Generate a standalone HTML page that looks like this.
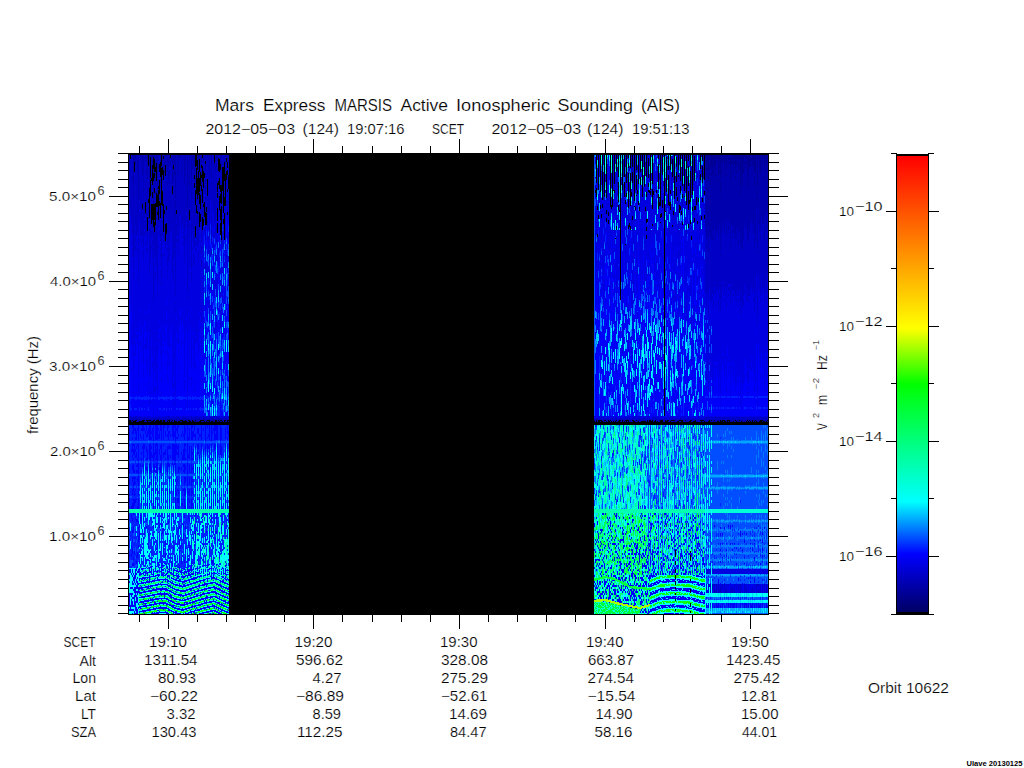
<!DOCTYPE html>
<html><head><meta charset="utf-8"><style>
html,body{margin:0;padding:0;background:#fff;width:1024px;height:768px;overflow:hidden}
svg{display:block}
text{font-family:"Liberation Sans",sans-serif;fill:#000;stroke:#fff;stroke-width:0.18px}
</style></head><body>
<svg width="1024" height="768" viewBox="0 0 1024 768" shape-rendering="crispEdges">
<defs><linearGradient id="cbg" x1="0" y1="0" x2="0" y2="1">
<stop offset="0" stop-color="#ff0000"/>
<stop offset="0.378" stop-color="#ffff00"/>
<stop offset="0.5" stop-color="#00ff00"/>
<stop offset="0.758" stop-color="#00ffff"/>
<stop offset="0.873" stop-color="#0000ff"/>
<stop offset="1" stop-color="#000064"/>
</linearGradient></defs>
<rect width="1024" height="768" fill="#fff"/>
<rect x="129" y="155" width="640" height="459" fill="#000"/><g transform="translate(0.5,155)" fill="none" stroke-width="1"><path stroke="#000096" d="M131 266v1M149 266v1M150 266v1M168 266v1M191 266v1M194 266v1M195 266v1M198 266v1M201 266v1M203 266v1M213 266v1M218 266v1"/><path stroke="#0000ae" d="M129 0v21M129 24v5M129 33v1M131 265v1M132 0v3M132 21v3M132 264v1M132 266v1M133 0v30M133 36v3M133 264v1M134 0v7M134 263v1M134 265v1M135 0v9M136 3v3M136 266v1M137 6v10M137 264v1M137 266v1M138 0v45M138 265v2M139 264v2M140 0v5M140 9v2M140 265v1M141 0v9M141 265v1M142 0v6M142 12v8M143 0v17M143 18v3M143 24v3M143 33v3M143 264v1M144 3v1M144 266v1M145 0v6M145 15v1M145 266v1M146 0v6M146 15v3M146 264v1M146 266v1M147 0v24M147 33v3M148 266v1M149 0v33M149 264v1M150 0v2M150 23v2M150 264v1M151 0v6M151 265v1M152 0v10M152 265v1M153 0v2M153 14v4M153 26v23M154 0v4M154 24v3M154 264v1M154 266v1M155 0v12M155 17v13M155 36v3M155 264v1M156 0v8M156 26v1M156 36v2M157 0v40M157 54v3M157 264v1M158 3v3M158 9v3M158 263v2M159 265v1M160 0v7M161 11v2M161 264v1M162 0v6M162 265v2M163 4v2M163 9v6M164 0v3M164 6v12M165 0v9M165 264v3M166 265v2M167 0v18M167 27v3M167 264v2M168 0v12M168 15v10M168 264v1M169 0v6M169 9v3M169 15v6M169 27v2M169 264v1M170 6v3M170 264v3M171 3v3M171 264v2M172 0v30M172 266v1M173 0v10M173 14v13M173 264v1M173 266v1M174 0v9M174 12v9M175 0v44M175 45v9M175 57v6M175 265v1M176 264v2M177 0v6M177 9v3M177 15v3M177 265v2M178 0v15M178 18v3M178 265v1M179 0v3M179 264v2M180 0v2M180 266v1M181 0v3M181 6v3M181 12v6M181 266v1M182 3v3M182 9v3M183 0v1M183 3v1M183 264v2M184 0v30M184 265v1M185 3v6M185 12v3M185 18v3M185 263v1M186 9v2M186 265v1M187 0v54M187 264v3M188 6v3M188 266v1M189 0v29M189 30v2M190 265v1M191 0v24M191 27v3M191 36v3M191 265v1M192 0v6M192 9v6M193 0v12M193 265v1M194 0v20M194 24v3M194 265v1M195 12v1M195 264v1M196 264v3M197 0v5M197 264v1M197 266v1M198 0v14M198 264v2M199 0v4M199 264v1M200 6v2M201 0v10M201 13v1M201 18v2M201 23v3M201 27v3M201 264v1M202 266v1M203 0v7M203 263v1M204 264v2M205 0v6M205 9v6M205 18v3M205 24v5M205 30v9M205 265v2M206 264v2M207 266v1M208 266v1M209 0v15M209 18v1M209 264v1M210 265v2M211 0v12M211 15v9M211 27v3M211 265v1M212 264v2M213 264v2M214 8v4M214 264v3M215 3v3M215 12v3M215 264v1M216 0v4M216 9v3M217 0v6M217 265v2M219 264v2M220 0v9M220 15v3M220 263v1M220 266v1M221 0v3M221 6v6M221 264v1M221 266v1M223 265v2M224 263v1M225 0v9M225 12v3M225 263v1M225 266v1M226 264v3M227 0v5M228 266v1"/><path stroke="#0000c7" d="M129 21v3M129 29v4M129 34v53M129 90v7M129 108v3M129 261v4M130 4v50M130 57v3M130 261v4M131 0v68M131 75v2M131 262v3M132 3v18M132 24v57M132 84v6M132 93v2M132 96v6M132 263v1M133 30v6M133 39v63M133 105v9M133 117v6M133 261v3M133 265v1M134 17v64M134 84v12M134 99v3M134 105v1M134 262v1M134 264v1M135 9v63M135 75v3M135 81v6M135 90v5M135 96v2M135 261v4M136 0v3M136 6v75M136 87v3M136 261v4M137 0v6M137 16v62M137 93v4M137 262v2M137 265v1M138 45v72M138 120v9M138 262v3M139 0v55M139 57v6M139 262v2M140 5v4M140 11v70M140 84v3M140 262v3M141 9v72M141 84v1M141 87v3M141 263v2M142 6v6M142 20v29M142 54v27M142 84v3M142 96v1M142 262v3M143 17v1M143 21v3M143 27v6M143 36v57M143 96v9M143 263v1M144 0v3M144 4v59M144 66v9M144 78v3M144 262v3M145 6v9M145 16v31M145 58v23M145 87v3M145 262v4M146 6v9M146 18v60M146 93v3M146 262v2M147 24v9M147 36v26M147 76v15M147 93v6M147 262v3M148 11v33M148 48v16M148 66v3M148 75v3M148 262v3M149 63v57M149 263v1M150 41v61M150 105v3M150 126v2M150 262v2M151 6v17M151 26v23M151 69v12M151 90v3M151 263v2M152 30v7M152 43v6M152 65v16M152 84v6M152 93v3M152 99v4M152 262v3M153 72v75M153 156v2M153 263v2M154 17v1M154 23v1M154 27v6M154 38v11M154 65v2M154 77v22M154 108v3M154 263v1M155 30v6M155 39v9M155 70v35M155 117v6M155 262v2M155 265v1M156 27v9M156 52v50M156 105v6M156 262v3M157 52v2M157 60v69M157 138v3M157 262v2M158 0v3M158 6v3M158 12v19M158 34v1M158 65v8M158 90v3M158 262v1M159 0v9M159 17v8M159 39v7M159 51v18M159 75v6M159 262v3M160 22v26M160 63v7M160 72v14M160 93v1M160 99v3M160 263v2M161 50v61M161 114v9M161 126v4M161 263v1M162 6v6M162 20v16M162 51v12M162 66v3M162 72v1M162 75v6M162 262v3M163 0v1M163 6v3M163 25v24M163 78v9M163 99v2M163 262v3M164 3v3M164 18v37M164 59v16M164 78v9M164 99v2M164 263v2M165 9v1M165 21v48M165 86v7M165 262v2M166 0v51M166 55v8M166 261v1M166 263v2M167 18v9M167 30v60M167 93v3M167 102v9M167 114v3M167 120v3M167 261v1M167 263v1M168 12v3M168 25v80M168 261v3M169 6v3M169 12v3M169 21v6M169 29v58M169 93v3M169 99v3M169 105v2M169 261v3M170 3v3M170 9v69M170 263v1M171 0v3M171 6v63M171 72v3M171 262v2M172 30v1M172 39v81M172 262v3M173 27v78M173 114v3M173 120v6M173 262v2M173 265v1M174 9v3M174 21v68M174 90v3M174 96v6M174 108v3M174 263v2M175 44v1M175 54v3M175 63v68M175 132v9M175 147v2M175 153v3M175 262v3M176 0v55M176 59v7M176 69v12M176 84v3M176 261v3M177 6v3M177 12v3M177 18v63M177 84v4M177 90v6M177 99v1M177 262v3M178 15v3M178 21v69M178 96v3M178 262v3M179 3v60M179 66v6M179 263v1M180 2v58M180 63v2M180 66v1M180 262v3M181 3v3M181 9v3M181 18v60M181 262v3M182 0v3M182 6v3M182 12v47M182 60v9M182 263v2M183 1v2M183 4v71M183 78v2M183 81v3M183 87v3M183 261v3M184 30v72M184 105v3M184 126v1M184 129v1M184 262v3M185 0v3M185 9v3M185 15v3M185 21v50M185 72v3M185 81v6M185 102v1M185 262v1M185 264v1M186 0v9M186 11v46M186 60v6M186 69v3M186 81v2M186 262v3M187 54v84M187 141v3M187 156v3M187 263v1M188 0v6M188 9v66M188 78v3M188 262v3M189 29v1M189 32v23M189 65v34M189 102v5M189 108v3M189 117v2M189 263v2M190 0v62M190 63v3M190 69v3M190 262v3M191 24v3M191 30v6M191 39v75M191 117v5M191 123v3M191 261v4M192 6v3M192 15v63M192 93v1M192 263v2M193 12v65M193 78v9M193 90v1M193 99v3M193 105v5M193 262v3M194 27v1M194 33v60M194 102v3M194 108v3M194 262v3M195 13v22M195 50v21M195 82v2M195 87v3M195 93v3M195 262v2M196 11v2M196 39v11M196 58v17M196 78v6M196 87v3M196 261v3M197 15v8M197 44v12M197 59v20M197 81v9M197 261v1M197 263v1M197 265v1M198 14v2M198 40v40M198 81v6M198 96v6M198 105v2M198 262v2M199 17v6M199 37v1M199 49v8M199 72v3M199 262v2M199 265v1M200 0v6M200 8v9M200 31v9M200 54v5M200 67v5M200 263v2M201 14v4M201 26v1M201 36v51M201 90v9M201 105v6M201 114v1M201 262v2M202 3v8M202 27v7M202 48v12M202 75v3M202 262v3M203 7v9M203 33v16M203 52v12M203 261v2M203 264v1M204 0v18M204 23v16M204 42v4M204 263v1M205 15v3M205 21v3M205 29v1M205 39v18M205 70v15M205 90v9M205 111v3M205 117v3M205 262v3M206 0v33M206 42v6M206 262v2M207 0v24M207 41v21M207 63v9M207 263v2M208 0v57M208 263v2M209 15v3M209 19v65M209 96v2M209 99v1M209 261v1M209 263v1M210 0v24M210 27v3M210 33v6M210 42v3M210 262v3M211 12v3M211 24v3M211 30v58M211 96v4M211 108v3M211 262v3M212 0v51M212 262v2M213 0v56M213 261v1M213 263v1M214 12v59M214 78v5M214 261v3M215 0v3M215 6v6M215 15v51M215 72v7M215 263v1M216 4v5M216 12v41M216 54v1M216 70v8M216 84v4M216 261v1M216 263v2M217 6v22M217 37v1M217 43v10M217 262v3M218 0v3M218 16v10M218 36v6M218 263v2M219 0v4M219 17v6M219 36v4M219 262v2M220 18v12M220 37v2M220 48v6M220 65v3M220 264v1M221 3v3M221 12v18M221 49v2M221 85v5M221 261v1M221 263v1M222 0v12M222 39v9M222 52v4M222 263v3M223 0v12M223 263v2M224 0v7M224 26v16M224 261v2M224 264v1M225 9v3M225 15v4M225 51v33M225 90v6M225 261v1M225 264v1M226 0v3M226 7v9M226 25v17M226 45v5M226 262v2M227 5v2M227 13v2M227 20v14M227 37v20M227 60v1M227 63v6M227 81v3M227 262v3M228 0v20M228 34v17M228 262v3"/><path stroke="#0000e0" d="M129 87v3M129 97v11M129 111v87M129 201v6M129 210v6M130 54v3M130 60v81M130 144v6M131 68v7M131 77v80M131 168v9M131 180v9M131 261v1M132 81v3M132 90v3M132 95v1M132 102v90M132 195v6M132 213v3M132 261v2M133 102v3M133 114v3M133 123v70M133 195v21M133 219v3M133 228v3M133 237v2M134 81v3M134 96v3M134 102v3M134 106v83M134 198v3M134 204v3M134 210v3M134 222v3M134 261v1M135 72v3M135 78v3M135 87v3M135 95v1M135 98v76M135 177v6M135 186v15M136 81v6M136 90v83M136 174v3M136 180v3M137 78v15M137 97v80M137 180v9M137 261v1M138 117v3M138 129v96M138 228v12M138 261v1M139 55v2M139 63v90M139 156v12M139 171v3M139 261v1M140 81v3M140 87v84M140 174v8M140 186v6M140 195v3M140 261v1M141 81v3M141 85v2M141 90v76M141 168v12M141 186v6M141 204v3M141 261v2M142 81v3M142 87v9M142 97v74M142 183v3M142 192v3M142 201v2M142 261v1M143 93v3M143 105v105M143 213v9M143 247v2M143 261v2M144 63v3M144 75v3M144 81v75M144 159v6M144 174v3M144 189v3M144 261v1M145 81v6M145 90v78M145 171v3M145 183v3M145 189v6M145 198v2M145 261v1M146 78v15M146 96v81M146 183v12M146 204v6M146 261v1M147 91v2M147 99v96M147 201v18M147 228v3M147 261v1M148 64v2M148 69v6M148 78v71M148 150v3M148 159v9M148 171v2M148 174v3M148 261v1M149 120v102M149 225v3M149 234v6M149 246v3M149 261v2M150 102v3M150 108v18M150 128v94M150 231v3M150 237v2M150 246v3M150 261v1M151 81v9M151 93v90M151 186v1M151 192v3M151 201v1M151 261v2M152 81v3M152 90v3M152 96v3M152 103v98M152 207v6M152 261v1M153 147v9M153 158v83M153 246v6M153 255v8M154 99v9M154 111v76M154 192v6M154 201v11M154 213v3M154 234v3M154 261v2M155 105v12M155 123v96M155 222v3M155 231v7M155 261v1M156 102v3M156 111v93M156 207v6M156 216v9M156 231v3M156 261v1M157 129v9M157 141v99M157 246v3M157 256v6M158 73v17M158 93v81M158 177v3M158 183v3M158 189v6M158 261v1M159 69v6M159 81v84M159 168v6M159 183v6M159 261v1M160 70v2M160 86v7M160 94v5M160 102v68M160 171v3M160 177v15M160 195v6M160 261v2M161 111v3M161 123v3M161 130v86M161 222v6M161 237v3M161 257v1M161 261v2M162 63v3M162 69v3M162 73v2M162 81v90M162 174v3M162 180v3M162 189v1M162 261v1M163 77v1M163 87v12M163 101v79M163 183v3M163 189v3M163 195v3M163 261v1M164 75v3M164 87v12M164 101v79M164 183v3M164 207v3M164 261v2M165 93v78M165 177v9M165 195v3M165 261v1M166 63v5M166 79v65M166 150v6M166 165v3M166 262v1M167 90v3M167 96v6M167 111v3M167 117v3M167 123v69M167 195v6M167 204v12M167 219v6M167 262v1M168 105v87M168 198v8M168 207v3M168 225v3M169 87v6M169 96v3M169 102v3M169 107v70M169 180v12M169 207v3M170 78v81M170 162v12M170 177v3M170 189v3M170 261v2M171 69v3M171 75v96M171 174v3M171 261v1M172 120v114M172 247v2M172 261v1M173 105v9M173 117v3M173 126v84M173 213v9M173 228v6M173 237v3M173 246v3M173 261v1M174 89v1M174 93v3M174 102v6M174 111v75M174 189v1M174 192v12M174 210v3M174 216v1M174 225v6M174 261v2M175 131v1M175 141v6M175 149v4M175 156v85M175 245v1M175 247v5M175 258v1M175 261v1M176 66v3M176 81v3M176 87v75M176 165v12M176 183v3M177 81v3M177 88v2M177 96v3M177 100v80M177 183v6M177 201v6M177 261v1M178 90v6M178 99v90M178 192v7M178 207v9M178 219v3M178 225v3M178 261v1M179 63v3M179 72v84M179 159v12M179 186v2M179 261v2M180 60v3M180 65v1M180 67v79M180 147v6M180 162v3M180 261v1M181 78v93M181 177v3M181 183v9M181 198v3M181 261v1M182 59v1M182 69v85M182 156v10M182 261v2M183 75v3M183 80v1M183 84v3M183 90v81M183 174v3M183 186v3M184 102v3M184 108v18M184 127v2M184 130v88M184 219v3M184 225v9M184 261v1M185 71v1M185 75v6M185 87v15M185 103v83M185 261v1M186 57v3M186 66v3M186 72v9M186 83v79M186 165v9M186 261v1M187 138v3M187 144v12M187 159v82M187 245v8M187 261v2M188 75v3M188 81v76M188 159v9M188 171v6M188 261v1M189 99v3M189 107v1M189 111v6M189 119v85M189 207v2M189 222v3M189 261v2M190 62v1M190 66v3M190 72v81M190 156v4M190 162v9M190 261v1M191 114v3M191 122v1M191 126v87M191 222v3M191 228v3M192 78v15M192 94v83M192 180v3M192 192v3M192 261v2M193 77v1M193 87v3M193 91v8M193 102v3M193 110v63M193 174v3M193 180v14M193 198v1M193 201v3M193 207v3M193 261v1M194 93v9M194 105v3M194 111v87M194 201v15M194 225v3M194 231v6M194 261v1M195 84v3M195 90v3M195 96v84M195 183v6M195 198v3M195 210v3M195 261v1M196 75v3M196 84v3M196 90v99M197 79v2M197 90v96M197 198v3M197 262v1M198 80v1M198 87v9M198 102v3M198 107v76M198 186v12M198 216v1M198 261v1M199 75v81M199 159v6M199 174v2M199 189v3M199 261v1M200 72v90M200 165v3M200 171v3M200 186v2M200 261v2M201 87v3M201 99v6M201 111v3M201 115v86M201 210v6M201 225v3M201 261v1M202 60v2M202 78v90M202 174v1M202 261v1M203 71v88M203 162v5M203 168v6M203 180v3M204 39v3M204 46v1M204 62v4M204 72v6M204 108v6M204 261v2M205 85v2M205 99v12M205 114v3M205 120v36M205 168v36M205 231v3M205 261v1M206 33v9M206 48v4M206 57v1M206 70v1M206 106v11M206 261v1M207 62v1M207 72v16M207 95v6M207 107v18M207 137v5M207 144v6M207 153v12M207 261v2M208 57v14M208 72v3M208 81v18M208 111v6M208 129v6M208 141v3M208 147v6M208 261v2M209 84v1M209 91v5M209 98v1M209 100v27M209 133v6M209 145v18M209 175v5M209 201v6M209 262v1M210 24v3M210 30v3M210 39v3M210 45v14M210 60v6M210 96v6M210 132v5M210 261v1M211 94v2M211 106v2M211 111v25M211 148v6M211 160v18M211 190v2M211 198v3M211 261v1M212 51v21M212 75v6M212 87v6M212 111v6M212 123v6M212 261v1M213 56v50M213 112v9M213 126v6M213 135v3M213 144v3M213 262v1M214 77v1M214 89v6M214 125v18M214 173v6M215 66v6M215 79v7M215 98v12M215 122v12M215 152v12M215 170v4M215 177v3M215 183v3M215 200v1M215 261v2M216 53v1M216 55v15M216 78v6M216 100v6M216 118v24M216 160v17M216 262v1M217 66v2M217 78v14M217 95v12M217 119v24M217 149v6M217 168v3M217 261v1M218 30v6M218 42v39M218 93v15M218 261v2M219 34v2M219 40v1M219 55v30M219 87v3M219 91v6M219 103v2M219 108v3M219 117v3M219 123v3M219 261v1M220 113v6M220 125v6M220 137v6M220 155v18M220 204v3M220 261v2M221 90v16M221 112v6M221 124v18M221 148v12M221 166v13M221 180v3M221 262v1M222 36v3M222 48v4M222 56v14M222 76v18M222 112v6M222 130v2M222 135v3M222 141v6M222 261v2M223 58v6M223 69v23M223 98v16M223 117v3M223 128v1M223 261v2M224 51v7M224 107v6M224 132v3M224 138v6M224 147v2M225 84v1M225 89v1M225 96v17M225 119v6M225 131v12M225 144v3M225 155v18M225 174v9M225 186v3M225 197v12M225 262v1M226 42v3M226 50v15M226 95v18M226 261v1M227 61v2M227 69v12M227 84v1M227 88v6M227 100v18M227 130v6M227 142v6M227 154v11M227 261v1M228 51v12M228 77v6M228 101v6M228 119v12M228 149v1M228 156v3M228 165v2M228 261v1"/><path stroke="#0000f9" d="M129 198v3M129 207v3M129 216v26M129 244v17M129 273v12M129 289v2M129 300v3M129 308v10M129 324v6M129 339v2M129 343v5M129 351v3M129 399v3M129 414v4M129 420v4M129 426v2M129 438v14M129 454v2M130 141v3M130 150v91M130 246v3M130 256v5M130 414v4M130 432v2M130 438v2M130 450v6M131 157v11M131 177v3M131 189v53M131 244v9M131 255v6M131 294v3M131 351v3M131 360v3M131 390v3M131 399v3M131 418v2M131 432v2M131 438v4M131 444v8M131 454v2M132 192v3M132 201v12M132 216v26M132 244v17M132 270v3M132 276v3M132 282v3M132 289v8M132 300v3M132 310v5M132 322v5M132 334v6M132 344v1M132 348v6M132 363v3M132 375v3M132 384v3M132 393v6M132 408v3M132 414v4M132 420v2M132 426v4M132 432v2M132 438v2M132 442v2M132 446v6M132 454v2M132 458v1M133 193v2M133 216v3M133 222v6M133 231v6M133 239v3M133 243v18M133 270v9M133 289v2M133 294v6M133 303v2M133 309v9M133 322v2M133 327v4M133 333v3M133 339v1M133 344v10M133 358v2M133 372v6M133 402v3M133 408v3M133 418v2M133 422v4M133 428v2M133 434v2M133 442v2M133 450v2M133 454v2M134 189v9M134 201v3M134 207v3M134 213v9M134 225v17M134 244v9M134 255v6M134 273v3M134 289v11M134 315v3M134 322v8M134 336v5M134 344v7M134 396v3M134 420v8M134 432v6M134 440v12M134 456v3M135 174v3M135 183v3M135 201v41M135 245v8M135 255v6M135 273v6M135 282v3M135 294v3M135 300v3M135 322v2M135 327v2M135 334v2M135 339v1M135 344v4M135 362v3M135 414v10M135 428v2M135 432v10M135 446v10M135 458v1M136 173v1M136 177v3M136 183v58M136 245v8M136 255v6M136 276v9M136 291v3M136 297v6M136 310v2M136 315v3M136 344v1M136 364v3M136 400v3M136 406v3M136 413v3M136 418v2M136 424v4M136 430v4M136 436v2M136 440v8M136 452v7M137 177v3M137 189v53M137 244v17M137 273v3M137 289v2M137 303v2M137 309v3M137 315v3M137 323v4M137 351v3M137 364v3M137 397v6M137 412v1M137 416v2M137 422v2M137 426v8M137 436v4M137 442v6M137 454v5M138 225v3M138 240v2M138 244v17M138 270v15M138 289v17M138 308v11M138 321v10M138 334v6M138 344v10M138 358v2M138 366v3M138 372v3M138 381v6M138 390v3M138 414v4M138 428v2M138 432v6M138 448v2M138 452v2M139 153v3M139 168v3M139 174v67M139 245v7M139 256v5M139 370v3M139 376v9M139 406v3M139 414v1M139 416v1M139 419v1M139 423v2M139 428v1M139 432v3M139 436v3M139 442v1M139 447v1M139 451v2M139 456v2M140 171v3M140 182v4M140 192v3M140 198v44M140 244v17M140 279v3M140 303v1M140 309v3M140 360v6M140 396v3M140 417v3M140 423v1M140 428v1M140 430v1M140 432v2M140 437v2M140 440v1M140 442v1M140 446v2M140 451v3M140 456v1M141 166v2M141 180v6M141 192v12M141 207v35M141 245v8M141 255v6M141 273v3M141 282v2M141 297v3M141 303v2M141 315v3M141 324v3M141 336v3M141 344v7M141 361v6M141 413v2M141 419v1M141 424v1M141 426v3M141 431v4M141 437v2M141 441v2M141 446v2M141 451v1M141 453v1M141 456v1M142 171v12M142 186v6M142 195v6M142 203v39M142 245v8M142 255v6M142 270v6M142 291v3M142 310v2M142 413v2M142 418v1M142 422v3M142 427v2M142 432v4M142 437v1M142 441v2M142 446v2M142 449v1M142 451v1M142 455v2M143 210v3M143 222v20M143 244v3M143 249v12M143 270v6M143 279v6M143 289v17M143 309v9M143 321v9M143 334v2M143 343v2M143 363v3M143 382v2M143 413v1M143 417v3M143 422v2M143 425v1M143 427v2M143 432v1M143 434v1M143 436v2M143 441v2M143 444v1M143 446v3M143 450v2M143 455v3M144 156v3M144 165v9M144 177v12M144 192v49M144 245v8M144 255v6M144 273v3M144 289v5M144 372v2M144 377v3M144 417v1M144 420v1M144 422v3M144 427v1M144 430v1M144 432v1M144 435v3M144 439v1M144 441v2M144 445v2M144 448v1M144 450v2M144 455v2M144 458v1M145 168v3M145 174v9M145 186v3M145 195v3M145 200v42M145 245v16M145 276v3M145 312v3M145 345v3M145 351v3M145 403v3M145 413v1M145 417v2M145 420v1M145 422v2M145 427v2M145 431v2M145 436v2M145 440v2M145 445v2M145 448v4M145 455v2M146 177v6M146 195v9M146 210v31M146 245v16M146 270v6M146 279v3M146 291v6M146 303v2M146 312v3M146 371v2M146 408v1M146 412v1M146 416v1M146 418v1M146 422v1M146 424v1M146 426v2M146 431v2M146 434v1M146 436v1M146 439v1M146 441v1M146 445v2M146 448v1M146 450v3M146 455v1M147 195v6M147 219v9M147 231v11M147 244v10M147 255v6M147 276v6M147 294v11M147 312v6M147 335v5M147 345v9M147 413v1M147 417v4M147 422v2M147 425v3M147 431v3M147 436v1M147 440v2M147 445v2M147 450v1M147 454v2M148 149v1M148 153v6M148 168v3M148 173v1M148 177v64M148 245v7M148 256v5M148 273v6M148 378v3M148 390v3M148 417v1M148 422v1M148 426v2M148 430v4M148 435v2M148 440v2M148 444v3M148 450v1M148 454v2M149 222v3M149 228v6M149 240v2M149 244v2M149 249v12M149 270v15M149 289v16M149 309v10M149 322v2M149 327v4M149 336v4M149 344v1M149 348v6M149 408v1M149 412v6M149 420v8M149 431v1M149 433v1M149 435v2M149 440v2M149 445v1M149 449v2M149 453v3M150 222v9M150 234v3M150 239v4M150 244v2M150 249v12M150 270v15M150 289v17M150 308v9M150 412v1M150 416v2M150 426v1M150 430v3M150 435v2M150 438v1M150 440v1M150 443v3M150 447v1M150 449v2M150 452v1M150 454v2M151 183v3M151 187v5M151 195v6M151 202v40M151 245v16M151 276v3M151 282v3M151 291v3M151 297v6M151 312v6M151 324v6M151 334v2M151 339v1M151 345v3M151 403v3M151 411v1M151 413v4M151 418v1M151 421v1M151 426v2M151 430v2M151 433v1M151 435v2M151 440v1M151 444v2M151 447v1M151 449v2M151 454v1M151 458v1M152 201v6M152 213v29M152 244v17M152 273v9M152 300v3M152 411v1M152 419v1M152 421v1M152 425v2M152 430v2M152 434v2M152 439v2M152 443v4M152 449v1M152 454v1M152 457v2M153 241v5M153 252v3M153 270v16M153 288v18M153 308v11M153 321v10M153 333v8M153 343v11M153 370v3M153 414v8M153 425v2M153 430v1M153 433v3M153 439v2M153 442v1M153 444v2M153 449v2M153 452v3M153 458v1M154 187v5M154 198v3M154 212v1M154 216v18M154 237v5M154 244v17M154 297v6M154 309v8M154 416v1M154 421v1M154 424v3M154 430v1M154 434v2M154 439v3M154 444v1M154 446v4M154 453v2M154 457v2M155 219v3M155 225v6M155 238v5M155 244v17M155 270v15M155 289v11M155 303v2M155 312v1M155 315v3M155 322v2M155 327v3M155 334v5M155 343v5M155 351v3M155 359v3M155 371v2M155 407v1M155 413v1M155 415v1M155 420v2M155 423v1M155 425v1M155 429v2M155 434v2M155 439v1M155 443v2M155 447v3M155 453v2M155 458v1M156 204v3M156 213v3M156 225v6M156 234v9M156 244v17M156 270v15M156 288v3M156 294v11M156 308v10M156 393v2M156 411v1M156 416v1M156 420v1M156 425v1M156 429v2M156 432v4M156 439v1M156 443v2M156 448v2M156 452v2M156 457v2M157 240v6M157 249v7M157 270v15M157 289v17M157 308v11M157 322v5M157 330v1M157 333v8M157 344v10M157 390v3M157 415v3M157 419v2M157 422v4M157 429v2M157 433v2M157 436v1M157 438v2M157 443v2M157 446v1M157 448v1M157 453v1M157 455v1M157 457v2M158 174v3M158 180v3M158 186v3M158 195v46M158 245v16M158 273v3M158 279v5M158 365v3M158 407v3M158 411v1M158 419v3M158 424v2M158 428v2M158 433v2M158 438v2M158 443v2M158 448v1M158 452v2M158 455v1M158 457v2M159 165v3M159 174v9M159 189v53M159 245v8M159 255v6M159 276v8M159 294v6M159 312v3M159 370v3M159 420v1M159 424v2M159 429v1M159 433v2M159 438v2M159 441v1M159 443v1M159 447v3M159 452v2M159 456v2M160 170v1M160 174v3M160 192v3M160 201v41M160 244v9M160 255v6M160 270v6M160 290v4M160 300v5M160 309v9M160 416v1M160 424v1M160 428v2M160 433v3M160 437v3M160 443v1M160 447v2M160 451v3M160 457v1M161 216v6M161 228v9M161 240v2M161 244v13M161 258v3M161 270v15M161 289v17M161 308v10M161 321v3M161 327v3M161 333v8M161 343v5M161 351v3M161 358v2M161 369v3M161 378v3M161 408v13M161 424v1M161 427v1M161 429v2M161 433v3M161 438v3M161 443v2M161 447v2M161 452v2M161 457v1M162 171v3M162 177v3M162 183v6M162 190v51M162 244v11M162 256v5M162 376v3M162 410v1M162 414v2M162 419v2M162 424v1M162 426v2M162 429v1M162 432v3M162 438v2M162 443v1M162 445v1M162 447v2M162 452v2M162 457v1M163 180v3M163 186v3M163 192v3M163 198v44M163 245v8M163 255v6M163 270v15M163 289v2M163 297v6M163 336v3M163 344v1M163 373v2M163 393v6M163 410v1M163 414v2M163 417v1M163 419v1M163 424v1M163 429v1M163 433v2M163 438v2M163 443v1M163 447v3M163 452v3M163 457v1M164 180v3M164 186v21M164 210v32M164 245v8M164 255v6M164 270v3M164 297v3M164 408v1M164 410v1M164 413v1M164 418v1M164 420v1M164 424v1M164 429v1M164 433v2M164 437v7M164 447v2M164 452v2M164 457v1M165 171v6M165 186v9M165 198v44M165 244v17M165 276v6M165 294v6M165 303v2M165 334v2M165 339v1M165 351v3M165 385v5M165 399v3M165 419v2M165 423v2M165 426v1M165 429v1M165 431v1M165 433v3M165 438v2M165 443v1M165 447v2M165 452v2M165 456v2M166 144v6M166 156v9M166 168v73M166 246v7M166 256v5M166 411v1M166 418v2M166 424v1M166 429v1M166 433v3M166 438v2M166 443v2M166 448v3M166 452v2M166 457v2M167 192v3M167 201v3M167 216v3M167 225v17M167 244v17M167 270v6M167 279v3M167 291v14M167 308v11M167 334v6M167 344v1M167 351v3M167 384v3M167 412v2M167 415v4M167 420v3M167 424v4M167 429v2M167 434v2M167 438v2M167 443v2M167 448v2M167 453v1M167 457v2M168 192v6M168 206v1M168 210v15M168 228v14M168 244v17M168 270v3M168 276v9M168 291v3M168 300v5M168 308v4M168 366v3M168 414v1M168 416v1M168 420v2M168 425v2M168 428v1M168 430v2M168 433v1M168 435v1M168 439v2M168 444v3M168 449v1M168 453v3M168 458v1M169 177v3M169 192v15M169 210v32M169 244v9M169 255v6M169 276v3M169 289v5M169 309v3M169 322v5M169 334v5M169 344v4M169 351v3M169 385v1M169 389v3M169 410v3M169 414v3M169 421v3M169 426v1M169 430v2M169 435v2M169 438v1M169 440v2M169 445v1M169 447v1M169 449v2M169 454v2M170 159v3M170 174v3M170 180v9M170 192v49M170 245v16M170 279v3M170 291v3M170 300v3M170 417v2M170 426v2M170 430v3M170 435v2M170 439v4M170 445v2M170 449v2M170 455v1M171 171v3M171 177v64M171 245v8M171 255v6M171 335v1M171 348v3M171 367v3M171 406v3M171 413v2M171 417v1M171 422v2M171 427v2M171 432v1M171 436v2M171 440v4M171 445v2M171 450v2M171 455v2M172 234v8M172 244v3M172 249v12M172 270v12M172 289v16M172 308v2M172 408v3M172 419v1M172 423v1M172 426v3M172 431v3M172 435v1M172 437v1M172 442v1M172 446v2M172 450v3M172 456v1M173 210v3M173 222v6M173 234v3M173 240v2M173 243v3M173 249v12M173 270v15M173 289v16M173 309v8M173 324v7M173 334v6M173 343v2M173 359v3M173 386v3M173 392v3M173 413v1M173 415v1M173 417v5M173 423v2M173 428v2M173 433v1M173 437v2M173 442v2M173 446v2M173 450v3M173 456v3M174 186v3M174 190v2M174 204v6M174 213v3M174 217v8M174 231v11M174 244v17M174 270v3M174 276v6M174 289v17M174 308v2M174 414v2M174 420v1M174 424v1M174 429v1M174 433v2M174 438v2M174 443v2M174 447v2M174 450v1M174 452v2M174 457v1M175 241v4M175 246v1M175 252v6M175 259v2M175 270v16M175 289v17M175 308v11M175 324v3M175 333v8M175 343v11M175 411v1M175 413v1M175 415v1M175 420v1M175 424v2M175 427v1M175 429v2M175 434v1M175 436v1M175 438v2M175 443v2M175 448v1M175 452v2M175 456v3M176 162v3M176 177v6M176 186v56M176 244v9M176 255v6M176 273v3M176 282v2M176 289v11M176 322v2M176 327v3M176 336v4M176 370v1M176 410v1M176 416v1M176 418v1M176 423v3M176 429v2M176 434v2M176 437v1M176 439v1M176 443v2M176 446v1M176 448v2M176 451v1M176 453v1M176 456v3M177 180v3M177 189v12M177 207v35M177 244v9M177 255v6M177 270v9M177 282v2M177 291v3M177 297v3M177 324v3M177 334v2M177 343v5M177 358v1M177 414v3M177 420v3M177 425v1M177 429v2M177 434v2M177 439v1M177 444v1M177 448v2M177 453v2M177 458v1M178 189v3M178 199v8M178 216v3M178 222v3M178 228v13M178 244v17M178 270v3M178 279v3M178 289v14M178 312v6M178 335v4M178 343v5M178 351v3M178 373v3M178 382v3M178 412v1M178 416v2M178 419v5M178 425v2M178 430v1M178 434v2M178 439v2M178 444v1M178 448v2M178 451v1M178 453v2M178 458v1M179 156v3M179 171v15M179 188v53M179 245v8M179 255v6M179 312v3M179 371v3M179 386v3M179 395v3M179 401v6M179 410v4M179 416v1M179 421v1M179 424v3M179 428v4M179 435v1M179 439v2M179 444v2M179 448v2M179 453v2M179 458v1M180 146v1M180 153v9M180 165v76M180 245v8M180 255v6M180 391v3M180 416v2M180 424v3M180 430v2M180 435v2M180 439v3M180 444v2M180 449v2M180 454v1M180 458v1M181 171v6M181 180v3M181 192v6M181 201v41M181 245v8M181 255v6M181 279v3M181 297v3M181 303v1M181 312v3M181 324v3M181 344v1M181 348v3M181 388v3M181 403v6M181 414v6M181 421v1M181 426v1M181 430v2M181 435v2M181 439v2M181 445v1M181 449v2M181 454v2M182 154v2M182 166v75M182 245v16M182 276v3M182 300v5M182 335v1M182 348v3M182 413v1M182 417v1M182 426v3M182 431v2M182 435v2M182 440v2M182 444v2M182 449v2M182 453v3M183 171v3M183 177v9M183 189v53M183 244v17M183 279v3M183 294v11M183 309v3M183 315v2M183 334v2M183 344v1M183 369v3M183 378v6M183 421v2M183 426v2M183 429v3M183 435v2M183 440v2M183 443v1M183 445v1M183 449v2M183 454v2M183 458v1M184 218v1M184 222v3M184 234v8M184 244v17M184 270v15M184 288v17M184 309v9M184 322v8M184 333v8M184 344v10M184 360v3M184 405v3M184 413v2M184 416v4M184 421v2M184 425v3M184 429v3M184 435v2M184 440v1M184 444v2M184 447v4M184 454v1M185 186v56M185 244v17M185 273v6M185 289v2M185 294v3M185 303v2M185 310v5M185 322v5M185 334v6M185 351v3M185 371v3M185 380v3M185 392v6M185 401v3M185 416v2M185 420v2M185 425v2M185 428v1M185 430v2M185 435v2M185 438v3M185 444v2M185 447v1M185 449v1M185 453v2M185 457v2M186 162v3M186 174v68M186 245v8M186 256v5M186 416v2M186 420v1M186 425v2M186 430v1M186 434v2M186 439v2M186 444v1M186 447v3M186 453v2M186 458v1M187 241v4M187 253v8M187 270v16M187 288v17M187 308v11M187 322v9M187 333v8M187 343v11M187 404v3M187 413v4M187 420v3M187 425v1M187 429v2M187 434v2M187 439v1M187 442v3M187 447v3M187 453v1M187 455v1M187 458v1M188 157v2M188 168v3M188 177v64M188 245v8M188 255v6M188 282v3M188 300v3M188 336v3M188 344v1M188 358v6M188 388v3M188 403v3M188 411v1M188 414v7M188 424v2M188 429v2M188 434v1M188 438v2M188 443v2M188 448v1M188 452v2M188 457v2M189 204v3M189 209v13M189 225v17M189 244v17M189 273v12M189 291v13M189 309v9M189 322v8M189 334v7M189 345v3M189 351v3M189 363v3M189 390v6M189 414v3M189 418v3M189 424v4M189 429v1M189 433v2M189 438v2M189 443v1M189 447v2M189 452v2M189 457v1M190 153v3M190 160v2M190 171v70M190 245v8M190 255v6M190 390v3M190 396v3M190 414v1M190 419v2M190 424v1M190 428v2M190 433v3M190 438v1M190 440v1M190 442v2M190 445v1M190 447v2M190 452v1M190 455v3M191 213v9M191 225v3M191 231v12M191 244v17M191 270v15M191 291v14M191 309v9M191 322v9M191 333v8M191 344v10M191 406v11M191 418v2M191 421v1M191 423v2M191 428v2M191 433v3M191 437v3M191 442v2M191 447v1M191 451v2M191 454v1M191 456v3M192 177v3M192 183v9M192 195v46M192 245v16M192 270v3M192 276v9M192 297v3M192 303v2M192 312v3M192 324v3M192 335v4M192 344v1M192 348v3M192 408v1M192 418v2M192 423v2M192 428v1M192 432v2M192 437v2M192 442v1M192 446v3M192 450v3M192 456v1M193 173v1M193 177v3M193 194v4M193 199v2M193 204v3M193 210v32M193 245v8M193 255v6M193 276v6M193 289v2M193 294v11M193 309v9M193 324v3M193 339v1M193 344v1M193 351v3M193 396v1M193 409v1M193 414v1M193 416v1M193 418v2M193 423v2M193 427v2M193 432v2M193 435v1M193 437v1M193 441v2M193 446v2M193 451v1M193 456v2M194 198v3M194 216v9M194 228v3M194 237v5M194 244v17M194 270v6M194 279v3M194 369v5M194 377v2M194 389v3M194 401v3M194 407v2M194 422v3M194 427v2M194 432v1M194 435v5M194 441v2M194 446v2M194 450v3M194 455v4M195 180v3M195 189v9M195 201v9M195 213v28M195 244v9M195 255v6M195 279v6M195 291v3M195 300v5M195 309v6M195 322v2M195 327v3M195 335v1M195 348v6M195 358v3M195 376v9M195 413v1M195 417v4M195 422v2M195 427v2M195 431v2M195 436v2M195 441v1M195 445v2M195 448v1M195 450v2M195 454v2M195 458v1M196 189v53M196 245v8M196 255v6M196 413v1M196 417v1M196 422v2M196 426v2M196 431v2M196 436v1M196 439v3M196 445v2M196 450v1M196 452v2M196 455v1M196 457v1M197 186v12M197 201v41M197 244v17M197 273v6M197 289v11M197 303v2M197 312v6M197 327v2M197 344v1M197 412v4M197 417v3M197 421v2M197 426v2M197 431v1M197 433v1M197 435v2M197 439v3M197 445v1M197 450v1M197 454v2M198 183v3M198 198v18M198 217v25M198 244v17M198 273v6M198 282v3M198 289v5M198 297v2M198 417v1M198 421v1M198 426v1M198 430v2M198 434v3M198 438v1M198 440v1M198 444v2M198 449v2M198 454v2M199 156v3M199 165v9M199 176v13M199 192v50M199 245v8M199 255v6M199 279v3M199 300v4M199 312v3M199 344v4M199 409v1M199 415v2M199 421v2M199 425v2M199 429v4M199 435v1M199 440v1M199 444v2M199 447v1M199 449v2M199 454v2M199 458v1M200 162v3M200 168v3M200 174v12M200 188v53M200 245v7M200 256v5M200 279v3M200 398v3M200 411v1M200 418v1M200 420v2M200 425v3M200 430v1M200 435v1M200 437v1M200 439v3M200 444v2M200 449v2M200 453v2M200 458v1M201 201v9M201 216v9M201 228v14M201 244v9M201 255v6M201 270v15M201 289v8M201 300v5M201 309v3M201 315v3M201 322v5M201 336v3M201 414v1M201 416v2M201 425v1M201 430v1M201 434v2M201 439v2M201 443v2M201 448v2M201 453v2M201 458v1M202 168v6M202 175v66M202 245v8M202 256v5M202 425v1M202 429v2M202 434v2M202 438v2M202 443v2M202 448v2M202 453v1M202 457v2M203 159v3M203 167v1M203 174v6M203 183v58M203 245v8M203 255v6M203 273v3M203 294v6M203 327v3M203 344v1M203 351v3M203 389v3M203 404v3M203 414v3M203 418v1M203 424v3M203 429v2M203 434v1M203 437v3M203 443v2M203 448v1M203 452v2M203 457v2M204 66v2M204 69v1M204 78v3M204 150v6M204 162v6M204 198v12M204 222v6M204 234v6M204 258v3M204 410v1M204 420v1M204 424v2M204 427v4M204 433v3M204 438v2M204 443v1M204 445v4M204 450v1M204 452v3M204 457v1M205 87v3M205 156v6M205 222v9M205 234v9M205 244v2M205 258v3M205 270v16M205 289v17M205 308v1M205 312v6M205 322v9M205 333v8M205 348v6M205 358v2M205 382v3M205 414v3M205 419v2M205 424v1M205 428v2M205 433v2M205 438v1M205 442v3M205 447v2M205 452v2M205 457v1M206 71v5M206 82v12M206 117v1M206 142v24M206 172v12M206 190v6M206 202v18M206 226v2M206 231v1M206 238v2M206 371v1M206 375v3M206 410v1M206 423v1M206 428v4M206 433v2M206 438v1M206 440v4M206 445v4M206 452v1M206 454v1M206 456v2M207 88v7M207 125v12M207 142v2M207 150v3M207 165v2M207 173v6M207 185v6M207 197v30M207 233v8M207 246v7M207 255v2M207 270v3M207 282v2M207 289v11M207 309v3M207 322v5M207 344v4M207 364v3M207 370v3M207 409v4M207 419v2M207 423v4M207 428v2M207 433v1M207 437v2M207 441v3M207 447v1M207 450v3M207 456v2M208 71v1M208 144v3M208 171v6M208 237v4M208 256v5M208 279v3M208 291v3M208 409v2M208 414v1M208 419v1M208 423v1M208 428v1M208 432v2M208 435v1M208 437v2M208 442v1M208 447v1M208 451v2M208 456v2M209 85v6M209 127v6M209 163v6M209 180v1M209 186v1M209 199v2M209 207v10M209 229v13M209 244v3M209 255v6M209 270v15M209 289v16M209 308v10M209 322v2M209 327v3M209 336v5M209 343v5M209 351v3M209 376v3M209 385v3M209 391v6M209 409v1M209 413v2M209 417v3M209 423v1M209 428v1M209 432v2M209 435v1M209 437v2M209 442v1M209 444v1M209 446v2M209 451v3M209 456v1M209 458v1M210 59v1M210 66v3M210 90v6M210 137v1M210 150v6M210 180v6M210 234v3M210 249v3M210 413v1M210 421v1M210 427v2M210 432v2M210 437v1M210 441v3M210 446v2M210 451v1M210 455v2M210 458v1M211 88v2M211 136v12M211 154v6M211 184v5M211 192v6M211 201v7M211 220v22M211 244v6M211 270v16M211 289v17M211 309v10M211 321v9M211 333v7M211 344v10M211 360v6M211 372v3M211 405v3M211 413v3M211 417v8M211 427v2M211 432v1M211 436v2M211 441v2M211 446v2M211 451v1M211 455v2M212 72v3M212 81v1M212 135v6M212 147v12M212 165v6M212 183v6M212 201v12M212 237v2M212 240v1M212 246v3M212 276v3M212 405v4M212 418v1M212 422v2M212 427v2M212 432v1M212 436v2M212 441v2M212 446v1M212 449v3M212 455v2M212 458v1M213 106v6M213 121v5M213 132v3M213 138v6M213 147v1M213 154v12M213 172v6M213 196v6M213 226v12M213 246v4M213 252v1M213 256v2M213 273v3M213 345v6M213 372v3M213 378v2M213 405v3M213 410v1M213 413v1M213 420v4M213 427v1M213 431v2M213 436v2M213 441v1M213 444v3M213 450v2M213 455v1M213 458v1M214 71v6M214 108v1M214 111v6M214 221v12M214 270v15M214 289v7M214 365v4M214 417v2M214 422v2M214 427v1M214 431v3M214 436v2M214 441v1M214 446v1M214 450v4M214 455v2M215 86v6M215 116v5M215 164v6M215 174v3M215 180v3M215 186v8M215 201v5M215 212v12M215 230v10M215 244v4M215 260v1M215 270v6M215 279v6M215 289v5M215 297v8M215 309v3M215 318v1M215 322v8M215 333v7M215 344v7M215 376v3M215 382v3M215 397v3M215 418v1M215 427v2M215 432v3M215 436v3M215 441v2M215 446v2M215 451v1M215 455v2M216 177v1M216 226v16M216 270v15M216 361v3M216 376v3M216 409v2M216 418v1M216 422v3M216 428v2M216 432v2M216 437v3M216 441v2M216 445v1M216 447v1M216 449v1M216 451v3M216 456v2M217 92v3M217 143v6M217 167v1M217 171v56M217 233v6M217 245v6M217 256v1M217 270v15M217 289v14M217 324v3M217 339v2M217 343v5M217 351v3M217 358v2M217 409v1M217 414v2M217 417v1M217 419v1M217 424v1M217 428v2M217 433v2M217 438v1M217 442v2M217 447v2M217 452v1M217 456v2M218 81v6M218 108v3M218 117v12M218 153v6M218 165v12M218 195v6M218 207v6M218 247v2M218 418v1M218 424v1M218 429v2M218 433v2M218 438v2M218 443v1M218 447v2M218 452v4M218 457v2M219 85v2M219 90v1M219 102v1M219 105v3M219 111v6M219 120v3M219 126v19M219 151v6M219 163v18M219 193v6M219 210v12M219 225v6M219 234v1M219 401v3M219 411v1M219 418v1M219 420v1M219 425v1M219 429v2M219 433v3M219 439v1M219 441v4M219 447v3M219 453v1M219 457v2M220 89v6M220 149v1M220 203v1M220 207v8M220 239v3M220 244v17M220 270v16M220 289v11M220 425v3M220 429v3M220 434v2M220 437v1M220 439v2M220 444v1M220 449v1M220 451v1M220 453v2M220 456v1M220 458v1M221 118v6M221 160v6M221 179v1M221 183v7M221 202v36M221 250v3M221 255v6M221 273v12M221 291v12M221 308v9M221 322v8M221 339v2M221 344v1M221 348v6M221 372v3M221 378v1M221 414v1M221 416v4M221 421v1M221 423v1M221 426v1M221 430v3M221 435v2M221 440v1M221 444v2M221 448v3M221 454v3M221 458v1M222 132v3M222 138v3M222 147v1M222 154v6M222 166v6M222 178v6M222 220v6M222 256v5M222 368v2M222 413v1M222 421v2M222 425v3M222 431v1M222 433v1M222 435v3M222 440v2M222 445v1M222 449v2M222 454v2M223 114v3M223 120v2M223 129v10M223 140v12M223 158v24M223 194v6M223 206v12M223 224v5M223 231v2M223 234v2M223 247v1M223 418v1M223 422v1M223 424v1M223 426v2M223 431v2M223 436v2M223 440v2M223 445v2M223 448v1M223 450v2M223 455v1M224 95v3M224 99v2M224 131v1M224 135v3M224 144v3M224 155v6M224 173v6M224 197v18M224 251v1M224 256v1M224 418v1M224 423v1M224 427v2M224 432v1M224 435v3M224 441v2M224 445v2M224 450v2M224 455v2M225 85v4M225 113v6M225 125v6M225 143v1M225 147v2M225 173v1M225 183v3M225 189v8M225 215v6M225 227v6M225 245v6M225 257v4M225 273v11M225 289v16M225 310v8M225 322v5M225 336v4M225 344v10M225 410v2M225 413v7M225 421v4M225 427v2M225 432v2M225 437v1M225 441v2M225 445v4M225 451v1M225 456v1M226 65v18M226 149v6M226 161v6M226 173v6M226 197v24M226 257v4M226 410v1M226 415v1M226 419v2M226 424v2M226 428v1M226 432v2M226 437v3M226 442v1M226 447v1M226 451v2M226 456v2M227 85v3M227 148v3M227 153v1M227 165v1M227 190v36M227 232v9M227 245v5M227 256v5M227 270v9M227 282v3M227 289v11M227 303v2M227 308v1M227 312v3M227 324v6M227 335v4M227 343v2M227 348v6M227 382v2M227 414v2M227 419v1M227 423v1M227 428v2M227 433v2M227 438v1M227 441v3M227 447v2M227 452v1M227 454v1M227 456v2M228 63v8M228 83v6M228 150v6M228 159v6M228 173v12M228 197v12M228 221v6M228 276v6M228 358v2M228 415v1M228 424v2M228 429v1M228 432v3M228 436v1M228 438v2M228 443v1M228 446v3M228 452v2M228 455v1M228 457v1"/><path stroke="#0021ff" d="M129 242v2M129 270v3M129 285v1M129 288v1M129 291v9M129 303v5M129 318v1M129 321v3M129 330v9M129 341v2M129 348v3M129 358v8M129 372v9M129 384v9M129 396v3M129 402v11M130 241v5M130 249v7M130 270v16M130 289v17M130 309v10M130 321v10M130 333v8M130 343v11M130 358v10M130 376v10M130 394v11M130 411v2M131 242v2M131 253v2M131 270v16M131 288v6M131 297v9M131 308v11M131 321v10M131 333v8M131 343v8M131 358v2M131 363v6M131 372v12M131 387v3M131 393v6M131 402v3M131 411v2M132 242v2M132 273v3M132 279v3M132 285v1M132 288v1M132 297v3M132 303v3M132 308v2M132 315v4M132 321v1M132 327v7M132 340v4M132 345v3M132 358v5M132 366v9M132 378v6M132 387v6M132 399v6M133 242v1M133 279v7M133 288v1M133 291v3M133 300v3M133 305v1M133 308v1M133 318v1M133 321v1M133 324v3M133 331v2M133 336v3M133 340v4M133 360v12M133 381v3M133 387v6M133 396v6M133 405v3M134 242v2M134 253v2M134 270v3M134 276v10M134 288v1M134 300v6M134 308v7M134 318v1M134 321v1M134 330v1M134 333v3M134 341v3M134 351v3M134 358v14M134 381v3M134 387v9M134 399v14M135 242v3M135 253v2M135 270v3M135 279v3M135 285v1M135 288v6M135 297v3M135 303v16M135 321v1M135 324v3M135 329v2M135 333v1M135 336v3M135 340v4M135 348v6M135 359v3M135 365v6M135 374v18M135 398v3M135 404v6M136 241v4M136 253v2M136 270v6M136 285v1M136 288v3M136 294v3M136 303v3M136 308v2M136 312v3M136 318v1M136 321v23M136 345v9M136 367v4M136 376v2M136 381v4M136 388v12M136 403v3M136 412v1M137 242v2M137 270v3M137 276v10M137 288v1M137 291v12M137 305v1M137 308v1M137 312v3M137 318v1M137 321v2M137 327v4M137 333v9M137 343v8M137 358v6M137 367v15M137 385v9M137 403v9M138 242v2M138 285v1M138 288v1M138 306v2M138 319v2M138 331v3M138 340v4M138 360v3M138 375v6M138 387v3M138 396v9M139 241v4M139 252v4M139 270v16M139 288v18M139 308v11M139 321v10M139 333v3M139 339v2M139 343v11M139 369v1M139 373v3M139 385v7M139 394v4M139 399v7M139 413v1M139 415v1M139 417v2M139 420v1M139 425v1M140 242v2M140 270v9M140 282v4M140 288v15M140 304v2M140 308v1M140 312v7M140 358v2M140 366v3M140 378v2M140 389v7M140 409v4M141 242v3M141 253v2M141 270v3M141 276v6M141 284v2M141 288v9M141 300v3M141 305v10M141 318v1M141 321v3M141 327v1M141 330v1M141 333v3M141 339v2M141 342v2M141 351v3M141 358v3M141 367v7M141 378v2M141 383v5M141 391v2M141 394v2M141 400v2M141 403v6M141 418v1M141 423v1M142 242v3M142 253v2M142 276v10M142 288v3M142 294v12M142 308v2M142 374v8M142 388v2M142 392v2M142 400v2M142 406v4M143 242v2M143 276v3M143 285v1M143 288v1M143 306v3M143 318v1M143 330v1M143 333v1M143 336v3M143 342v1M143 348v6M143 358v5M143 366v3M143 378v2M143 384v9M143 396v15M144 241v4M144 253v2M144 270v3M144 276v10M144 288v1M144 294v9M144 358v4M144 366v2M144 374v3M144 382v2M144 400v2M144 410v2M145 242v3M145 270v6M145 279v7M145 288v18M145 308v4M145 315v4M145 324v7M145 333v9M145 343v2M145 348v3M145 358v9M145 370v6M145 406v6M145 415v2M145 419v1M146 241v4M146 276v3M146 282v4M146 288v3M146 297v6M146 305v1M146 308v4M146 315v1M146 363v5M146 373v1M146 404v4M147 242v2M147 254v1M147 270v6M147 282v4M147 288v6M147 305v1M147 308v4M147 318v1M147 321v14M147 340v2M147 343v2M147 358v8M147 369v9M147 388v2M147 396v2M147 404v2M147 410v2M148 241v4M148 252v4M148 270v3M148 279v6M148 288v16M148 370v5M148 381v9M148 393v1M148 400v2M148 404v2M148 412v1M149 242v2M149 285v1M149 288v1M149 305v1M149 308v1M149 319v3M149 331v2M149 340v4M149 365v23M149 391v3M149 398v6M149 405v3M150 243v1M150 285v1M150 288v1M150 306v2M150 317v2M150 362v4M150 372v4M150 378v2M150 387v7M150 396v2M150 402v2M150 408v2M150 411v1M151 242v3M151 270v6M151 279v3M151 285v1M151 288v3M151 294v3M151 303v9M151 318v1M151 321v3M151 330v1M151 333v1M151 336v3M151 340v5M151 348v3M151 362v8M151 372v4M151 382v18M151 406v3M151 412v1M151 417v1M151 419v1M152 242v2M152 270v3M152 282v4M152 288v12M152 303v3M152 366v2M152 371v3M152 377v4M152 382v2M152 391v10M152 402v2M152 406v2M153 306v2M153 319v2M153 331v2M153 341v2M153 358v2M153 362v2M153 373v18M153 394v8M153 406v2M154 242v2M154 270v16M154 288v9M154 303v6M154 362v2M154 376v2M154 382v2M154 386v4M154 396v4M154 406v2M155 243v1M155 285v1M155 288v1M155 300v3M155 305v7M155 321v1M155 324v3M155 330v4M155 342v1M155 348v3M155 358v1M155 365v6M155 384v4M155 390v6M155 398v2M155 403v1M155 410v3M155 414v1M155 416v1M156 243v1M156 285v1M156 291v3M156 305v3M156 358v2M156 368v2M156 374v2M156 385v5M156 396v4M157 285v1M157 288v1M157 306v2M157 319v3M157 331v2M157 341v3M157 360v2M157 368v2M157 381v9M157 393v6M157 402v9M158 241v4M158 270v3M158 276v3M158 284v2M158 288v18M158 308v1M158 358v7M158 368v6M158 377v1M158 410v1M158 412v1M159 242v3M159 253v2M159 270v6M159 284v2M159 288v6M159 300v6M159 308v4M159 315v4M159 321v10M159 333v8M159 343v11M159 358v12M159 376v15M159 396v2M159 404v4M159 409v2M159 412v6M159 419v1M160 242v2M160 253v2M160 276v10M160 288v2M160 294v6M160 305v1M160 308v1M160 360v2M160 368v2M160 374v2M160 386v2M160 396v12M160 412v1M161 242v2M161 285v1M161 288v1M161 306v2M161 318v3M161 330v3M161 341v2M161 360v9M161 381v27M162 241v3M162 255v1M162 270v16M162 288v18M162 358v5M162 364v2M162 368v4M162 373v3M162 383v1M162 386v2M162 400v2M162 403v7M162 411v2M163 242v3M163 253v2M163 285v1M163 288v1M163 291v6M163 303v16M163 321v15M163 339v2M163 342v2M163 345v3M163 351v3M163 362v2M163 366v2M163 375v6M163 384v9M163 399v4M163 406v2M163 411v1M163 418v1M163 420v2M163 425v1M164 242v3M164 253v2M164 273v13M164 288v9M164 300v6M164 358v5M164 374v2M164 386v6M164 393v2M164 398v5M164 406v2M165 242v2M165 270v6M165 282v4M165 288v6M165 300v3M165 305v1M165 308v11M165 321v9M165 333v1M165 336v3M165 340v11M165 369v3M165 376v4M165 390v9M165 402v3M165 406v4M165 414v3M165 425v1M166 241v5M166 253v3M166 270v16M166 288v18M166 308v9M166 368v2M166 378v2M166 388v2M166 398v2M166 404v1M166 408v3M166 412v1M167 242v2M167 276v3M167 282v4M167 288v3M167 305v3M167 319v15M167 340v4M167 345v6M167 358v5M167 366v4M167 374v6M167 381v3M167 387v3M167 394v2M167 400v2M167 405v3M167 411v1M168 242v2M168 273v3M168 285v1M168 288v3M168 294v6M168 305v3M168 360v2M168 364v2M168 372v2M168 378v2M168 390v14M168 408v2M169 242v2M169 253v2M169 270v6M169 279v7M169 288v1M169 294v12M169 308v1M169 312v7M169 321v1M169 327v4M169 333v1M169 339v5M169 348v3M169 358v10M169 374v1M169 392v3M169 398v2M169 402v2M169 405v5M169 413v1M169 417v1M169 420v1M170 241v4M170 270v9M170 282v4M170 288v3M170 294v6M170 303v3M170 308v1M170 381v15M170 399v9M171 241v4M171 253v2M171 270v16M171 288v18M171 308v11M171 321v10M171 333v2M171 336v5M171 342v6M171 351v3M171 358v9M171 370v6M171 388v6M171 398v2M171 402v2M171 409v4M171 415v1M171 418v2M171 425v1M172 242v2M172 282v4M172 288v1M172 305v3M172 358v4M172 381v1M172 386v2M172 390v3M172 396v3M172 402v6M172 411v1M173 242v1M173 285v1M173 288v1M173 305v1M173 308v1M173 317v2M173 321v1M173 331v3M173 340v3M173 345v3M173 351v3M173 358v1M173 362v6M173 370v6M173 378v8M173 389v3M173 395v5M173 414v1M173 416v1M174 242v2M174 273v3M174 282v4M174 288v1M174 306v2M174 365v4M174 372v3M174 387v9M174 399v7M174 408v4M175 286v3M175 306v2M175 319v2M175 330v3M175 341v2M175 358v12M175 380v10M175 400v9M176 242v2M176 253v2M176 270v3M176 276v6M176 284v2M176 288v1M176 300v6M176 308v11M176 321v1M176 324v3M176 330v6M176 340v2M176 343v11M176 362v2M176 371v9M176 388v2M176 398v2M176 406v2M176 411v1M176 413v1M176 415v1M176 419v3M177 242v2M177 253v2M177 279v3M177 284v2M177 288v3M177 294v3M177 300v6M177 308v11M177 321v3M177 327v4M177 333v1M177 336v5M177 342v1M177 348v6M177 359v3M177 366v2M177 372v11M177 386v6M177 394v2M177 400v7M177 410v3M177 418v1M177 423v1M178 241v3M178 273v6M178 282v4M178 288v1M178 303v9M178 318v1M178 321v14M178 339v4M178 348v3M178 358v4M178 366v7M178 376v6M178 385v5M178 392v2M178 408v4M179 241v4M179 253v2M179 270v16M179 288v18M179 308v4M179 315v4M179 321v10M179 333v9M179 343v11M179 358v4M179 365v6M179 380v2M179 384v2M179 389v6M179 398v3M179 407v3M179 414v2M180 241v4M180 253v2M180 270v16M180 289v17M180 308v10M180 358v3M180 364v3M180 370v9M180 382v4M180 390v1M180 394v3M180 406v7M181 242v3M181 253v2M181 270v9M181 282v4M181 288v9M181 300v3M181 304v8M181 315v4M181 321v3M181 327v17M181 345v3M181 351v3M181 361v12M181 379v9M181 391v12M181 409v5M181 422v1M182 241v4M182 270v6M182 279v7M182 288v12M182 305v1M182 308v11M182 321v10M182 333v2M182 336v5M182 343v5M182 351v3M182 368v2M182 384v2M182 388v6M182 396v2M182 400v2M182 406v6M182 415v1M182 420v3M182 424v1M183 242v2M183 270v9M183 282v4M183 288v6M183 305v1M183 308v1M183 312v3M183 317v2M183 321v10M183 333v1M183 336v8M183 345v9M183 358v5M183 366v3M183 372v6M183 384v31M183 417v2M183 423v1M184 242v2M184 285v1M184 305v1M184 308v1M184 318v1M184 321v1M184 330v3M184 341v3M184 358v2M184 366v3M184 372v3M184 378v3M184 384v5M184 402v3M184 408v5M185 242v2M185 270v3M185 279v7M185 288v1M185 291v3M185 297v6M185 305v1M185 308v2M185 315v4M185 321v1M185 327v4M185 333v1M185 340v2M185 343v8M185 358v13M185 374v3M185 383v9M185 398v3M185 404v9M185 414v2M186 242v3M186 253v3M186 270v16M186 288v18M186 308v11M186 321v10M186 360v9M186 372v2M186 382v2M186 387v7M186 406v2M186 412v1M187 305v3M187 319v3M187 331v2M187 341v2M187 360v20M187 382v2M187 392v3M187 398v6M187 407v6M188 241v4M188 253v2M188 270v12M188 285v1M188 288v12M188 303v3M188 308v11M188 321v10M188 333v3M188 339v2M188 342v2M188 345v9M188 364v18M188 385v3M188 391v2M188 400v2M188 409v2M188 412v1M189 242v2M189 270v3M189 285v1M189 288v3M189 304v2M189 308v1M189 318v1M189 321v1M189 330v1M189 333v1M189 341v4M189 348v3M189 360v3M189 366v3M189 387v3M189 399v7M189 410v2M190 241v4M190 253v2M190 270v16M190 288v18M190 308v11M190 321v10M190 333v9M190 343v11M190 360v2M190 368v2M190 372v6M190 393v3M190 399v1M190 410v4M190 415v1M190 417v1M190 421v2M191 243v1M191 285v1M191 288v3M191 305v4M191 318v1M191 321v1M191 331v2M191 341v3M191 358v11M191 374v2M191 379v3M191 385v15M191 403v3M192 241v4M192 273v3M192 285v1M192 288v9M192 300v3M192 305v1M192 308v4M192 315v4M192 321v3M192 327v8M192 339v2M192 342v2M192 345v3M192 351v3M192 360v4M192 370v2M192 376v4M192 382v2M192 394v2M192 404v4M192 410v1M192 414v2M193 242v3M193 253v2M193 270v6M193 282v4M193 288v1M193 291v3M193 305v1M193 308v1M193 318v1M193 327v4M193 333v6M193 340v4M193 348v3M193 358v3M193 364v2M193 379v7M193 397v12M193 412v2M193 417v1M193 422v1M194 242v2M194 276v3M194 282v4M194 288v1M194 360v2M194 374v3M194 386v2M194 392v9M194 404v3M194 410v2M195 241v3M195 253v2M195 270v9M195 285v1M195 288v3M195 294v6M195 305v1M195 308v1M195 315v4M195 321v1M195 324v3M195 330v5M195 336v5M195 342v6M195 361v15M195 385v6M195 394v6M195 414v1M195 416v1M196 242v3M196 253v2M196 270v16M196 288v3M196 358v10M196 372v4M197 242v2M197 270v3M197 279v7M197 288v1M197 300v3M197 305v4M197 318v1M197 321v6M197 329v7M197 339v2M197 342v2M197 348v6M197 360v4M197 366v1M197 369v3M197 375v2M197 378v2M197 384v2M197 394v2M197 404v2M197 411v1M198 242v2M198 270v3M198 279v3M198 285v1M198 288v1M198 294v3M198 358v10M198 378v2M198 384v2M198 392v2M198 400v10M199 242v3M199 253v2M199 270v9M199 282v4M199 288v12M199 304v2M199 308v1M199 315v4M199 321v10M199 333v3M199 339v2M199 342v2M199 348v6M199 364v17M199 403v3M199 412v2M199 417v2M200 241v4M200 252v4M200 270v9M200 282v4M200 288v12M200 366v4M200 386v2M200 390v8M200 401v9M200 412v1M201 242v2M201 253v2M201 285v1M201 288v1M201 297v3M201 305v4M201 312v3M201 318v1M201 321v1M201 327v3M201 339v9M201 351v3M201 362v2M201 366v2M201 374v2M201 378v8M201 394v2M201 402v2M201 420v2M202 241v4M202 253v3M202 270v16M202 288v4M202 358v5M202 364v4M202 370v2M202 373v10M202 388v2M202 392v2M202 398v2M202 404v2M202 410v2M203 241v4M203 253v2M203 270v3M203 276v10M203 288v6M203 300v6M203 308v11M203 321v6M203 330v1M203 333v8M203 342v2M203 345v6M203 358v4M203 370v13M203 386v3M203 400v4M203 407v5M203 417v1M203 420v2M204 68v1M204 70v2M204 81v9M204 102v6M204 120v6M204 132v6M204 270v15M204 289v6M204 358v2M204 362v4M204 378v4M204 388v2M204 392v2M204 398v4M204 406v2M205 162v6M205 243v1M205 246v6M205 286v3M205 306v2M205 318v4M205 331v2M205 341v1M205 368v5M205 376v6M205 385v7M205 400v12M206 76v6M206 228v3M206 240v4M206 270v16M206 288v6M206 358v3M206 368v2M206 372v3M206 378v3M206 384v2M206 388v2M206 393v3M206 399v2M206 412v1M207 101v4M207 179v1M207 191v6M207 241v5M207 253v2M207 273v9M207 284v2M207 288v1M207 300v6M207 312v3M207 318v1M207 321v1M207 327v3M207 333v3M207 339v2M207 342v2M207 348v6M207 358v6M207 367v3M207 376v9M207 388v2M207 406v3M207 414v3M207 418v1M208 75v2M208 123v6M208 135v2M208 241v2M208 255v1M208 270v9M208 282v4M208 288v3M208 368v2M208 386v2M208 404v2M209 139v1M209 141v4M209 181v5M209 187v6M209 222v1M209 242v2M209 253v2M209 285v1M209 288v1M209 305v3M209 318v1M209 321v1M209 330v3M209 341v2M209 358v2M209 362v2M209 370v6M209 379v6M209 397v7M210 69v11M210 84v6M210 222v6M210 237v3M210 246v3M210 270v16M210 289v2M210 360v2M210 364v4M210 370v2M210 380v2M210 392v10M211 90v4M211 100v6M211 178v6M211 189v1M211 242v2M211 250v2M211 288v1M211 319v2M211 340v4M211 358v2M211 366v3M211 375v3M211 381v3M211 388v4M211 394v11M211 408v2M211 411v2M212 82v5M212 99v6M212 239v1M212 241v2M212 244v2M212 270v6M212 279v7M212 288v2M212 362v2M212 366v2M212 370v2M212 376v2M212 380v2M212 388v12M212 409v2M213 148v2M213 166v6M213 208v6M213 220v6M213 244v2M213 250v2M213 253v3M213 258v3M213 270v3M213 276v10M213 288v18M213 308v1M213 315v4M213 321v6M213 333v9M213 343v2M213 351v3M213 358v8M213 369v3M213 375v3M213 382v2M213 390v4M213 402v3M213 408v2M213 414v2M213 417v3M213 425v1M214 83v1M214 107v1M214 109v2M214 117v2M214 143v12M214 185v12M214 285v1M214 288v1M214 359v6M214 379v10M214 402v2M214 408v2M214 411v2M215 92v6M215 121v1M215 140v6M215 240v4M215 248v5M215 276v3M215 285v1M215 288v1M215 294v3M215 305v1M215 315v3M215 319v3M215 340v4M215 358v2M215 362v2M215 370v6M215 385v6M215 394v3M215 413v3M215 423v2M216 88v2M216 178v6M216 242v2M216 358v3M216 364v6M216 373v3M216 394v2M216 400v2M216 412v1M217 107v6M217 161v6M217 239v3M217 251v5M217 257v4M217 285v1M217 288v1M217 303v3M217 308v11M217 321v3M217 327v4M217 333v6M217 341v2M217 360v18M217 384v8M217 416v1M218 111v6M218 225v6M218 237v6M218 244v3M218 249v12M218 270v15M218 288v12M218 362v1M218 366v6M218 384v2M218 396v2M218 410v2M219 97v5M219 145v6M219 157v6M219 205v5M219 222v3M219 231v3M219 247v14M219 270v15M219 289v17M219 308v11M219 321v10M219 336v5M219 343v11M219 377v3M219 383v3M219 388v2M219 392v2M219 397v4M219 408v2M219 414v3M220 83v4M220 95v1M220 150v5M220 173v1M220 177v2M220 242v2M220 286v3M220 360v2M220 386v11M220 398v2M220 408v2M221 106v6M221 190v6M221 246v4M221 253v2M221 270v3M221 285v1M221 288v3M221 306v2M221 317v2M221 321v1M221 333v6M221 341v3M221 345v3M221 358v8M221 369v3M221 375v3M221 384v2M221 388v11M222 70v5M222 244v12M222 270v16M222 288v13M222 358v10M222 380v10M222 394v2M222 412v1M223 92v6M223 123v5M223 139v1M223 182v6M223 229v2M223 233v1M223 236v4M223 243v4M223 260v1M223 270v16M223 288v15M223 308v1M223 315v4M223 321v10M223 333v8M223 343v2M223 348v6M223 358v2M223 366v2M223 380v2M223 385v10M223 413v5M223 419v1M223 421v1M223 425v1M224 85v4M224 98v1M224 101v4M224 179v6M224 252v4M224 270v16M224 288v2M224 358v24M224 392v2M224 398v2M225 149v6M225 209v6M225 221v6M225 233v6M225 270v3M225 284v2M225 288v1M225 305v5M225 318v1M225 321v1M225 330v3M225 340v4M225 360v7M225 370v9M225 380v4M225 406v2M226 89v6M226 141v2M226 270v15M226 362v12M226 380v2M226 408v2M226 412v1M227 94v6M227 124v6M227 151v2M227 172v6M227 184v6M227 241v4M227 279v3M227 285v1M227 288v1M227 300v3M227 305v3M227 309v3M227 318v1M227 321v3M227 330v5M227 342v1M227 345v3M227 360v2M227 364v2M227 370v2M227 374v8M227 390v2M227 394v2M227 417v1M227 424v1M228 71v6M228 113v6M228 270v6M228 282v4M228 288v6M228 360v8M228 372v2M228 398v2M228 404v2M228 408v3"/><path stroke="#004eff" d="M129 286v2M129 319v2M129 366v6M129 381v3M129 393v3M130 288v1M130 306v3M130 319v2M130 331v2M130 341v2M130 405v6M131 286v2M131 306v2M131 319v2M131 331v2M131 341v2M131 369v3M131 384v3M131 405v6M132 286v2M132 306v2M132 319v2M132 405v3M132 411v2M133 286v2M133 306v2M133 319v2M133 378v3M133 384v3M133 393v3M133 411v2M134 286v2M134 306v2M134 319v2M134 331v2M134 372v9M134 384v3M135 286v2M135 319v2M135 331v2M135 358v1M135 371v3M135 392v6M135 401v3M135 410v3M136 286v2M136 306v2M136 319v2M136 361v3M136 385v3M136 409v3M137 286v2M137 306v2M137 319v2M137 331v2M137 342v1M137 382v3M137 394v3M138 286v2M138 363v3M138 369v3M138 393v3M138 405v2M139 286v2M139 306v2M139 319v2M139 331v2M139 341v2M140 286v2M140 306v2M140 319v4M140 348v6M140 420v1M141 286v2M141 319v2M141 331v2M141 341v1M141 388v3M141 409v3M142 286v2M142 306v2M142 312v2M142 330v3M142 415v1M143 286v2M143 319v2M143 331v2M143 369v3M143 393v3M143 411v1M144 286v2M144 303v3M144 321v3M144 330v3M144 336v3M144 348v3M144 380v2M144 413v1M144 416v1M145 286v2M145 306v2M145 319v2M145 331v2M145 342v1M145 367v3M145 376v6M145 402v1M146 286v2M146 306v2M146 316v2M146 333v3M146 348v3M146 368v3M146 417v1M147 286v2M147 306v2M147 319v2M147 342v1M147 366v3M148 285v1M148 304v3M148 330v3M148 375v3M148 413v1M149 286v2M149 306v2M149 388v3M149 394v1M149 409v2M150 286v2M150 319v4M150 327v3M150 345v3M150 366v6M150 384v3M150 421v2M150 424v1M151 286v2M151 319v2M151 331v2M151 370v2M151 400v3M151 409v2M152 286v2M152 306v6M152 315v3M152 333v3M152 348v6M152 374v3M153 286v2M153 391v3M154 286v2M154 317v3M154 351v3M155 286v2M155 362v3M155 404v3M155 408v2M156 286v2M156 318v3M156 327v3M156 333v3M156 342v3M156 390v3M156 417v1M157 286v2M157 372v9M157 399v3M157 411v1M158 286v2M158 306v2M158 309v2M158 312v3M158 336v3M158 342v3M158 348v3M158 374v3M158 415v2M159 286v2M159 306v2M159 319v2M159 331v2M159 341v2M159 373v3M159 391v3M160 286v2M160 306v2M160 318v3M160 351v3M161 286v2M161 372v6M162 286v2M162 306v4M162 318v3M162 327v3M162 333v3M162 348v3M162 379v4M162 417v2M163 286v2M163 319v2M163 341v1M163 381v3M164 286v2M164 306v5M164 327v3M164 395v3M165 286v2M165 306v2M165 319v2M165 365v4M165 372v3M166 286v2M166 306v2M166 317v3M166 324v6M166 333v3M166 345v3M166 405v3M166 413v1M167 286v2M167 363v3M167 380v1M167 402v3M167 408v1M168 286v2M168 312v3M168 321v3M168 369v3M168 417v1M169 286v2M169 306v2M169 319v2M169 331v2M169 368v6M169 386v3M170 286v2M170 306v2M170 309v2M170 321v3M170 336v3M170 378v3M170 396v3M170 413v1M171 286v2M171 306v2M171 319v2M171 331v2M171 341v1M172 286v2M172 310v2M172 318v3M172 336v12M172 372v9M172 393v3M172 399v3M172 418v1M173 286v2M173 306v2M173 319v2M173 368v1M174 286v2M174 310v3M174 342v6M174 369v3M174 385v2M174 396v3M174 422v1M175 409v2M176 286v2M176 306v2M176 319v2M176 342v1M177 286v2M177 306v2M177 319v2M177 331v2M177 341v1M177 383v3M177 407v3M178 286v2M178 319v2M179 286v2M179 306v2M179 319v2M179 331v2M179 342v1M179 362v3M180 286v3M180 306v2M180 318v2M180 330v6M180 351v3M180 361v3M180 367v3M180 379v1M180 397v9M180 415v1M181 286v2M181 319v2M181 358v3M181 373v6M182 286v2M182 306v2M182 319v2M182 331v2M182 341v2M182 386v2M182 394v2M182 412v1M183 286v2M183 306v2M183 319v2M183 331v2M183 363v3M184 286v2M184 306v2M184 319v2M184 363v3M184 369v3M184 375v3M184 381v3M184 399v3M185 286v2M185 306v2M185 319v2M185 331v2M185 342v1M185 377v3M186 286v2M186 306v2M186 319v2M186 331v2M186 358v2M186 369v3M186 384v3M186 418v1M187 286v2M187 390v2M187 395v3M188 286v2M188 306v2M188 319v2M188 331v2M188 341v1M188 382v3M188 406v3M189 286v2M189 306v2M189 319v2M189 331v2M189 358v2M189 369v7M189 386v1M189 396v3M190 286v2M190 306v2M190 319v2M190 331v2M190 342v1M190 370v2M190 378v2M191 286v2M191 319v2M191 382v3M191 400v3M192 286v2M192 306v2M192 319v2M192 341v1M193 286v2M193 306v2M193 319v2M193 331v2M193 361v3M193 376v3M194 286v2M194 289v3M194 306v3M194 318v3M194 324v3M194 330v3M194 339v3M194 345v3M195 286v2M195 306v2M195 319v2M195 341v1M195 391v3M196 286v2M196 291v2M196 297v12M196 324v6M197 286v2M197 319v2M197 341v1M197 367v2M197 372v3M198 286v2M198 299v2M198 321v3M198 342v3M198 413v1M198 418v1M199 286v2M199 306v2M199 319v2M199 331v2M199 341v1M199 361v3M199 401v2M199 406v3M199 411v1M200 286v2M200 300v3M200 324v9M201 286v2M201 319v2M201 386v3M202 286v2M202 292v2M202 324v3M202 333v3M203 286v2M203 306v2M203 319v2M203 331v2M203 341v1M203 383v3M204 96v5M204 156v6M204 216v6M204 285v1M204 288v1M204 295v2M204 318v3M204 327v6M204 342v3M205 204v12M205 219v3M205 252v1M205 255v3M205 373v3M206 94v5M206 130v6M206 166v6M206 286v2M206 294v3M206 315v3M206 333v3M206 339v3M206 391v2M206 396v3M207 105v2M207 167v2M207 171v2M207 180v5M207 227v6M207 286v2M207 319v2M207 341v1M207 373v3M207 405v1M208 77v4M208 105v6M208 137v4M208 153v6M208 201v2M208 247v2M208 286v2M208 294v3M208 300v3M208 312v3M208 324v3M208 330v3M208 406v3M208 415v2M209 140v1M209 169v6M209 193v6M209 217v5M209 223v6M209 247v6M209 286v2M209 319v2M209 388v3M210 80v4M210 156v12M210 286v3M210 291v2M210 297v3M210 303v3M210 309v3M210 327v6M210 351v3M211 213v7M211 252v9M211 286v2M211 369v3M211 378v3M212 105v6M212 141v5M212 171v12M212 213v6M212 243v1M212 286v2M212 290v3M212 294v3M212 303v6M212 385v3M212 413v1M213 150v4M213 178v12M213 195v1M213 202v6M213 214v6M213 286v2M213 306v2M213 319v2M213 342v1M213 366v3M213 400v2M214 84v5M214 95v6M214 155v6M214 167v6M214 203v6M214 215v1M214 239v2M214 249v2M214 286v2M214 296v3M214 324v3M214 336v3M214 358v1M214 419v1M215 110v6M215 134v6M215 146v6M215 198v2M215 206v6M215 224v6M215 253v7M215 286v2M215 379v3M215 391v3M216 90v4M216 285v2M216 370v3M216 413v1M217 113v6M217 155v1M217 159v2M217 227v6M217 242v3M217 286v2M217 306v2M217 319v2M217 331v2M217 378v6M218 129v6M218 147v6M218 159v3M218 177v12M218 219v6M218 243v1M218 285v1M218 300v2M218 345v3M218 363v3M218 420v1M219 181v6M219 199v6M219 246v1M219 285v1M219 288v1M219 306v2M219 319v2M219 331v2M219 341v2M219 380v3M219 386v1M219 404v3M220 80v3M220 87v2M220 96v5M220 107v1M220 119v1M220 143v6M220 174v3M220 191v6M220 215v6M220 233v6M220 300v2M220 321v6M220 342v3M221 142v6M221 196v6M221 238v2M221 244v2M221 286v2M221 319v2M221 366v3M222 75v1M222 94v14M222 148v6M222 184v12M222 214v2M222 286v2M222 301v2M222 306v3M222 318v3M222 351v3M223 122v1M223 188v6M223 200v6M223 218v6M223 240v3M223 254v6M223 286v2M223 306v2M223 319v2M223 331v2M223 341v2M224 105v2M224 119v6M224 162v3M224 216v3M224 221v4M224 286v2M224 290v3M224 294v3M224 339v3M224 382v2M225 239v1M225 251v6M225 286v2M225 319v2M225 367v3M225 379v1M226 83v4M226 113v6M226 131v10M226 143v6M226 155v6M226 167v6M226 179v6M226 222v3M226 285v3M226 306v3M226 315v3M226 333v3M226 345v3M226 422v1M227 118v6M227 136v6M227 166v6M227 180v4M227 226v6M227 250v4M227 255v1M227 286v2M227 319v2M228 89v6M228 131v13M228 147v2M228 215v6M228 227v12M228 256v1M228 286v2M228 294v3M228 300v3M228 327v3M228 345v3M228 351v3M228 419v1"/><path stroke="#007aff" d="M130 286v2M140 323v2M142 314v3M144 306v2M146 318v2M148 286v2M148 307v3M150 323v2M152 312v1M154 320v3M156 321v3M158 311v1M160 321v3M162 310v2M164 311v2M166 320v3M168 315v2M170 311v2M172 312v3M174 313v3M180 320v4M186 333v2M194 292v1M196 293v3M198 301v2M200 303v2M202 294v2M204 90v3M204 101v1M204 126v6M204 180v6M204 252v6M204 286v2M204 297v3M205 216v3M205 253v2M206 99v7M206 136v2M206 220v6M206 232v6M206 250v3M206 255v3M206 297v3M207 169v2M207 257v4M208 99v6M208 165v3M208 177v12M208 203v16M208 243v4M208 297v1M210 102v6M210 114v12M210 144v6M210 204v6M210 240v1M210 245v1M210 258v3M210 293v3M211 208v5M212 93v3M212 146v1M212 195v6M212 293v1M213 190v5M213 238v3M214 119v6M214 209v6M214 216v5M214 241v8M214 299v3M215 194v4M216 94v6M216 112v6M216 148v6M216 184v18M216 220v6M216 244v6M216 287v2M217 156v3M218 87v6M218 162v3M218 286v2M218 302v3M219 187v6M219 235v11M219 286v2M220 108v5M220 120v5M220 185v6M220 197v1M220 201v2M220 302v3M221 240v2M222 108v4M222 118v6M222 202v6M222 216v4M222 226v12M222 303v2M223 152v6M223 248v5M224 89v5M224 161v1M224 165v2M224 215v1M224 219v2M224 225v8M224 245v1M224 249v2M224 293v1M225 240v5M226 87v2M226 125v6M226 221v1M226 225v8M226 246v5M226 256v1M226 288v1M227 178v2M227 254v1M228 95v5M228 107v4M228 144v3M228 167v3M228 171v2M228 239v3M228 244v1M228 251v5M228 257v4M228 297v2"/><path stroke="#00a6ff" d="M139 336v3M140 325v2M141 328v2M141 416v1M142 317v2M143 339v3M143 345v3M143 414v1M143 416v1M144 308v2M145 321v3M146 320v2M148 310v3M149 324v3M149 333v3M149 345v3M150 325v2M151 351v3M152 313v2M154 323v1M155 313v2M155 318v3M155 339v3M156 324v2M157 327v3M158 315v2M160 324v1M161 324v3M161 348v3M162 312v2M163 348v3M164 313v3M165 330v3M166 323v1M168 317v4M170 313v2M170 316v2M172 315v2M173 322v2M173 348v3M174 316v2M175 321v3M175 327v3M180 324v3M186 335v3M193 321v3M193 345v3M194 293v2M196 296v1M197 309v3M197 336v3M197 345v3M198 303v2M199 309v3M199 336v3M199 424v1M200 305v3M201 330v6M201 348v3M201 415v1M202 296v3M203 423v1M204 93v3M204 114v6M204 144v6M204 168v6M204 240v12M204 300v2M205 309v3M205 342v6M205 413v1M206 124v6M206 138v4M206 184v2M206 196v6M206 246v3M206 253v2M206 258v3M206 300v1M207 306v3M207 315v3M207 330v3M207 336v3M208 159v6M208 168v3M208 195v6M208 219v6M208 298v2M209 324v3M209 333v3M209 348v3M210 126v6M210 138v6M210 241v4M210 255v3M210 296v1M211 306v3M211 330v3M212 96v3M212 159v6M212 219v6M212 297v1M213 241v3M213 309v6M213 327v6M214 101v6M214 162v5M214 179v4M214 302v2M215 306v3M215 312v3M215 330v3M215 351v3M215 420v1M216 106v6M216 214v6M216 256v5M216 289v3M217 348v3M217 421v1M218 135v6M218 201v6M218 231v6M218 305v2M219 333v3M220 101v6M220 131v6M220 179v6M220 198v3M220 221v6M220 305v2M221 242v2M221 303v3M221 330v3M221 413v1M222 124v6M222 305v1M223 253v1M223 303v3M223 309v6M223 345v3M224 94v1M224 125v6M224 191v6M224 246v3M224 257v4M224 297v1M225 327v3M225 333v3M226 119v6M226 233v9M226 245v1M226 251v5M226 289v3M227 315v3M227 339v3M228 100v1M228 111v2M228 170v1M228 185v6M228 242v2M228 299v1"/><path stroke="#00d3ff" d="M140 327v3M142 319v2M144 310v2M146 322v3M148 313v3M150 330v2M154 324v2M156 326v1M158 317v2M160 325v2M162 314v2M164 316v3M170 315v1M170 318v2M172 317v1M174 318v1M180 327v3M186 338v2M186 341v1M194 295v3M198 305v2M200 308v3M202 299v3M204 138v6M204 210v6M204 228v6M204 302v3M206 118v6M206 186v4M206 244v2M206 249v1M206 301v1M208 117v6M208 192v2M208 249v4M208 303v2M210 108v6M210 174v6M210 192v12M210 210v12M210 228v3M210 252v3M210 300v1M212 120v2M212 129v6M212 189v6M212 225v6M212 298v3M214 161v1M214 183v2M214 197v6M214 251v2M214 255v2M214 304v2M216 142v6M216 154v2M216 159v1M216 202v12M216 250v3M216 255v1M216 292v3M218 141v6M218 213v3M218 307v2M220 227v6M220 307v3M222 160v6M222 208v6M222 238v3M222 309v3M224 113v6M224 149v6M224 168v1M224 171v2M224 185v6M224 233v9M224 244v1M224 298v3M226 242v3M226 292v2M228 191v6M228 209v6M228 245v6"/><path stroke="#00ffff" d="M129 413v1M129 418v2M129 424v2M129 428v10M129 452v2M129 456v3M130 368v8M130 386v8M130 413v1M130 418v14M130 434v4M130 440v10M130 456v3M131 413v5M131 420v12M131 434v4M131 442v2M131 452v2M131 456v3M132 413v1M132 418v2M132 422v4M132 430v2M132 434v4M132 440v2M132 444v2M132 452v2M132 456v2M133 413v5M133 420v2M133 426v2M133 430v4M133 436v6M133 444v6M133 452v2M133 456v3M134 413v7M134 428v4M134 438v2M134 452v4M135 413v1M135 424v4M135 430v2M135 442v4M135 456v2M136 358v3M136 371v5M136 378v3M136 416v2M136 420v4M136 428v2M136 434v2M136 438v2M136 448v4M137 413v3M137 418v4M137 424v2M137 434v2M137 440v2M137 448v6M138 407v7M138 418v10M138 430v2M138 438v10M138 450v2M138 454v5M139 358v11M139 392v2M139 398v1M139 409v2M139 422v1M139 427v1M139 429v1M139 441v1M139 443v1M139 446v1M139 448v1M139 453v1M139 455v1M140 330v15M140 369v9M140 380v9M140 399v10M140 422v1M140 424v1M140 427v1M140 429v1M140 434v1M140 436v1M140 441v1M140 443v1M140 448v1M140 450v1M140 455v1M140 457v1M141 374v4M141 380v3M141 393v1M141 396v4M141 402v1M141 415v1M141 417v1M141 422v1M141 429v1M141 436v1M141 443v1M141 445v1M141 450v1M141 452v1M141 455v1M141 457v1M142 321v9M142 333v8M142 358v16M142 382v6M142 390v2M142 394v6M142 402v4M142 410v3M142 417v1M142 419v1M142 426v1M142 429v1M142 431v1M142 436v1M142 438v1M142 443v1M142 445v1M142 450v1M142 452v1M142 457v1M143 372v6M143 380v2M143 412v1M143 424v1M143 426v1M143 431v1M143 433v1M143 438v1M143 440v1M143 445v1M143 452v1M143 454v1M144 312v2M144 333v3M144 339v5M144 351v3M144 362v4M144 368v4M144 384v16M144 402v8M144 412v1M144 414v1M144 418v2M144 421v1M144 426v1M144 428v1M144 431v1M144 433v1M144 438v1M144 440v1M144 447v1M144 452v1M144 454v1M145 382v20M145 412v1M145 414v1M145 421v1M145 426v1M145 433v1M145 435v1M145 442v1M145 447v1M145 454v1M146 325v2M146 336v12M146 351v3M146 358v5M146 374v30M146 409v2M146 413v2M146 421v1M146 423v1M146 428v1M146 430v1M146 435v1M146 437v1M146 440v1M146 442v1M146 447v1M146 449v1M146 454v1M146 456v1M147 378v10M147 390v6M147 398v6M147 406v4M147 412v1M147 414v1M147 416v1M147 421v1M147 428v1M147 430v1M147 435v1M147 437v1M147 442v1M147 444v1M147 449v1M147 451v1M147 456v1M147 458v1M148 316v5M148 327v3M148 339v12M148 358v12M148 394v6M148 402v2M148 406v6M148 416v1M148 423v1M148 425v1M148 437v1M148 439v1M148 442v1M148 449v1M148 451v1M148 456v1M148 458v1M149 358v7M149 395v3M149 404v1M149 411v1M149 418v1M149 430v1M149 432v1M149 437v1M149 439v1M149 444v1M149 446v1M149 451v1M149 458v1M150 332v1M150 339v6M150 348v3M150 358v4M150 376v2M150 380v4M150 394v2M150 398v4M150 404v4M150 413v3M150 418v1M150 420v1M150 425v1M150 427v1M150 434v1M150 439v1M150 441v1M150 446v1M150 448v1M150 451v1M150 453v1M150 458v1M151 358v4M151 376v6M151 420v1M151 422v1M151 425v1M151 429v1M151 432v1M151 434v1M151 439v1M151 441v1M151 446v1M151 448v1M151 453v1M151 455v1M152 318v1M152 358v8M152 368v3M152 381v1M152 384v7M152 401v1M152 404v2M152 408v3M152 412v1M152 418v1M152 420v1M152 422v1M152 427v1M152 429v1M152 436v1M152 441v1M152 448v1M152 450v1M152 453v1M152 455v1M153 360v2M153 364v6M153 402v4M153 408v5M153 422v1M153 424v1M153 429v1M153 431v1M153 436v1M153 438v1M153 441v1M153 443v1M153 448v1M153 455v1M153 457v1M154 326v2M154 336v15M154 358v4M154 364v12M154 378v4M154 384v2M154 390v6M154 400v6M154 408v5M154 414v2M154 417v4M154 422v1M154 429v1M154 431v1M154 436v1M154 438v1M154 443v1M154 445v1M154 450v1M154 452v1M155 373v11M155 388v2M155 396v2M155 400v3M155 417v1M155 419v1M155 424v1M155 426v1M155 431v1M155 433v1M155 438v1M155 440v1M155 445v1M155 450v1M155 452v1M155 457v1M156 330v3M156 336v1M156 345v4M156 360v8M156 370v4M156 376v9M156 395v1M156 400v11M156 412v1M156 419v1M156 424v1M156 426v1M156 428v1M156 431v1M156 438v1M156 440v1M156 445v1M156 447v1M156 454v1M157 358v2M157 362v6M157 370v2M157 412v1M157 414v1M157 421v1M157 426v1M157 428v1M157 435v1M157 440v1M157 442v1M157 447v1M157 449v1M157 452v1M157 454v1M157 456v1M158 319v1M158 339v3M158 345v3M158 351v3M158 378v29M158 413v2M158 423v1M158 430v1M158 435v1M158 437v1M158 440v1M158 442v1M158 447v1M158 449v1M158 454v1M158 456v1M159 394v2M159 398v6M159 411v1M159 418v1M159 421v1M159 423v1M159 428v1M159 430v1M159 435v1M159 437v1M159 442v1M159 444v1M159 451v1M159 458v1M160 327v3M160 336v12M160 358v2M160 362v6M160 370v4M160 376v10M160 388v8M160 408v4M160 414v2M160 418v3M160 423v1M160 425v1M160 430v1M160 432v1M160 442v1M160 444v1M160 449v1M160 456v1M160 458v1M161 423v1M161 425v1M161 428v1M161 432v1M161 437v1M161 442v1M161 449v1M161 451v1M161 456v1M161 458v1M162 316v2M162 321v6M162 330v3M162 336v6M162 363v1M162 366v2M162 372v1M162 384v2M162 388v12M162 402v1M162 413v1M162 416v1M162 423v1M162 425v1M162 428v1M162 430v1M162 435v1M162 437v1M162 442v1M162 444v1M162 449v1M162 451v1M162 456v1M162 458v1M163 358v4M163 364v2M163 368v5M163 403v3M163 408v2M163 416v1M163 423v1M163 428v1M163 430v1M163 432v1M163 435v1M163 437v1M163 442v1M163 444v1M163 451v1M163 456v1M163 458v1M164 319v8M164 330v4M164 340v12M164 363v11M164 376v10M164 392v1M164 403v3M164 409v1M164 411v2M164 416v1M164 419v1M164 421v1M164 423v1M164 425v1M164 428v1M164 430v1M164 432v1M164 435v1M164 444v1M164 449v1M164 451v1M164 456v1M164 458v1M165 358v7M165 375v1M165 380v5M165 405v1M165 410v2M165 418v1M165 428v1M165 430v1M165 432v1M165 437v1M165 442v1M165 444v1M165 449v1M165 451v1M165 458v1M166 330v3M166 341v4M166 353v1M166 358v10M166 370v8M166 380v8M166 390v8M166 400v4M166 416v1M166 423v1M166 428v1M166 430v1M166 437v1M166 440v1M166 442v1M166 447v1M166 454v1M166 456v1M167 370v4M167 390v4M167 396v4M167 410v1M167 419v1M167 431v1M167 433v1M167 440v1M167 445v1M167 447v1M167 452v1M167 454v1M168 324v12M168 348v6M168 358v2M168 362v2M168 374v4M168 380v10M168 404v4M168 410v3M168 415v1M168 422v1M168 424v1M168 427v1M168 429v1M168 434v1M168 436v1M168 441v1M168 443v1M168 448v1M168 450v1M168 457v1M169 375v10M169 395v3M169 400v2M169 404v1M169 418v1M169 425v1M169 427v1M169 432v1M169 434v1M169 439v1M169 444v1M169 446v1M169 451v1M169 453v1M169 458v1M170 320v1M170 324v12M170 339v1M170 346v8M170 358v20M170 408v5M170 414v1M170 421v3M170 428v1M170 437v1M170 444v1M170 451v1M170 454v1M170 456v1M170 458v1M171 376v12M171 394v4M171 400v2M171 404v2M171 421v1M171 424v1M171 426v1M171 431v1M171 433v1M171 438v1M171 447v1M171 452v1M171 454v1M172 330v6M172 362v10M172 382v4M172 388v2M172 412v1M172 417v1M172 422v1M172 424v1M172 429v1M172 436v1M172 438v1M172 441v1M172 443v1M172 448v1M172 455v1M172 457v1M173 369v1M173 376v2M173 400v12M173 425v1M173 427v1M173 432v1M173 434v1M173 439v1M173 441v1M173 448v1M173 453v1M173 455v1M174 319v3M174 324v18M174 348v6M174 358v7M174 375v10M174 406v2M174 416v1M174 418v2M174 423v1M174 425v1M174 428v1M174 430v1M174 435v1M174 437v1M174 442v1M174 449v1M174 451v1M174 456v1M174 458v1M175 370v10M175 390v10M175 414v1M175 416v1M175 419v1M175 421v1M175 426v1M175 428v1M175 433v1M175 435v1M175 440v1M175 442v1M175 447v1M175 449v1M175 454v1M176 358v4M176 364v6M176 380v8M176 390v8M176 400v6M176 408v1M176 412v1M176 414v1M176 426v1M176 428v1M176 431v1M176 433v1M176 438v1M176 440v1M176 445v1M176 447v1M176 452v1M176 454v1M177 362v4M177 368v4M177 392v2M177 396v4M177 417v1M177 419v1M177 424v1M177 426v1M177 431v1M177 433v1M177 438v1M177 440v1M177 443v1M177 445v1M177 450v1M177 452v1M177 457v1M178 362v4M178 390v2M178 394v14M178 415v1M178 424v1M178 429v1M178 431v1M178 436v1M178 438v1M178 443v1M178 445v1M178 450v1M178 452v1M178 455v1M178 457v1M179 374v6M179 382v2M179 417v1M179 420v1M179 422v1M179 427v1M179 434v1M179 436v1M179 441v1M179 443v1M179 450v1M179 455v1M179 457v1M180 340v6M180 380v2M180 386v4M180 418v1M180 420v3M180 427v1M180 429v1M180 432v1M180 434v1M180 446v1M180 448v1M180 453v1M180 455v1M181 420v1M181 425v1M181 427v1M181 432v1M181 434v1M181 441v1M181 444v1M181 446v1M181 451v1M181 453v1M181 458v1M182 358v10M182 370v14M182 398v2M182 402v4M182 416v1M182 418v1M182 423v1M182 425v1M182 430v1M182 437v1M182 439v1M182 446v1M182 451v1M182 456v1M182 458v1M183 416v1M183 425v1M183 432v1M183 437v1M183 439v1M183 444v1M183 446v1M183 451v1M183 453v1M184 389v10M184 415v1M184 420v1M184 432v1M184 434v1M184 439v1M184 441v1M184 446v1M184 453v1M184 455v1M184 458v1M185 413v1M185 422v1M185 427v1M185 429v1M185 434v1M185 441v1M185 443v1M185 448v1M185 450v1M185 455v1M186 340v1M186 342v12M186 374v8M186 394v12M186 408v4M186 415v1M186 422v1M186 424v1M186 429v1M186 431v1M186 436v1M186 438v1M186 443v1M186 445v1M186 450v1M186 452v1M186 457v1M187 358v2M187 380v2M187 384v6M187 417v1M187 419v1M187 424v1M187 426v1M187 431v1M187 433v1M187 438v1M187 440v1M187 445v1M187 452v1M187 454v1M187 457v1M188 393v7M188 402v1M188 421v1M188 426v1M188 428v1M188 433v1M188 435v1M188 440v1M188 442v1M188 447v1M188 449v1M188 454v1M188 456v1M189 376v10M189 406v4M189 412v1M189 421v1M189 423v1M189 428v1M189 430v1M189 435v1M189 437v1M189 442v1M189 444v1M189 449v1M189 451v1M189 456v1M189 458v1M190 358v2M190 362v6M190 380v10M190 400v8M190 409v1M190 416v1M190 418v1M190 423v1M190 425v1M190 430v1M190 432v1M190 437v1M190 439v1M190 444v1M190 446v1M190 451v1M190 453v1M190 458v1M191 369v5M191 376v3M191 420v1M191 425v1M191 427v1M191 432v1M191 441v1M191 446v1M191 448v1M191 453v1M191 455v1M192 358v2M192 364v6M192 372v4M192 380v2M192 384v10M192 396v8M192 409v1M192 412v2M192 420v1M192 422v1M192 427v1M192 429v1M192 434v1M192 436v1M192 441v1M192 443v1M192 455v1M192 457v1M193 370v6M193 391v3M193 410v1M193 415v1M193 429v1M193 431v1M193 436v1M193 438v1M193 443v1M193 445v1M193 450v1M193 452v1M193 455v1M194 298v2M194 311v7M194 321v3M194 327v2M194 348v6M194 359v1M194 380v6M194 388v1M194 412v1M194 417v1M194 426v1M194 431v1M194 433v1M194 440v1M194 445v1M194 454v1M195 400v9M195 412v1M195 421v1M195 426v1M195 433v1M195 435v1M195 440v1M195 442v1M195 447v1M195 449v1M195 452v1M195 456v1M196 309v11M196 332v6M196 368v4M196 381v24M196 408v3M196 414v3M196 418v1M196 420v2M196 428v1M196 430v1M196 435v1M196 437v1M196 442v1M196 444v1M196 449v1M196 451v1M196 454v1M196 456v1M197 358v2M197 364v2M197 377v1M197 386v8M197 396v8M197 406v2M197 416v1M197 423v1M197 425v1M197 430v1M197 432v1M197 437v1M197 442v1M197 444v1M197 446v1M197 449v1M197 451v1M197 456v1M197 458v1M198 307v3M198 319v2M198 324v1M198 337v5M198 368v10M198 380v2M198 386v2M198 391v1M198 397v3M198 410v3M198 415v2M198 420v1M198 425v1M198 427v1M198 432v1M198 437v1M198 439v1M198 441v1M198 446v1M198 451v1M198 453v1M198 458v1M199 381v16M199 400v1M199 420v1M199 427v1M199 434v1M199 436v1M199 439v1M199 441v1M199 446v1M199 448v1M199 453v1M200 311v3M200 320v4M200 338v6M200 359v7M200 370v16M200 388v2M200 410v1M200 415v3M200 419v1M200 424v1M200 429v1M200 431v1M200 434v1M200 436v1M200 443v1M200 448v1M200 455v1M200 457v1M201 358v1M201 364v2M201 368v6M201 376v2M201 389v5M201 396v5M201 404v9M201 419v1M201 424v1M201 426v1M201 429v1M201 431v1M201 436v1M201 438v1M201 445v1M201 450v1M201 452v1M201 457v1M202 302v8M202 316v8M202 327v6M202 336v4M202 346v8M202 363v1M202 368v2M202 372v1M202 383v5M202 390v2M202 394v4M202 400v4M202 412v11M202 424v1M202 426v1M202 431v1M202 433v1M202 440v1M202 445v1M202 447v1M202 452v1M202 454v1M203 398v2M203 412v1M203 419v1M203 428v1M203 433v1M203 435v1M203 440v1M203 442v1M203 447v1M203 449v1M203 454v1M203 456v1M204 174v6M204 186v12M204 305v6M204 347v7M204 360v2M204 366v9M204 382v6M204 394v4M204 402v3M204 408v2M204 411v7M204 419v1M204 421v1M204 423v1M204 437v1M204 442v1M204 444v1M204 449v1M204 451v1M204 456v1M204 458v1M205 364v4M205 392v5M205 418v1M205 423v1M205 425v1M205 430v1M205 432v1M205 437v1M205 439v1M205 446v1M205 449v1M205 451v1M205 456v1M205 458v1M206 302v2M206 313v2M206 318v1M206 325v8M206 336v3M206 342v1M206 349v5M206 361v7M206 381v3M206 387v1M206 390v1M206 401v1M206 408v2M206 411v1M206 413v1M206 415v8M206 424v2M206 427v1M206 432v1M206 437v1M206 439v1M206 444v1M206 451v1M206 453v1M206 458v1M207 385v3M207 391v9M207 403v2M207 413v1M207 427v1M207 432v1M207 434v1M207 439v1M207 446v1M207 448v1M207 453v1M207 455v1M208 189v3M208 194v1M208 225v12M208 253v2M208 305v2M208 333v4M208 349v5M208 358v10M208 370v3M208 376v10M208 388v3M208 397v3M208 403v1M208 413v1M208 417v2M208 420v1M208 422v1M208 424v1M208 427v1M208 429v1M208 434v1M208 436v1M208 441v1M208 443v1M208 446v1M208 448v1M208 453v1M208 455v1M209 360v2M209 367v3M209 406v3M209 410v2M209 415v1M209 422v1M209 424v1M209 427v1M209 429v1M209 431v1M209 434v1M209 436v1M209 441v1M209 443v1M209 448v1M209 450v1M209 455v1M209 457v1M210 168v6M210 186v6M210 231v3M210 301v2M210 317v10M210 335v6M210 358v2M210 368v2M210 372v1M210 376v4M210 382v6M210 402v1M210 406v5M210 412v1M210 414v5M210 422v1M210 429v1M210 431v1M210 436v1M210 438v1M210 445v1M210 450v1M210 452v1M210 457v1M211 387v1M211 392v2M211 410v1M211 426v1M211 431v1M211 433v1M211 438v1M211 440v1M211 443v1M211 445v1M211 450v1M211 452v1M211 457v1M212 117v3M212 122v1M212 231v6M212 249v4M212 255v6M212 301v1M212 309v4M212 325v6M212 337v6M212 358v4M212 364v2M212 368v2M212 372v4M212 378v2M212 382v3M212 400v3M212 412v1M212 414v4M212 419v2M212 426v1M212 431v1M212 433v1M212 438v1M212 440v1M212 445v1M212 447v1M212 452v1M212 454v1M213 381v1M213 387v3M213 394v2M213 399v1M213 411v2M213 426v1M213 428v1M213 433v1M213 435v1M213 440v1M213 442v1M213 447v1M213 449v1M213 454v1M213 456v1M214 233v6M214 253v2M214 257v4M214 306v4M214 316v6M214 328v6M214 371v3M214 377v2M214 389v6M214 398v4M214 404v4M214 413v3M214 421v1M214 425v2M214 428v1M214 435v1M214 438v1M214 440v1M214 442v1M214 445v1M214 447v1M214 454v1M215 360v2M215 364v6M215 409v4M215 417v1M215 419v1M215 422v1M215 429v1M215 431v1M215 443v1M215 445v1M215 450v1M215 452v1M215 457v1M216 156v3M216 253v2M216 295v19M216 326v6M216 350v4M216 382v12M216 396v4M216 402v7M216 415v3M216 419v2M216 427v1M216 434v1M216 436v1M216 443v1M216 446v1M216 448v1M216 455v1M217 393v9M217 405v3M217 413v1M217 418v1M217 420v1M217 423v1M217 425v1M217 430v1M217 432v1M217 437v1M217 439v1M217 444v1M217 446v1M217 451v1M217 453v1M217 458v1M218 189v6M218 216v3M218 309v2M218 321v6M218 351v3M218 358v4M218 372v3M218 378v6M218 386v10M218 398v4M218 408v2M218 414v3M218 421v1M218 423v1M218 425v1M218 428v1M218 435v1M218 437v1M218 440v1M218 442v1M218 444v1M218 449v1M218 456v1M219 362v6M219 374v3M219 387v1M219 390v2M219 394v3M219 407v1M219 410v1M219 412v1M219 417v1M219 419v1M219 421v1M219 424v1M219 426v1M219 431v1M219 438v1M219 440v1M219 445v1M219 452v1M219 454v1M220 310v10M220 327v5M220 345v9M220 362v5M220 370v16M220 400v6M220 410v8M220 420v3M220 424v1M220 436v1M220 438v1M220 441v1M220 443v1M220 445v1M220 448v1M220 450v1M220 455v1M220 457v1M221 381v3M221 386v2M221 402v3M221 408v2M221 411v2M221 415v1M221 420v1M221 422v1M221 425v1M221 427v1M221 434v1M221 439v1M221 441v1M221 446v1M221 453v1M222 172v6M222 196v6M222 241v3M222 312v1M222 321v16M222 343v8M222 371v6M222 390v4M222 396v16M222 414v1M222 416v4M222 423v1M222 430v1M222 432v1M222 439v1M222 444v1M222 446v1M222 451v1M222 456v1M222 458v1M223 362v4M223 371v9M223 398v9M223 410v1M223 412v1M223 423v1M223 428v1M223 430v1M223 435v1M223 442v1M223 447v1M223 449v1M223 454v1M223 456v1M224 167v1M224 169v2M224 242v2M224 301v19M224 326v6M224 350v4M224 384v1M224 388v4M224 394v4M224 400v6M224 412v4M224 421v2M224 424v1M224 426v1M224 431v1M224 433v1M224 438v1M224 440v1M224 447v1M224 452v1M224 454v1M225 358v2M225 384v4M225 394v12M225 408v1M225 412v1M225 429v1M225 431v1M225 436v1M225 438v1M225 443v1M225 450v1M225 452v1M225 455v1M225 457v1M226 185v12M226 294v1M226 312v3M226 324v9M226 336v6M226 358v2M226 374v4M226 384v3M226 399v6M226 413v1M226 423v1M226 427v1M226 429v1M226 434v1M226 436v1M226 441v1M226 443v1M226 446v1M226 448v1M226 453v1M226 455v1M227 358v2M227 362v2M227 366v1M227 373v1M227 388v2M227 396v1M227 400v12M227 413v1M227 418v1M227 420v1M227 425v1M227 427v1M227 430v1M227 432v1M227 437v1M227 439v1M227 444v1M227 446v1M227 451v1M227 453v1M227 458v1M228 303v3M228 310v12M228 330v4M228 348v3M228 368v4M228 375v15M228 393v5M228 400v4M228 406v2M228 411v1M228 418v1M228 420v2M228 423v1M228 428v1M228 430v1M228 435v1M228 437v1M228 442v1M228 444v1M228 449v1M228 451v1M228 456v1M228 458v1"/><path stroke="#00ffeb" d="M140 345v3M140 413v4M142 341v13M142 421v1M144 314v7M144 324v6M144 344v4M146 327v6M148 321v6M148 333v6M148 351v3M148 418v1M148 421v1M150 333v6M150 351v3M152 319v14M152 336v12M152 413v1M152 415v3M154 328v8M156 337v5M156 349v5M156 414v2M156 421v1M156 423v1M158 320v16M158 418v1M158 422v1M160 330v6M160 348v3M160 413v1M162 342v6M162 351v3M164 334v6M164 352v2M164 414v2M166 336v5M166 348v5M166 414v2M166 420v2M166 425v1M168 336v12M170 340v6M170 416v1M172 321v9M172 348v6M172 413v4M174 322v2M180 336v4M180 346v5M180 413v1M186 421v1M194 300v6M194 309v2M194 329v1M194 333v6M194 342v3M194 413v4M194 418v2M194 421v1M196 320v4M196 330v2M196 338v16M198 310v9M198 325v12M198 345v9M198 414v1M198 422v1M200 314v6M200 333v5M200 344v10M200 413v2M200 422v1M202 310v6M202 340v6M204 311v7M204 321v6M204 333v9M204 345v2M206 304v9M206 319v6M206 343v6M206 414v1M208 307v5M208 315v9M208 327v3M208 337v12M210 306v3M210 312v5M210 333v2M210 341v10M210 419v1M210 423v2M212 253v2M212 302v1M212 313v12M212 331v6M212 343v11M212 421v1M214 310v6M214 322v2M214 327v1M214 334v2M214 339v15M216 314v12M216 332v18M216 414v1M218 311v10M218 327v18M218 348v3M218 417v1M218 419v1M220 320v1M220 332v10M222 313v5M222 337v6M224 320v6M224 332v7M224 342v8M224 416v2M224 419v1M226 295v11M226 309v3M226 318v6M226 342v3M226 348v6M226 414v1M226 416v3M228 306v4M228 322v5M228 334v11M228 413v2M228 416v1"/><path stroke="#00ffb1" d="M129 354v4M130 354v4M131 354v4M132 354v4M133 354v4M134 354v4M135 354v4M136 354v4M137 354v4M138 354v4M139 354v4M139 412v1M140 354v4M141 354v4M142 354v4M143 354v4M144 354v4M144 415v1M145 354v4M146 354v4M147 354v4M148 354v4M149 354v4M150 354v4M150 410v1M151 354v4M152 354v4M153 354v4M154 354v4M155 354v4M156 354v4M156 413v1M157 354v4M158 354v4M159 354v4M160 354v4M161 354v4M162 354v4M163 354v4M164 354v4M165 354v4M165 413v1M166 354v4M167 354v4M168 354v4M169 354v4M170 354v4M171 354v4M172 354v4M173 354v4M174 354v4M174 412v1M175 354v4M176 354v4M177 354v4M178 354v4M179 354v4M180 354v4M181 354v4M182 354v4M183 354v4M184 354v4M185 354v4M186 354v4M187 354v4M188 354v4M188 413v1M189 354v4M189 413v1M190 354v4M191 354v4M192 354v4M193 354v4M193 366v4M193 386v5M193 394v2M193 411v1M194 354v5M194 362v7M194 379v1M194 409v1M195 354v4M195 409v3M195 415v1M196 354v4M196 376v5M196 405v3M196 411v2M197 354v4M197 380v4M197 408v2M198 354v4M198 382v2M198 388v3M198 394v3M199 354v7M199 397v3M200 354v5M201 354v4M201 359v3M201 401v1M202 354v4M202 406v4M203 354v4M203 362v8M203 392v6M204 354v4M204 375v3M204 390v2M204 405v1M205 354v4M205 360v4M205 397v3M206 354v4M206 370v1M206 386v1M206 402v6M207 354v4M207 390v1M207 400v3M208 354v4M208 373v3M208 391v6M208 400v3M209 354v4M209 364v3M209 404v2M210 354v4M210 362v2M210 373v3M210 388v4M210 403v3M210 411v1M211 354v4M211 384v3M212 354v4M212 403v2M212 411v1M213 354v4M213 380v1M213 384v3M213 396v3M214 354v4M214 369v2M214 374v3M214 395v3M214 410v1M215 354v4M215 400v9M216 354v4M216 379v3M217 354v4M217 392v1M217 402v3M217 408v1M217 410v3M218 354v4M218 375v3M218 402v6M218 412v1M219 354v8M219 368v6M220 354v6M220 367v3M220 397v1M220 406v2M221 354v4M221 379v2M221 399v3M221 405v3M221 410v1M222 354v4M222 370v1M222 377v3M223 354v4M223 360v2M223 368v3M223 382v3M223 395v3M223 407v3M223 411v1M224 354v4M224 385v3M224 406v6M225 354v4M225 388v6M225 409v1M226 354v4M226 360v2M226 378v2M226 382v2M226 387v12M226 405v3M226 411v1M227 354v4M227 367v3M227 372v1M227 384v4M227 392v2M227 397v3M227 412v1M228 354v4M228 374v1M228 390v3M228 412v1"/><path stroke="#00ff9d" d="M139 411v1M141 412v1M146 411v1M146 419v1M148 414v2M148 420v1M149 419v1M153 413v1M154 413v1M157 413v1M159 408v1M162 421v1M163 412v1M165 412v1M167 409v1M167 414v1M168 418v1M169 419v1M171 416v1M173 412v1M175 418v1M176 409v1M177 413v1M178 413v2M179 418v1M180 414v1M183 415v1M183 420v1M186 413v2M189 417v1M189 422v1M190 408v1M192 411v1M192 416v2M197 420v1M203 413v1M205 421v1M208 412v1M209 412v1M214 416v1M215 416v1M219 413v1M220 418v1M222 415v1M223 420v1M228 417v1"/><path stroke="#00ff89" d="M139 426v1M140 425v1M141 420v1M142 416v1M142 420v1M143 420v2M145 424v1M146 415v1M147 415v1M148 419v1M151 423v2M152 414v1M152 423v1M155 422v1M156 418v1M157 418v1M158 417v1M158 426v2M160 417v1M161 421v1M163 413v1M163 426v1M164 422v1M165 417v1M165 427v1M166 417v1M167 423v1M168 413v1M168 423v1M170 415v1M170 419v1M174 413v1M175 412v1M176 417v1M177 427v1M178 418v1M178 427v1M179 419v1M180 419v1M181 423v2M182 414v1M182 419v1M185 418v1M185 424v1M187 418v1M188 422v2M191 417v1M191 422v1M192 421v1M192 425v1M193 425v1M194 420v1M194 425v1M197 410v1M198 423v1M199 410v1M199 414v1M199 419v1M200 423v1M201 413v1M201 418v1M202 423v1M203 427v1M204 418v1M205 412v1M205 417v1M207 421v1M208 411v1M209 420v2M210 420v1M210 425v1M211 416v1M213 416v1M216 411v1M216 421v1M216 425v2M218 413v1M219 422v1M220 419v1M220 423v1M222 420v1M224 425v1M225 420v1M226 426v1M227 416v1M227 421v2M227 426v1"/><path stroke="#00ff76" d="M140 421v1M141 421v1M141 425v1M141 430v1M142 425v1M143 415v1M143 429v2M144 425v1M145 429v2M145 434v1M146 420v1M147 424v1M149 428v1M150 419v1M150 423v1M150 428v1M151 428v1M152 428v1M153 427v1M154 428v1M154 432v1M155 418v1M155 432v1M157 427v1M157 431v1M158 431v1M159 422v1M159 426v1M159 432v1M160 421v2M161 422v1M162 422v1M163 422v1M163 431v1M164 417v1M164 426v2M165 421v1M166 427v1M166 432v1M167 428v1M168 419v1M169 428v2M170 420v1M170 424v2M170 433v1M171 420v1M172 420v2M173 422v1M173 426v1M173 431v1M174 417v1M174 421v1M174 427v1M175 417v1M175 423v1M176 422v1M177 428v1M177 432v1M178 433v1M179 423v1M181 428v2M183 419v1M183 424v1M184 423v1M185 419v1M185 423v1M186 419v1M186 428v1M189 431v1M190 426v2M190 431v1M191 430v1M193 421v1M193 426v1M193 430v1M194 429v1M195 424v2M195 429v1M196 419v1M196 424v1M196 429v1M196 433v1M197 428v2M198 419v1M198 424v1M199 423v1M200 433v1M201 422v2M201 428v1M204 426v1M205 422v1M205 426v1M205 431v1M207 417v1M207 422v1M208 421v1M208 425v1M209 416v1M209 425v2M210 426v1M212 424v2M213 429v1M214 420v1M214 424v1M215 425v1M215 430v1M216 431v1M217 422v1M218 422v1M218 426v2M218 431v1M219 423v1M219 427v2M219 432v1M221 424v1M221 428v2M222 424v1M222 428v2M224 420v1M225 425v1M225 430v1M228 422v1M228 426v1"/><path stroke="#00ff62" d="M139 421v1M139 430v1M139 435v1M140 426v1M140 431v1M142 430v1M143 435v1M143 439v1M144 429v1M145 425v1M146 425v1M146 429v1M146 433v1M147 429v1M147 434v1M148 424v1M148 428v1M148 434v1M149 429v1M149 434v1M150 429v1M152 424v1M152 442v1M153 423v1M153 432v1M154 423v1M154 427v1M154 433v1M155 427v1M155 437v1M156 422v1M156 427v1M157 432v1M158 432v1M158 436v1M159 427v1M159 431v1M160 426v2M160 441v1M161 426v1M161 436v1M162 431v1M162 436v1M165 422v1M166 422v1M166 431v1M167 432v1M167 437v1M167 441v1M169 424v1M169 433v1M169 437v1M170 429v1M170 434v1M170 438v1M171 429v1M172 425v1M172 430v1M174 426v1M174 436v1M175 422v1M175 432v1M175 437v1M176 427v1M176 432v1M176 436v1M177 436v1M178 428v1M179 432v2M179 437v1M180 423v1M180 428v1M181 438v1M182 429v1M182 438v1M183 428v1M183 433v1M184 424v1M184 428v1M184 437v1M185 432v2M186 423v1M186 437v1M187 423v1M187 427v2M187 437v1M188 427v1M188 431v2M188 436v1M189 432v1M190 436v1M191 426v1M191 431v1M192 426v1M192 430v2M193 420v1M193 439v1M194 430v1M195 434v1M196 425v1M197 424v1M197 438v1M198 428v2M199 437v1M200 428v1M201 427v1M201 432v1M203 422v1M203 431v2M203 436v1M204 422v1M204 431v2M205 427v1M205 440v2M206 426v1M206 435v1M207 430v1M207 435v1M208 426v1M208 430v1M208 440v1M209 439v2M210 430v1M210 434v1M211 425v1M211 429v2M211 434v1M212 434v1M213 424v1M213 430v1M214 429v1M214 439v1M215 421v1M215 426v1M215 439v1M216 440v1M217 427v1M218 432v1M220 432v1M222 434v1M223 433v1M224 430v1M225 426v1M225 435v1M226 421v1M226 430v1M226 435v1M227 436v1M228 427v1M228 431v1M228 441v1"/><path stroke="#00ff4e" d="M139 431v1M139 439v1M140 439v1M142 440v1M144 434v1M145 439v1M146 438v1M146 443v1M147 438v1M148 429v1M149 438v1M150 433v1M151 438v1M151 443v1M152 432v2M152 437v2M153 428v1M154 437v1M155 428v1M156 436v2M157 441v1M158 446v1M159 436v1M160 431v1M161 431v1M161 441v1M161 445v2M162 440v1M163 427v1M163 436v1M164 431v1M164 436v1M165 436v1M166 426v1M166 436v1M167 446v1M168 432v1M168 437v2M168 442v1M171 430v1M171 434v2M172 440v1M172 444v1M173 430v1M173 440v1M173 444v1M174 431v2M174 440v1M174 445v1M175 431v1M177 437v1M177 441v1M178 432v1M178 437v1M179 438v1M179 447v1M180 438v1M180 443v1M181 433v1M181 437v1M181 442v1M182 442v2M183 434v1M183 438v1M183 442v1M184 433v1M184 438v1M185 437v1M186 427v1M186 432v2M186 442v1M187 436v1M188 437v1M188 445v1M189 440v1M190 441v1M191 436v1M191 440v1M193 434v1M193 440v1M193 444v1M194 434v1M195 430v1M195 438v2M196 434v1M197 434v1M198 443v1M198 447v1M199 428v1M199 433v1M199 438v1M199 442v2M200 432v1M200 446v1M201 433v1M202 427v2M202 432v1M202 436v2M202 441v2M203 441v1M203 445v1M204 436v1M205 436v1M206 436v1M207 431v1M207 436v1M207 449v1M208 431v1M208 439v1M208 445v1M209 430v1M209 445v1M210 435v1M210 439v2M210 444v1M211 435v1M212 429v2M212 439v1M212 444v1M213 438v2M214 430v1M214 434v1M215 435v1M215 440v1M216 430v1M216 435v1M217 426v1M217 431v1M217 440v2M218 441v1M219 436v2M220 428v1M220 433v1M220 442v1M221 433v1M221 438v1M222 438v1M222 443v1M223 429v1M223 434v1M223 438v1M223 443v2M224 429v1M224 434v1M224 439v1M224 449v1M225 434v1M225 439v1M226 431v1M226 445v1M226 449v1M227 431v1"/><path stroke="#00ff3b" d="M139 440v1M139 444v1M139 450v1M140 435v1M140 444v1M140 449v1M140 454v1M141 435v1M141 439v2M141 444v1M141 449v1M141 454v1M142 439v1M142 444v1M142 448v1M144 444v1M145 438v1M145 444v1M145 452v1M146 453v1M147 439v1M147 443v1M148 438v1M148 452v1M149 442v2M150 437v1M150 457v1M151 437v1M151 442v1M151 452v1M153 437v1M155 436v1M155 441v1M155 446v1M156 442v1M156 451v1M157 437v1M157 445v1M157 450v1M158 441v1M158 450v2M159 440v1M159 445v1M160 436v1M160 440v1M160 446v1M160 450v1M161 455v1M162 441v1M162 450v1M163 440v2M163 445v2M163 450v1M165 440v1M165 445v2M166 441v1M167 436v1M167 442v1M167 451v1M169 442v2M170 447v1M170 452v2M171 439v1M171 444v1M172 434v1M172 439v1M172 445v1M172 449v1M173 435v2M173 445v1M173 449v1M173 454v1M174 446v1M174 454v1M175 451v1M176 441v1M177 442v1M177 447v1M177 451v1M178 442v1M179 442v1M179 446v1M179 451v2M180 433v1M180 437v1M180 442v1M180 451v1M181 443v1M181 448v1M181 452v1M182 433v2M182 452v1M183 447v1M183 456v1M184 442v1M185 442v1M185 451v2M186 441v1M186 446v1M187 432v1M187 441v1M188 441v1M188 446v1M188 450v1M189 436v1M189 441v1M189 445v1M189 450v1M190 450v1M191 445v1M192 435v1M192 439v2M193 449v1M193 453v1M194 448v2M195 443v1M195 453v1M196 438v1M196 443v1M196 447v1M197 443v1M197 447v1M197 452v1M198 433v1M198 442v1M198 448v1M199 451v2M200 438v1M200 442v1M200 451v1M201 437v1M201 442v1M201 446v2M202 446v1M202 450v1M204 440v2M205 435v1M205 445v1M205 454v1M206 449v2M207 440v1M207 445v1M208 454v1M209 454v1M210 448v1M210 454v1M211 439v1M211 444v1M211 449v1M212 435v1M212 443v1M213 434v1M213 443v1M213 448v1M214 449v1M215 444v1M215 449v1M215 453v1M216 444v1M216 450v1M217 435v2M217 450v1M218 436v1M218 446v1M218 450v2M219 451v1M219 455v1M221 437v1M221 442v2M221 451v2M222 447v2M223 439v1M224 443v1M225 440v1M226 440v1M226 444v1M226 450v1M227 435v1M227 440v1M228 440v1"/><path stroke="#00ff27" d="M139 445v1M139 449v1M140 445v1M140 458v1M141 458v1M142 458v1M143 443v1M143 449v1M143 453v1M144 443v1M144 449v1M144 453v1M144 457v1M145 443v1M146 444v1M146 458v1M147 447v2M147 453v1M148 443v1M148 447v2M149 447v2M149 452v1M150 442v1M151 451v1M152 447v1M152 451v1M153 446v2M153 451v1M153 456v1M154 442v1M154 455v2M155 442v1M155 456v1M156 441v1M156 446v1M156 450v1M156 455v1M157 451v1M158 445v1M159 446v1M159 450v1M159 454v1M160 445v1M160 454v2M161 450v1M161 454v1M162 446v1M162 454v2M164 445v2M164 454v1M165 441v1M165 455v1M166 445v2M166 455v1M167 450v1M167 456v1M168 447v1M168 451v2M168 456v1M169 452v1M169 456v1M170 443v1M170 448v1M170 457v1M171 448v1M171 453v1M171 457v1M172 453v2M172 458v1M174 441v1M175 441v1M175 445v2M176 442v1M176 450v1M177 446v1M177 455v2M178 441v1M178 446v2M178 456v1M180 447v1M180 456v1M181 447v1M181 457v1M182 447v1M182 457v1M183 448v1M183 452v1M184 443v1M184 456v1M185 446v1M185 456v1M186 455v1M187 446v1M187 451v1M188 451v1M188 455v1M189 446v1M189 454v2M190 449v1M191 444v1M192 444v2M192 449v1M192 454v1M193 448v1M193 454v1M194 443v2M195 444v1M196 448v1M197 448v1M198 452v1M198 457v1M199 456v1M200 447v1M200 452v1M201 441v1M201 451v1M201 455v1M202 451v1M202 455v2M203 446v1M203 455v1M204 455v1M205 450v1M207 444v1M207 458v1M208 444v1M208 449v2M208 458v1M210 453v1M211 448v1M211 458v1M212 448v1M212 457v1M213 452v2M213 457v1M214 443v2M214 448v1M214 458v1M215 448v1M216 454v1M216 458v1M217 445v1M217 449v1M217 455v1M218 445v1M219 446v1M220 446v2M220 452v1M221 447v1M222 442v1M223 453v1M223 458v1M224 444v1M224 448v1M224 457v1M225 444v1M225 449v1M225 454v1M226 454v1M227 445v1M227 449v2M228 445v1M228 450v1M228 454v1"/><path stroke="#00ff14" d="M139 454v1M139 458v1M141 448v1M142 453v2M143 458v1M145 453v1M145 457v1M146 457v1M147 452v1M147 457v1M148 453v1M148 457v1M151 456v2M152 452v1M154 451v1M155 451v1M155 455v1M156 456v1M159 455v1M164 450v1M165 450v1M165 454v1M166 451v1M169 448v1M169 457v1M171 449v1M171 458v1M174 455v1M175 450v1M175 455v1M176 455v1M179 456v1M180 452v1M180 457v1M181 456v1M182 448v1M183 457v1M184 451v2M184 457v1M186 451v1M186 456v1M187 450v1M187 456v1M190 454v1M191 449v2M192 453v1M192 458v1M193 458v1M194 453v1M197 453v1M197 457v1M198 456v1M200 456v1M201 456v1M203 450v2M205 455v1M206 455v1M207 454v1M209 449v1M210 449v1M211 453v2M212 453v1M214 457v1M215 454v1M217 454v1M219 450v1M219 456v1M222 452v2M223 452v1M223 457v1M224 453v1M224 458v1M225 453v1M227 455v1"/><path stroke="#00ff00" d="M145 458v1M149 456v2M150 456v1M152 456v1M163 455v1M164 455v1M167 455v1M195 457v1M196 458v1M199 457v1M215 458v1M221 457v1M222 457v1M225 458v1M226 458v1"/><path stroke="#000096" d="M705 0v6M705 9v1M705 12v3M706 0v16M706 18v3M706 33v1M707 0v9M707 12v3M708 0v15M708 18v2M708 21v3M708 33v1M709 0v5M709 9v6M710 0v15M710 18v2M710 24v3M711 0v12M711 18v3M712 0v18M712 21v1M713 0v12M713 15v6M714 0v12M715 0v10M715 12v3M715 18v3M715 24v2M716 0v3M716 6v1M717 0v3M718 0v21M718 24v3M719 0v6M719 9v3M719 15v3M720 0v24M720 27v9M720 39v2M721 0v7M721 15v3M722 0v2M722 3v5M722 15v1M723 0v1M723 3v1M724 0v12M724 15v1M724 18v2M725 3v3M726 0v15M726 18v3M727 0v2M728 3v3M728 9v1M729 3v2M729 6v3M730 0v20M730 21v3M730 27v1M731 6v3M732 0v9M732 18v2M733 0v12M733 15v3M734 0v4M734 6v3M735 0v15M735 21v3M736 0v4M736 6v5M736 15v3M737 0v6M738 0v17M739 0v3M739 9v3M740 0v31M740 36v3M741 0v21M741 24v3M741 30v2M742 0v19M742 21v3M742 27v3M743 0v10M743 12v6M744 0v3M744 6v3M744 12v2M745 0v3M745 9v3M746 0v9M747 0v18M747 21v3M747 27v6M748 0v15M748 18v3M748 24v3M749 0v12M749 15v1M750 0v12M751 3v3M752 0v5M752 6v3M753 0v12M754 0v18M754 21v3M754 27v4M755 0v18M757 0v33M757 36v3M757 42v3M759 0v8M759 9v3M759 15v2M760 0v18M762 0v3M762 6v3M763 0v3M764 0v15M764 21v3M765 0v1M766 0v9"/><path stroke="#0000ae" d="M594 265v1M595 265v2M597 265v2M600 266v1M603 266v1M604 266v1M607 265v2M609 265v1M613 265v1M614 265v2M615 265v1M616 266v1M617 266v1M618 265v1M620 266v1M621 265v2M623 265v2M625 266v1M627 266v1M629 265v2M630 265v2M632 266v1M635 265v2M637 265v2M638 265v1M639 266v1M640 265v2M643 265v1M644 265v1M645 265v1M646 266v1M648 265v2M653 266v1M656 266v1M659 265v2M663 266v1M666 265v1M668 266v1M670 265v1M671 266v1M673 266v1M674 266v1M675 266v1M676 265v2M678 265v1M679 266v1M680 266v1M683 266v1M684 266v1M685 266v1M686 266v1M687 265v2M688 265v2M691 266v1M692 265v2M693 265v1M694 265v1M696 266v1M697 265v2M700 266v1M702 266v1M704 265v1M705 6v3M705 10v2M705 15v57M705 265v2M706 16v2M706 21v12M706 34v50M706 90v3M706 265v2M707 9v3M707 15v57M707 75v6M707 265v2M708 15v3M708 20v1M708 24v9M708 34v56M708 93v3M708 265v1M709 5v4M709 15v57M709 75v3M710 15v3M710 20v4M710 27v57M710 265v2M711 12v6M711 21v63M711 266v1M712 18v3M712 22v58M712 81v5M712 265v2M713 12v3M713 21v54M713 78v1M713 81v2M713 84v1M713 265v2M714 12v50M714 63v1M714 66v3M714 72v3M714 266v1M714 435v3M715 10v2M715 15v3M715 21v3M715 26v58M715 265v2M716 3v3M716 7v71M716 265v2M716 435v3M717 3v72M717 265v1M718 21v3M718 27v54M718 265v1M719 6v3M719 12v3M719 18v52M719 265v2M720 24v3M720 36v3M720 41v55M720 99v2M721 7v8M721 18v56M721 75v3M721 265v1M722 2v1M722 8v7M722 16v53M722 72v3M723 1v2M723 4v62M723 69v2M723 266v1M724 12v3M724 16v2M724 20v58M725 0v3M725 6v58M725 66v4M725 265v1M726 15v3M726 21v60M726 265v2M726 435v3M727 2v60M727 63v3M728 0v3M728 6v3M728 10v56M728 69v6M728 266v1M729 0v3M729 5v1M729 9v60M729 72v3M730 20v1M730 24v3M730 28v56M730 87v8M730 265v2M731 0v6M731 9v60M731 265v2M732 9v9M732 20v52M732 75v3M732 81v3M732 265v2M733 12v3M733 18v60M733 265v1M734 4v2M734 9v70M734 265v2M735 15v6M735 24v60M735 90v2M735 266v1M736 4v2M736 11v4M736 18v57M736 78v2M736 81v3M736 265v1M737 6v67M737 75v3M737 265v2M738 17v59M738 78v3M738 84v6M738 265v2M739 3v6M739 12v65M739 266v1M740 31v5M740 39v51M740 265v2M741 21v3M741 27v3M741 32v55M741 90v6M741 265v1M742 19v2M742 24v3M742 30v64M742 265v2M743 10v2M743 18v67M743 265v2M744 3v3M744 9v3M744 14v55M744 265v2M745 3v6M745 12v56M745 69v6M745 265v2M746 9v63M746 265v1M747 18v3M747 24v3M747 33v57M747 96v1M747 266v1M748 15v3M748 21v3M748 27v57M748 265v1M749 12v3M749 16v62M749 81v1M749 266v1M750 12v57M750 265v1M751 0v3M751 6v59M751 265v2M752 5v1M752 9v60M752 72v2M753 12v60M753 75v3M753 265v2M754 18v3M754 24v3M754 31v49M754 84v4M754 90v2M754 265v1M755 18v62M755 81v6M755 266v1M756 0v54M756 60v3M756 265v1M757 33v3M757 39v3M757 45v48M757 96v3M757 265v2M758 0v54M758 57v3M758 63v6M758 265v2M758 435v3M759 8v1M759 12v3M759 17v53M759 72v4M759 265v1M760 18v56M760 81v3M761 0v63M762 3v3M762 9v60M762 75v1M762 81v1M762 266v1M763 3v66M763 265v1M764 15v6M764 24v61M764 265v1M765 1v59M765 265v2M766 9v66M766 265v1M767 0v57M767 266v1"/><path stroke="#0000c7" d="M594 263v2M595 2v1M595 30v3M595 264v1M596 263v2M597 263v2M598 263v2M599 264v1M600 264v1M601 262v3M602 264v2M603 0v9M603 17v13M603 42v3M603 263v3M604 264v1M605 264v1M605 266v1M606 263v3M607 264v1M608 263v2M609 11v1M609 21v3M609 264v1M610 263v2M610 266v1M611 264v2M612 263v4M613 264v1M614 30v5M614 38v4M614 48v3M614 264v1M615 262v3M616 16v14M616 39v6M616 48v3M616 54v3M616 63v3M616 263v2M617 0v4M617 12v6M617 21v3M617 27v3M617 39v1M617 47v1M617 264v2M618 264v1M619 263v2M620 263v2M621 263v2M622 35v13M622 51v12M622 69v8M622 264v1M623 6v9M623 18v4M623 48v1M623 263v2M624 263v3M625 0v2M625 9v3M625 19v5M625 27v3M625 39v3M625 262v3M626 263v2M627 0v3M627 21v2M627 263v2M628 3v5M628 13v5M628 54v3M628 63v3M628 262v3M629 11v5M629 263v2M630 263v2M631 0v26M631 34v3M631 41v1M631 50v1M631 54v3M631 63v2M631 66v3M631 264v3M632 12v5M632 28v5M632 39v18M632 60v1M632 65v4M632 72v4M632 263v2M633 3v9M633 15v9M633 27v3M633 45v3M633 263v2M634 262v4M635 263v2M636 15v3M636 263v2M636 266v1M637 12v3M637 264v1M638 263v2M639 263v3M640 17v1M640 33v3M640 39v9M640 264v1M641 0v6M641 263v3M642 263v3M643 263v2M644 39v2M644 263v2M645 7v2M645 18v3M645 263v2M646 264v2M647 0v3M647 262v3M648 264v1M649 263v2M650 264v1M651 264v2M652 264v1M653 262v4M654 0v6M654 9v3M654 18v6M654 27v3M654 33v3M654 263v3M655 262v3M656 9v1M656 18v3M656 263v3M657 0v3M657 12v6M657 21v3M657 264v2M658 6v3M658 263v4M659 3v2M659 6v4M659 21v4M659 33v1M659 45v2M659 264v1M660 264v1M661 0v3M661 263v2M662 264v1M663 26v5M663 45v3M663 264v2M664 263v4M665 24v3M665 264v1M666 0v2M666 264v1M667 3v1M667 12v3M667 264v1M668 264v1M669 11v28M669 45v2M669 57v2M669 67v2M669 72v6M669 263v4M670 264v1M671 1v8M671 18v15M671 39v1M671 264v1M672 1v2M672 22v2M672 262v3M672 266v1M673 0v28M673 36v1M673 52v4M673 60v5M673 87v3M673 93v1M673 264v1M674 264v1M675 0v1M675 21v3M675 30v3M675 264v2M676 0v2M676 12v3M676 27v3M676 264v1M677 263v3M678 15v5M678 22v30M678 54v18M678 75v6M678 87v3M678 96v6M678 105v3M678 114v1M678 264v1M679 0v6M679 9v1M679 21v3M679 264v1M680 27v3M680 263v2M681 262v3M682 31v2M682 43v8M682 264v1M683 262v4M684 264v2M685 0v3M685 263v2M686 50v1M686 57v3M686 69v2M686 72v9M686 264v2M687 0v13M687 21v27M687 51v3M687 86v1M687 264v1M688 9v2M688 262v3M689 6v3M689 264v2M690 11v5M690 60v3M690 69v3M690 263v2M691 11v32M691 264v1M692 263v2M693 0v30M693 33v3M693 48v3M693 54v6M693 263v2M694 264v1M695 262v3M696 0v2M696 3v6M696 12v6M696 21v3M696 264v2M697 18v5M697 45v3M697 58v2M697 264v1M698 262v5M699 0v7M699 15v16M699 72v2M699 75v1M699 81v3M699 263v1M699 265v2M700 263v2M701 0v2M701 15v2M701 264v1M702 263v2M703 0v6M703 9v2M703 12v3M703 18v6M703 45v3M703 264v1M703 266v1M704 51v3M704 263v2M705 72v66M705 262v3M706 84v6M706 93v49M706 144v1M706 147v4M706 262v3M706 432v6M707 72v3M707 81v57M707 262v3M708 90v3M708 96v51M708 150v9M708 262v3M708 429v3M709 72v3M709 78v54M709 262v3M710 84v60M710 262v3M710 429v3M710 435v3M711 84v63M711 262v3M712 80v1M712 86v53M712 141v3M712 153v1M712 262v3M712 429v6M713 75v3M713 79v2M713 83v1M713 85v56M713 144v8M713 262v3M714 62v1M714 64v2M714 69v3M714 75v52M714 129v3M714 135v3M714 262v3M714 429v3M715 84v55M715 141v1M715 147v3M715 262v3M715 435v3M716 78v57M716 138v3M716 262v3M716 429v6M717 75v60M717 262v3M718 81v58M718 144v12M718 262v3M718 432v6M719 70v62M719 138v6M719 147v1M719 262v3M719 435v3M720 96v3M720 101v55M720 262v3M720 432v6M721 74v1M721 78v66M721 262v3M721 435v3M722 69v3M722 75v53M722 129v6M722 262v3M722 429v6M723 66v3M723 71v55M723 129v3M723 138v3M723 262v3M724 78v61M724 144v3M724 262v3M724 429v6M725 64v2M725 70v62M725 262v3M725 435v3M726 81v63M726 147v5M726 262v3M727 62v1M727 66v66M727 262v3M728 66v3M728 75v54M728 132v4M728 138v3M728 262v3M729 69v3M729 75v54M729 132v4M729 262v3M730 84v3M730 95v51M730 147v2M730 262v3M730 432v6M731 69v58M731 132v2M731 135v3M731 262v3M731 435v3M732 72v3M732 78v3M732 84v51M732 138v3M732 144v3M732 262v3M732 432v6M733 78v57M733 138v3M733 262v3M734 79v59M734 144v1M734 262v3M734 429v9M735 84v6M735 92v52M735 262v3M736 75v3M736 80v1M736 84v47M736 132v3M736 138v3M736 144v3M736 262v3M736 432v3M737 73v2M737 78v60M737 262v3M738 76v2M738 81v3M738 90v51M738 144v3M738 150v2M738 262v3M738 429v6M739 77v58M739 262v3M740 90v60M740 153v6M740 262v3M740 429v9M741 87v3M741 96v52M741 150v3M741 156v3M741 262v3M742 94v52M742 147v6M742 162v1M742 262v3M742 435v3M743 85v56M743 144v6M743 262v3M744 69v60M744 135v3M744 262v3M744 429v9M745 68v1M745 75v63M745 262v3M746 72v63M746 138v5M746 262v3M746 432v6M747 90v6M747 97v50M747 262v3M748 84v57M748 144v3M748 262v3M748 429v3M749 78v3M749 82v59M749 262v3M750 69v66M750 138v2M750 262v3M750 435v3M751 65v67M751 262v3M752 69v3M752 74v54M752 129v5M752 135v3M752 262v3M752 432v6M753 72v3M753 78v57M753 144v3M753 262v3M754 80v4M754 88v2M754 92v48M754 141v6M754 150v6M754 262v3M754 435v3M755 80v1M755 87v49M755 138v2M755 141v3M755 147v2M755 262v3M756 54v6M756 63v57M756 262v3M756 429v9M757 93v3M757 99v63M757 165v4M757 262v3M757 435v3M758 54v3M758 60v3M758 69v50M758 120v2M758 129v3M758 262v3M758 429v3M759 70v2M759 76v53M759 132v3M759 141v1M759 262v3M760 74v7M760 84v53M760 138v3M760 144v3M760 262v3M760 432v6M761 63v58M761 123v3M761 129v3M761 262v3M762 69v6M762 76v5M762 82v52M762 135v3M762 262v3M762 429v3M762 435v3M763 69v64M763 262v3M764 85v62M764 150v2M764 262v3M764 429v3M764 435v3M765 60v69M765 135v1M765 262v3M766 75v63M766 141v1M766 262v3M766 429v9M767 57v63M767 262v3"/><path stroke="#0000e0" d="M594 261v2M595 3v6M595 22v1M595 33v2M595 38v6M595 51v75M595 132v3M595 138v3M595 144v9M595 177v3M595 261v3M596 28v5M596 42v38M596 87v33M596 126v6M596 144v3M596 261v2M597 0v5M597 13v22M597 49v2M597 55v24M597 82v16M597 105v9M597 117v12M597 132v9M597 261v2M598 39v21M598 67v7M598 81v35M598 123v18M598 144v6M598 153v3M598 171v6M598 186v9M598 261v2M599 0v22M599 36v12M599 57v3M599 75v6M599 84v6M599 93v3M599 261v3M600 37v13M600 54v69M600 126v1M600 135v3M600 141v3M600 261v3M601 16v14M601 43v16M601 63v30M601 100v5M601 108v3M601 123v1M601 128v1M601 135v4M601 159v3M601 261v1M602 45v4M602 53v61M602 117v3M602 123v3M602 129v6M602 262v2M603 9v1M603 30v12M603 45v28M603 80v72M603 157v2M603 174v3M603 261v2M604 42v45M604 94v17M604 114v6M604 123v15M604 141v3M604 153v3M604 261v3M605 19v8M605 35v3M605 45v21M605 73v7M605 87v14M605 117v6M605 144v3M605 261v3M606 43v12M606 59v4M606 72v5M606 87v3M606 261v2M607 9v91M607 108v3M607 123v4M607 129v6M607 147v3M607 262v2M608 0v57M608 61v4M608 69v27M608 99v3M608 117v3M608 261v2M609 12v9M609 24v1M609 38v85M609 130v2M609 135v6M609 151v2M609 174v6M609 262v2M610 52v13M610 72v28M610 107v28M610 138v1M610 141v11M610 165v3M610 261v2M611 18v15M611 42v8M611 54v3M611 75v7M611 93v3M611 108v2M611 261v3M612 52v53M612 108v3M612 114v9M612 129v3M612 135v3M612 144v3M612 261v2M613 0v35M613 44v24M613 75v6M613 84v6M613 93v6M613 105v3M613 120v3M613 261v3M614 29v1M614 42v6M614 51v46M614 104v40M614 147v6M614 156v3M614 162v6M614 174v3M614 180v3M614 262v2M615 0v9M615 17v48M615 75v7M615 89v1M615 93v3M615 99v6M615 108v6M615 120v3M615 261v1M616 30v9M616 45v3M616 51v3M616 57v6M616 66v5M616 81v78M616 162v5M616 168v3M616 174v5M616 186v3M616 204v3M616 213v6M616 261v2M617 18v3M617 24v3M617 30v9M617 48v4M617 60v8M617 75v63M617 153v6M617 262v2M618 47v1M618 55v53M618 111v14M618 135v3M618 144v5M618 156v3M618 261v3M619 49v6M619 65v8M619 75v42M619 120v15M619 148v2M619 159v6M619 261v2M620 261v2M621 22v8M621 43v5M621 51v9M621 63v6M621 75v3M621 93v1M621 261v2M622 48v3M622 63v6M622 77v12M622 96v63M622 166v13M622 180v18M622 208v5M622 225v3M622 252v2M622 255v1M622 262v2M623 4v2M623 15v3M623 29v19M623 49v78M623 134v14M623 155v1M623 159v1M623 171v3M623 183v3M623 261v2M624 42v57M624 102v3M624 108v3M624 117v2M624 261v2M625 2v7M625 24v3M625 30v9M625 42v3M625 49v14M625 71v4M625 82v7M625 90v34M625 131v13M625 150v2M625 159v9M625 261v1M626 28v10M626 47v35M626 89v28M626 126v6M626 144v8M626 261v2M627 3v1M627 17v4M627 23v13M627 44v8M627 60v6M627 80v22M627 105v3M627 115v5M627 132v3M627 138v3M627 261v2M628 53v1M628 57v6M628 66v4M628 74v67M628 148v15M628 168v1M628 177v20M628 204v2M628 231v3M628 261v1M629 27v10M629 44v7M629 58v10M629 72v21M629 100v26M629 129v3M629 135v3M629 141v6M629 150v3M629 168v2M629 261v2M630 13v1M630 51v6M630 60v6M630 75v6M630 261v2M631 51v3M631 57v6M631 65v1M631 69v5M631 75v1M631 83v35M631 125v28M631 181v2M631 192v6M631 262v2M632 33v6M632 57v3M632 69v3M632 76v32M632 115v14M632 136v35M632 174v3M632 183v2M632 192v3M632 198v6M632 261v2M633 0v3M633 12v3M633 24v3M633 30v15M633 48v41M633 96v42M633 145v3M633 162v3M633 174v3M633 261v2M634 46v2M634 55v49M634 117v3M634 123v6M634 135v6M634 261v1M635 0v38M635 48v4M635 55v1M635 64v5M635 75v3M635 81v3M635 87v3M635 93v3M635 99v1M635 108v6M635 117v3M635 129v1M635 261v2M636 35v5M636 41v67M636 111v21M636 135v3M636 159v1M636 261v2M637 10v2M637 15v2M637 24v11M637 39v41M637 87v37M637 126v12M637 141v9M637 157v5M637 261v3M638 29v10M638 56v6M638 63v3M638 75v6M638 87v3M638 261v2M639 0v24M639 48v4M639 56v49M639 114v3M639 261v2M640 18v4M640 30v3M640 36v3M640 48v9M640 64v77M640 144v4M640 155v1M640 159v6M640 180v6M640 189v6M640 261v3M641 14v8M641 30v78M641 111v3M641 117v3M641 132v6M641 261v2M642 42v87M642 138v1M642 150v3M642 156v5M642 162v6M642 177v3M642 261v2M643 0v12M643 20v5M643 32v28M643 66v3M643 78v3M643 108v3M643 114v2M643 261v2M644 32v7M644 41v94M644 180v3M644 261v2M645 9v9M645 29v8M645 45v7M645 56v70M645 138v3M645 153v1M645 261v2M646 22v15M646 42v22M646 68v4M646 76v4M646 84v18M646 112v17M646 135v1M646 141v6M646 150v3M646 261v3M647 3v53M647 70v38M647 111v1M647 119v4M647 132v3M647 138v2M647 261v1M648 0v3M648 23v5M648 32v3M648 37v68M648 108v12M648 132v3M648 261v3M649 0v11M649 19v8M649 38v55M649 96v16M649 119v4M649 126v6M649 261v2M650 35v1M650 40v56M650 99v6M650 108v12M650 123v9M650 144v3M650 262v2M651 0v2M651 18v8M651 34v8M651 50v24M651 75v15M651 93v6M651 111v3M651 125v4M651 262v2M652 29v5M652 54v15M652 71v29M652 102v9M652 114v3M652 262v2M653 8v28M653 40v32M653 75v6M653 84v3M653 93v1M653 102v3M653 261v1M654 6v3M654 12v6M654 24v3M654 30v3M654 36v96M654 135v6M654 149v4M654 159v3M654 170v1M654 261v2M655 0v9M655 16v21M655 44v16M655 68v11M655 93v9M655 108v10M655 123v3M655 129v5M655 135v3M655 150v2M655 261v1M656 2v7M656 10v8M656 21v14M656 38v48M656 100v14M656 117v9M656 135v3M656 144v3M656 261v2M657 11v1M657 18v3M657 24v3M657 35v8M657 59v8M657 75v19M657 101v7M657 115v6M657 123v12M657 150v3M657 156v1M657 261v3M658 4v2M658 34v4M658 54v12M658 73v50M658 126v6M658 138v3M658 147v3M658 153v3M658 159v5M658 261v2M659 0v3M659 5v1M659 18v3M659 32v1M659 43v2M659 51v37M659 95v7M659 109v35M659 158v1M659 172v5M659 189v3M659 262v2M660 51v8M660 63v4M660 68v13M660 90v12M660 120v3M660 129v1M660 261v3M661 3v55M661 62v14M661 83v35M661 125v4M661 261v2M662 20v25M662 53v26M662 81v3M662 99v6M662 261v3M663 0v2M663 38v7M663 48v18M663 73v65M663 141v2M663 150v3M663 162v2M663 171v3M663 262v2M664 261v2M665 0v1M665 23v1M665 27v14M665 49v7M665 65v42M665 114v7M665 128v7M665 138v6M665 147v3M665 156v7M665 262v2M666 37v44M666 88v28M666 123v9M666 141v9M666 156v3M666 162v1M666 165v6M666 262v2M667 1v2M667 11v1M667 15v10M667 39v14M667 60v5M667 73v29M667 109v14M667 130v2M667 135v3M667 141v3M667 158v1M667 262v2M668 15v5M668 50v65M668 123v12M668 138v3M668 261v3M669 39v6M669 51v6M669 69v3M669 78v31M669 114v14M669 135v7M669 149v7M669 163v2M669 171v2M669 174v3M669 191v1M669 195v3M669 216v6M669 261v2M670 15v20M670 39v8M670 55v6M670 68v1M670 72v9M670 84v3M670 90v3M670 108v2M670 262v2M671 17v1M671 33v6M671 40v1M671 52v28M671 87v49M671 143v7M671 171v3M671 261v3M672 3v1M672 24v46M672 72v36M672 111v3M672 117v10M672 141v3M672 261v1M673 65v22M673 90v3M673 94v34M673 135v28M673 170v7M673 201v3M673 210v1M673 216v3M673 261v3M674 44v58M674 105v12M674 132v5M674 141v6M674 262v2M675 24v6M675 33v16M675 57v62M675 126v21M675 156v12M675 262v2M676 15v2M676 30v2M676 41v73M676 117v12M676 135v11M676 147v3M676 159v6M676 261v3M677 0v42M677 46v16M677 69v24M677 96v6M677 114v1M677 117v3M677 261v2M678 52v2M678 72v3M678 81v6M678 90v6M678 102v3M678 108v6M678 115v105M678 222v6M678 234v5M678 240v3M678 252v3M678 262v2M679 6v3M679 18v3M679 24v26M679 66v8M679 75v39M679 117v10M679 134v4M679 141v3M679 147v12M679 262v2M680 26v1M680 30v1M680 38v2M680 47v4M680 55v6M680 68v35M680 110v13M680 131v7M680 141v6M680 150v3M680 162v3M680 261v2M681 0v4M681 12v24M681 44v12M681 72v6M681 81v4M681 87v3M681 93v6M681 261v1M682 33v6M682 51v16M682 70v71M682 144v3M682 150v5M682 156v6M682 165v6M682 180v4M682 261v3M683 0v21M683 29v7M683 42v11M683 261v1M684 36v5M684 42v59M684 108v45M684 156v6M684 168v1M684 174v3M684 180v3M684 261v3M685 3v3M685 14v24M685 46v8M685 62v8M685 75v29M685 105v27M685 138v6M685 147v11M685 162v2M685 261v2M686 51v6M686 60v9M686 71v1M686 81v85M686 180v3M686 201v9M686 234v3M686 262v2M687 48v3M687 54v15M687 75v4M687 87v34M687 128v40M687 171v13M687 198v3M687 210v3M687 228v3M687 261v3M688 6v3M688 31v5M688 55v5M688 67v2M688 73v44M688 120v3M688 132v6M688 141v3M688 147v3M688 261v1M689 0v6M689 9v3M689 28v17M689 49v73M689 128v2M689 132v15M689 261v3M690 47v13M690 63v2M690 72v41M690 120v21M690 165v3M690 180v3M690 210v3M690 261v2M691 71v10M691 92v21M691 120v56M691 186v3M691 192v3M691 204v3M691 262v2M692 40v12M692 56v34M692 99v3M692 108v2M692 120v3M692 261v2M693 30v3M693 44v4M693 51v3M693 60v8M693 75v33M693 115v41M693 157v11M693 171v6M693 186v6M693 198v6M693 261v2M694 0v1M694 26v25M694 55v8M694 67v62M694 135v9M694 150v11M694 162v3M694 261v3M695 0v18M695 26v25M695 55v21M695 78v1M695 81v3M695 87v6M695 99v9M695 114v3M695 261v1M696 2v1M696 9v3M696 18v3M696 24v18M696 50v81M696 145v2M696 150v6M696 166v5M696 177v6M696 262v2M697 16v2M697 30v15M697 48v3M697 60v6M697 69v45M697 121v9M697 135v18M697 156v12M697 201v6M697 262v2M698 0v43M698 47v37M698 87v6M698 96v3M698 102v3M698 108v6M698 120v6M698 135v3M698 261v1M699 61v11M699 74v1M699 76v5M699 84v5M699 96v49M699 152v7M699 166v7M699 180v6M699 189v3M699 195v3M699 201v3M699 222v6M699 261v2M699 264v1M700 14v5M700 25v28M700 60v21M700 95v4M700 102v8M700 120v3M700 135v2M700 261v2M701 10v5M701 17v5M701 42v19M701 74v38M701 113v14M701 134v10M701 147v9M701 159v3M701 262v2M702 10v1M702 28v15M702 47v33M702 87v7M702 102v6M702 111v9M702 132v3M702 261v2M703 6v3M703 11v1M703 15v3M703 31v14M703 48v87M703 138v19M703 262v2M704 25v11M704 40v1M704 48v3M704 54v6M704 64v33M704 104v36M704 141v12M704 162v3M704 204v2M704 261v2M705 138v27M705 168v12M705 183v6M705 198v6M705 219v3M705 261v1M706 142v2M706 145v2M706 151v74M706 231v3M706 244v2M706 261v1M706 414v5M706 429v3M707 138v27M707 168v6M707 177v39M707 219v6M707 261v1M707 414v5M708 147v3M708 159v75M708 261v1M708 414v5M708 432v6M709 132v39M709 174v6M709 189v3M709 198v12M709 225v3M709 261v1M709 414v5M709 429v3M710 144v81M710 231v6M710 261v1M710 414v5M710 432v3M711 147v24M711 180v9M711 198v24M711 261v1M712 139v2M712 144v9M712 154v73M712 231v3M712 261v1M712 414v5M712 435v3M713 141v3M713 152v74M713 228v6M713 261v1M713 414v5M713 429v6M714 127v2M714 132v3M714 138v69M714 210v3M714 261v1M714 414v5M714 432v3M715 139v2M715 142v5M715 150v75M715 261v1M715 414v5M715 429v3M716 135v3M716 141v66M716 210v3M716 219v3M716 261v1M716 414v5M716 448v5M717 135v66M717 204v3M717 210v2M717 213v6M717 261v1M717 414v5M717 429v6M718 139v5M718 156v62M718 219v15M718 261v1M718 414v5M718 429v3M719 132v6M719 144v3M719 148v74M719 261v1M719 414v5M719 429v6M720 156v83M720 244v2M720 249v2M720 261v1M720 414v5M720 429v3M721 144v62M721 207v9M721 261v1M721 414v5M721 429v6M722 128v1M722 135v72M722 210v1M722 222v1M722 261v1M722 414v5M722 435v3M723 126v3M723 132v6M723 141v57M723 201v9M723 213v3M723 261v1M723 414v5M723 435v3M724 139v5M724 147v74M724 225v3M724 261v1M724 414v5M724 435v3M725 132v72M725 210v3M725 261v1M725 414v5M725 429v6M726 144v3M726 152v73M726 231v6M726 261v1M726 414v5M726 429v6M727 132v60M727 201v7M727 261v1M727 414v5M727 429v9M728 129v3M728 136v2M728 141v60M728 204v4M728 210v3M728 216v3M728 261v1M728 414v5M728 429v9M728 448v2M729 129v3M729 136v71M729 213v3M729 219v1M729 261v1M729 414v5M729 429v3M729 435v3M730 146v1M730 149v82M730 234v6M730 245v1M730 261v1M730 414v5M730 429v3M731 127v5M731 134v1M731 138v70M731 210v6M731 261v1M731 414v5M731 432v3M732 135v3M732 141v3M732 147v62M732 210v3M732 216v6M732 261v1M732 414v5M732 429v3M733 135v3M733 141v66M733 210v13M733 225v3M733 261v1M733 414v5M733 432v6M734 138v6M734 145v66M734 213v3M734 222v4M734 261v1M734 414v5M735 144v83M735 228v3M735 234v3M735 261v1M735 414v5M735 429v3M735 435v3M736 131v1M736 135v3M736 141v3M736 147v76M736 225v6M736 261v1M736 414v5M736 429v3M736 435v3M737 138v68M737 207v7M737 216v9M737 261v1M737 414v5M737 429v3M737 435v3M738 141v3M738 147v3M738 152v69M738 225v3M738 237v2M738 261v1M738 414v5M738 435v3M739 135v84M739 261v1M739 414v5M739 429v9M740 150v3M740 159v81M740 244v7M740 261v1M740 414v5M741 148v2M741 153v3M741 159v65M741 225v3M741 246v3M741 261v1M741 414v5M741 429v9M742 146v1M742 153v9M742 163v66M742 231v3M742 237v2M742 244v2M742 261v1M742 414v5M742 429v6M743 141v3M743 150v81M743 261v1M743 414v5M744 129v6M744 138v72M744 213v3M744 219v6M744 261v1M744 414v5M744 450v3M745 138v66M745 261v1M745 414v5M745 429v9M746 135v3M746 143v65M746 210v3M746 216v6M746 261v1M746 414v5M746 429v3M746 450v3M747 147v82M747 231v3M747 237v2M747 261v1M747 414v5M747 432v6M748 141v3M748 147v81M748 231v3M748 237v2M748 261v1M748 414v5M748 432v6M749 141v72M749 216v2M749 219v3M749 261v1M749 414v5M749 435v3M750 135v3M750 140v76M750 222v3M750 261v1M750 414v5M750 429v6M751 132v69M751 204v3M751 210v6M751 261v1M751 414v5M751 432v6M752 128v1M752 134v1M752 138v65M752 204v9M752 261v1M752 414v5M752 429v3M753 135v9M753 147v71M753 222v3M753 261v1M753 414v5M753 432v6M754 140v1M754 147v3M754 156v69M754 231v6M754 261v1M754 414v5M754 429v6M755 136v2M755 140v1M755 144v3M755 149v70M755 222v6M755 231v3M755 261v1M755 414v5M755 429v6M756 120v55M756 177v12M756 201v2M756 261v1M756 414v5M757 162v3M757 169v71M757 244v7M757 261v1M757 414v5M757 429v3M758 119v1M758 122v7M758 132v57M758 195v3M758 261v1M758 414v5M758 432v3M758 450v3M759 129v3M759 135v6M759 142v61M759 204v6M759 216v3M759 261v1M759 414v5M759 429v9M760 137v1M760 141v3M760 147v66M760 219v4M760 234v1M760 261v1M760 414v5M760 429v3M761 121v2M761 126v3M761 132v66M761 201v1M761 261v1M761 414v5M761 435v3M762 134v1M762 138v69M762 210v3M762 219v3M762 261v1M762 414v5M762 432v3M762 448v2M763 133v71M763 207v3M763 261v1M763 414v5M763 432v6M764 147v3M764 152v70M764 225v8M764 234v3M764 261v1M764 414v5M764 432v3M765 129v6M765 136v56M765 195v3M765 201v3M765 213v3M765 261v1M765 414v5M765 429v3M765 435v3M766 138v3M766 142v73M766 216v9M766 261v1M766 414v5M766 450v3M767 120v78M767 201v1M767 204v3M767 261v1M767 414v5M767 435v3"/><path stroke="#0000f9" d="M594 368v4M594 394v2M594 412v2M594 420v2M594 426v2M594 430v2M594 444v1M595 126v6M595 135v3M595 141v3M595 153v3M595 163v7M595 180v4M595 198v7M595 219v42M595 384v2M595 388v2M595 396v2M595 400v2M595 404v4M595 428v2M595 432v4M595 444v1M596 120v6M596 132v12M596 147v10M596 164v14M596 192v69M596 362v2M596 386v2M596 404v2M596 410v2M596 414v2M596 430v4M597 114v3M597 129v3M597 141v34M597 189v72M597 366v4M597 376v2M597 384v2M597 390v2M597 404v1M597 408v2M597 425v5M597 432v2M597 436v4M598 74v1M598 141v3M598 150v3M598 156v2M598 165v6M598 177v2M598 195v66M598 378v6M598 386v2M598 392v2M598 404v2M598 410v2M598 430v2M598 436v2M598 442v2M599 56v1M599 60v4M599 72v3M599 81v3M599 90v3M599 96v3M599 106v21M599 141v31M599 174v12M599 189v12M599 394v2M599 397v1M599 404v2M599 408v2M599 412v2M599 426v4M599 434v4M599 440v2M600 123v3M600 134v1M600 138v3M600 144v4M600 176v49M600 232v29M600 374v2M600 378v1M600 386v2M600 390v2M600 394v2M600 400v2M600 412v2M600 418v2M600 426v4M600 438v6M601 105v3M601 111v3M601 121v2M601 129v6M601 139v3M601 156v3M601 162v1M601 177v14M601 198v7M601 212v7M601 233v28M601 374v4M601 388v2M601 398v2M601 410v2M601 416v2M601 420v2M601 438v2M601 442v2M602 114v3M602 120v3M602 126v3M602 135v9M602 151v49M602 214v42M602 261v1M602 358v2M602 374v2M602 382v2M602 394v2M602 404v2M602 410v2M602 426v2M602 432v2M602 436v4M603 159v5M603 171v3M603 177v50M603 241v14M603 358v2M603 389v1M603 402v2M603 406v2M603 419v1M603 436v2M603 440v4M603 446v1M604 111v3M604 120v3M604 138v3M604 144v9M604 156v50M604 220v14M604 241v7M604 255v6M604 378v2M604 386v1M604 392v2M604 400v2M604 408v6M604 424v8M604 438v2M605 108v9M605 123v13M605 143v1M605 147v31M605 185v7M605 199v28M605 241v7M605 249v3M605 258v3M605 358v2M605 390v2M605 416v2M605 426v4M605 434v4M606 67v5M606 77v10M606 90v64M606 160v14M606 181v1M606 186v6M606 195v7M606 216v3M606 222v3M606 228v3M606 237v3M606 249v2M606 400v4M606 416v2M606 420v1M606 426v2M606 432v2M606 436v4M606 442v2M607 107v1M607 111v3M607 121v2M607 127v2M607 135v12M607 150v105M607 258v4M607 362v2M607 367v1M607 378v1M607 384v2M607 395v1M607 409v1M607 414v2M607 424v2M607 430v4M608 96v3M608 102v2M608 111v6M608 120v12M608 139v49M608 202v7M608 216v9M608 228v3M608 234v3M608 246v5M608 364v2M608 370v2M608 376v2M608 382v2M608 388v4M608 396v2M608 412v2M608 420v2M608 428v4M608 442v3M609 132v3M609 141v3M609 153v5M609 172v2M609 180v6M609 217v4M609 228v14M609 249v13M609 362v2M609 372v2M609 380v1M609 386v1M609 392v2M609 424v2M609 430v14M609 447v1M610 135v3M610 139v2M610 152v13M610 168v2M610 191v28M610 226v14M610 254v7M610 366v6M610 374v2M610 388v1M610 400v2M610 412v2M610 428v2M610 436v2M610 440v4M611 57v1M611 82v11M611 96v12M611 117v49M611 187v7M611 208v2M611 213v2M611 222v15M611 240v3M611 376v2M611 380v2M611 384v2M611 394v2M611 410v4M611 418v4M611 426v2M611 432v2M611 438v2M612 105v3M612 111v3M612 123v6M612 132v3M612 138v6M612 147v75M612 229v14M612 252v9M612 370v2M612 382v2M612 388v2M612 398v2M612 404v2M612 425v1M612 430v2M612 438v2M612 444v2M613 81v3M613 90v3M613 99v6M613 108v12M613 123v4M613 134v7M613 148v21M613 176v21M613 204v24M613 231v9M613 243v3M613 388v2M613 416v2M613 420v2M613 425v1M613 428v4M613 434v2M613 444v2M614 144v3M614 153v3M614 159v3M614 168v4M614 177v3M614 183v26M614 216v21M614 244v18M614 358v2M614 366v2M614 384v2M614 388v2M614 402v4M614 420v2M614 425v1M614 430v2M614 434v6M615 90v3M615 96v3M615 105v3M615 114v6M615 123v7M615 131v7M615 145v7M615 166v28M615 208v23M615 237v13M615 257v4M615 360v2M615 374v3M615 382v2M615 388v2M615 392v2M615 396v2M615 420v3M615 430v2M615 434v6M615 442v2M615 446v1M616 159v3M616 167v1M616 171v3M616 189v15M616 207v6M616 219v16M616 249v12M616 358v6M616 380v2M616 390v2M616 396v2M616 402v1M616 410v2M616 422v2M616 430v2M616 440v2M617 152v1M617 187v7M617 215v35M617 257v5M617 398v2M617 402v2M617 406v2M617 416v4M617 434v4M617 440v2M617 444v3M618 108v1M618 132v3M618 138v6M618 149v7M618 159v29M618 209v49M618 361v1M618 370v2M618 385v1M618 388v2M618 392v2M618 400v2M618 422v3M618 430v2M618 436v2M618 440v2M618 444v3M619 117v3M619 135v6M619 150v9M619 165v4M619 176v7M619 204v21M619 239v22M619 362v2M619 386v1M619 394v2M619 402v2M619 406v2M619 410v1M619 414v2M619 418v2M619 422v3M619 432v2M619 442v6M620 158v7M620 172v14M620 193v14M620 209v13M620 228v3M620 255v1M620 372v2M620 384v4M620 406v8M620 424v2M620 434v2M620 444v4M620 450v1M621 48v3M621 60v3M621 69v6M621 78v15M621 94v33M621 134v21M621 169v1M621 176v7M621 190v11M621 204v3M621 210v1M621 222v3M621 228v3M621 384v2M621 408v2M621 414v2M621 418v2M621 422v2M621 430v6M621 446v2M622 179v1M622 198v3M622 213v12M622 228v1M622 236v16M622 254v1M622 256v6M622 372v2M622 376v4M622 384v2M622 398v2M622 402v2M622 414v4M622 422v4M622 436v2M623 156v3M623 160v11M623 174v9M623 186v18M623 211v21M623 239v22M623 362v2M623 374v2M623 378v2M623 381v7M623 390v4M623 402v1M623 414v4M623 420v2M623 426v1M623 430v2M623 434v2M623 444v2M623 448v1M624 99v3M624 105v3M624 111v6M624 133v28M624 168v7M624 182v7M624 196v7M624 217v5M624 228v18M624 255v6M624 390v2M624 398v2M624 408v2M624 412v2M624 424v2M624 434v2M624 442v2M624 448v1M625 144v6M625 168v5M625 194v14M625 222v14M625 243v7M625 364v2M625 378v2M625 396v2M625 400v2M625 418v2M625 422v4M625 431v3M625 436v2M625 442v4M625 448v1M626 124v2M626 132v12M626 159v20M626 180v7M626 194v7M626 208v7M626 229v14M626 250v7M626 376v2M626 390v2M626 408v4M626 422v2M626 431v1M626 444v2M626 448v1M627 102v3M627 120v2M627 129v3M627 135v3M627 141v16M627 164v14M627 185v21M627 220v14M627 241v7M627 255v6M627 368v2M627 402v2M627 410v2M627 426v2M627 432v2M627 436v2M627 442v4M627 448v1M628 163v5M628 176v1M628 206v25M628 234v12M628 260v1M628 359v1M628 368v2M628 395v1M628 398v2M628 408v2M628 414v2M628 428v2M628 434v2M628 438v2M628 444v2M628 448v2M629 126v3M629 132v3M629 138v3M629 147v3M629 153v3M629 163v5M629 177v84M629 362v2M629 380v2M629 390v2M629 394v2M629 398v2M629 402v2M629 406v4M629 412v2M629 420v6M629 430v1M629 436v4M630 57v3M630 66v5M630 81v45M630 133v28M630 182v7M630 192v6M630 201v3M630 213v3M630 249v3M630 374v4M630 384v1M630 390v2M630 406v2M630 410v2M630 414v2M630 428v3M630 434v2M630 440v6M630 452v1M631 183v9M631 198v11M631 216v46M631 372v2M631 382v2M631 388v2M631 394v2M631 398v2M631 418v4M631 430v1M631 434v8M631 448v2M631 452v1M632 171v3M632 177v6M632 195v3M632 204v9M632 227v34M632 360v2M632 364v4M632 394v6M632 402v2M632 416v8M632 430v1M632 433v1M632 436v4M632 442v2M633 159v3M633 165v9M633 177v10M633 209v6M633 222v28M633 257v4M633 364v2M633 375v1M633 387v1M633 402v2M633 408v2M633 414v2M633 418v1M633 430v1M633 434v8M633 444v2M633 450v1M634 111v6M634 120v3M634 129v6M634 141v5M634 160v7M634 174v14M634 195v21M634 223v7M634 237v12M634 252v3M634 372v2M634 388v4M634 398v2M634 404v4M634 419v3M634 426v4M634 434v2M634 438v13M635 69v3M635 78v3M635 84v3M635 90v3M635 96v3M635 100v8M635 114v3M635 120v9M635 130v13M635 150v14M635 185v14M635 206v25M635 248v1M635 252v3M635 388v2M635 392v2M635 398v5M635 412v2M635 420v6M635 430v1M635 436v2M635 440v2M635 444v2M635 448v2M635 453v1M636 108v3M636 132v3M636 138v21M636 160v26M636 193v21M636 221v14M636 242v19M636 370v2M636 390v10M636 422v2M636 428v3M636 434v4M636 442v4M636 453v1M637 124v2M637 138v3M637 150v6M637 162v2M637 178v14M637 213v14M637 234v14M637 255v6M637 374v2M637 384v2M637 388v6M637 397v1M637 406v2M637 415v1M637 428v2M637 436v2M638 39v7M638 62v1M638 66v9M638 81v6M638 90v22M638 119v49M638 177v3M638 183v6M638 192v3M638 198v12M638 222v3M638 228v3M638 246v3M638 372v4M638 398v2M638 408v2M638 414v2M638 418v2M638 422v4M638 430v2M638 440v2M639 105v9M639 117v28M639 152v21M639 180v14M639 201v7M639 257v1M639 376v2M639 394v14M639 416v1M639 430v2M639 434v2M639 440v4M640 141v3M640 156v3M640 165v4M640 176v4M640 186v3M640 195v9M640 218v42M640 360v2M640 370v2M640 376v2M640 382v4M640 392v2M640 399v1M640 422v2M640 428v4M640 442v2M640 446v4M640 456v2M641 108v3M641 114v3M641 120v12M641 138v1M641 153v7M641 167v28M641 209v7M641 223v7M641 244v7M641 358v2M641 362v2M641 368v2M641 386v2M641 400v3M641 422v4M641 434v2M641 438v4M641 444v6M641 454v2M642 129v9M642 146v4M642 153v3M642 161v1M642 168v9M642 180v1M642 202v59M642 360v2M642 370v2M642 374v2M642 381v1M642 398v2M642 402v2M642 408v6M642 416v4M642 422v4M642 430v2M642 436v4M642 446v2M642 450v1M642 453v1M642 456v2M643 60v6M643 69v9M643 95v13M643 111v3M643 116v14M643 137v4M643 144v7M643 165v14M643 214v7M643 256v2M643 388v2M643 394v2M643 398v4M643 410v2M643 417v1M643 420v2M643 424v2M643 428v4M643 440v2M643 444v2M643 450v1M643 456v2M644 135v1M644 164v16M644 183v16M644 206v14M644 227v28M644 360v2M644 364v1M644 380v6M644 400v2M644 408v4M644 426v2M644 430v2M644 454v2M645 133v5M645 141v1M645 147v6M645 168v4M645 175v14M645 203v28M645 235v3M645 245v14M645 360v2M645 385v1M645 394v6M645 402v1M645 410v4M645 416v2M645 426v4M645 436v4M645 453v5M646 102v3M646 129v6M646 140v1M646 147v3M646 153v22M646 182v14M646 203v14M646 224v21M646 246v15M646 392v4M646 404v4M646 410v4M646 420v2M646 426v6M646 438v4M646 444v4M646 456v2M647 108v3M647 123v9M647 135v3M647 147v7M647 175v7M647 224v7M647 252v6M647 380v2M647 390v1M647 400v4M647 406v4M647 416v2M647 420v2M647 435v5M647 448v2M647 458v1M648 105v3M648 120v12M648 135v52M648 194v14M648 213v2M648 222v7M648 243v18M648 380v2M648 388v2M648 392v2M648 400v1M648 412v2M648 422v2M648 428v4M648 444v2M648 454v5M649 93v3M649 123v3M649 132v8M649 147v21M649 175v21M649 217v7M649 245v10M649 258v1M649 362v2M649 366v2M649 376v2M649 384v2M649 388v4M649 394v2M649 414v2M649 420v6M649 430v2M649 435v1M649 440v2M649 448v1M649 456v2M650 96v3M650 105v3M650 120v3M650 132v12M650 147v24M650 178v56M650 241v2M650 246v16M650 368v2M650 372v4M650 380v2M650 386v4M650 394v4M650 402v8M650 420v4M650 429v3M650 437v4M650 446v3M650 454v3M651 90v3M651 99v12M651 114v4M651 129v24M651 181v7M651 209v7M651 223v7M651 237v15M651 258v4M651 368v6M651 398v2M651 418v4M651 428v4M651 437v3M651 445v2M651 448v1M651 454v3M652 100v2M652 111v3M652 117v2M652 140v13M652 161v15M652 189v21M652 224v7M652 238v24M652 360v2M652 368v2M652 394v12M652 408v2M652 414v2M652 420v3M652 428v1M652 430v1M652 436v1M652 438v2M652 445v3M652 453v3M653 72v3M653 81v3M653 87v6M653 94v8M653 105v20M653 139v7M653 153v1M653 160v7M653 181v14M653 202v1M653 204v9M653 219v4M653 231v3M653 240v3M653 246v3M653 252v1M653 258v3M653 370v2M653 396v2M653 406v8M653 416v6M653 428v3M653 436v3M653 445v3M653 453v3M654 132v3M654 141v1M654 153v6M654 162v1M654 171v27M654 212v49M654 358v2M654 384v2M654 388v2M654 392v2M654 400v3M654 408v2M654 414v4M654 420v2M654 427v3M654 437v2M654 444v3M654 453v3M655 102v6M655 118v5M655 126v3M655 134v1M655 138v4M655 149v1M655 152v4M655 163v7M655 177v14M655 198v35M655 236v11M655 255v6M655 358v2M655 366v2M655 376v2M655 396v2M655 412v2M655 418v2M655 421v1M655 427v3M655 435v4M655 444v3M655 452v4M656 114v3M656 126v9M656 138v6M656 147v2M656 163v6M656 191v14M656 219v28M656 254v7M656 372v2M656 378v2M656 382v4M656 398v2M656 406v2M656 418v3M656 426v2M656 429v1M656 435v3M656 443v4M656 452v1M656 454v1M657 121v2M657 135v1M657 143v7M657 153v3M657 185v7M657 199v28M657 234v21M657 366v2M657 385v1M657 392v2M657 396v4M657 416v2M657 426v3M657 435v3M657 443v2M657 451v2M657 454v1M658 123v3M658 132v6M658 141v6M658 150v3M658 156v3M658 178v49M658 234v14M658 255v6M658 360v4M658 366v2M658 370v2M658 392v2M658 396v2M658 402v2M658 410v4M658 418v2M658 425v1M658 427v2M658 434v2M658 442v4M658 451v3M659 159v6M659 177v2M659 186v3M659 192v1M659 200v7M659 214v21M659 237v25M659 425v3M659 434v1M659 442v3M659 451v3M660 81v9M660 102v18M660 123v6M660 130v21M660 158v14M660 179v28M660 214v20M660 237v9M660 368v2M660 372v2M660 380v2M660 388v2M660 396v2M660 408v2M660 416v4M660 425v2M660 433v4M660 443v2M660 450v1M660 453v1M661 129v19M661 153v7M661 167v14M661 188v7M661 202v7M661 223v21M661 251v4M661 362v2M661 366v2M661 378v2M661 384v4M661 402v2M661 406v2M661 410v6M661 426v1M661 433v3M661 442v1M661 444v1M661 450v3M662 79v2M662 84v15M662 105v21M662 133v44M662 182v43M662 228v9M662 240v3M662 246v3M662 376v2M662 386v2M662 416v4M662 426v2M662 433v4M662 442v2M662 450v4M663 138v3M663 153v2M663 157v5M663 174v4M663 199v7M663 234v7M663 243v12M663 261v1M663 376v2M663 398v2M663 402v4M663 408v4M663 418v2M663 425v3M663 433v3M663 442v3M663 450v3M664 358v2M664 370v2M664 374v2M664 386v4M664 404v2M664 408v2M664 426v2M664 434v2M664 441v4M664 450v3M664 458v1M665 135v3M665 144v3M665 150v6M665 184v7M665 205v7M665 233v29M665 358v2M665 364v6M665 384v2M665 400v2M665 418v2M665 424v1M665 426v2M665 433v3M665 442v3M665 450v3M665 458v1M666 132v9M666 150v6M666 159v3M666 163v2M666 171v29M666 214v21M666 242v20M666 362v2M666 368v4M666 382v2M666 414v2M666 424v4M666 433v3M666 441v2M666 444v1M666 450v1M666 452v1M666 458v1M667 132v3M667 138v3M667 159v4M667 165v7M667 242v7M667 256v6M667 360v2M667 366v2M667 376v2M667 400v4M667 416v2M667 424v3M667 433v3M667 441v2M667 444v1M667 450v1M667 452v1M667 458v1M668 115v8M668 135v3M668 141v96M668 244v11M668 258v3M668 384v2M668 390v4M668 404v2M668 410v4M668 424v4M668 433v3M668 441v4M668 450v2M668 458v1M669 165v6M669 173v1M669 192v3M669 198v18M669 222v25M669 254v7M669 364v2M669 373v1M669 390v2M669 412v2M669 416v4M669 425v2M669 433v3M669 441v3M669 450v3M669 458v1M670 69v3M670 81v3M670 87v3M670 93v15M670 110v7M670 124v35M670 166v21M670 194v13M670 210v5M670 261v1M670 362v2M670 368v4M670 374v2M670 378v2M670 398v2M670 404v2M670 410v2M670 416v2M670 424v1M670 426v1M670 432v3M670 441v3M670 449v2M670 452v1M670 458v1M671 174v4M671 213v14M671 241v7M671 380v6M671 388v2M671 398v2M671 408v2M671 414v2M671 418v2M671 424v1M671 426v1M671 432v4M671 442v2M671 450v2M671 458v1M672 108v3M672 114v3M672 134v7M672 144v18M672 176v14M672 204v7M672 232v29M672 358v4M672 374v4M672 384v2M672 392v2M672 404v2M672 412v2M672 416v4M672 424v3M672 432v2M672 435v1M672 441v3M672 449v4M672 458v1M673 198v3M673 204v6M673 211v5M673 233v14M673 382v2M673 386v2M673 402v4M673 410v2M673 414v4M673 424v3M673 432v2M673 435v1M673 441v3M673 449v3M673 458v1M674 102v3M674 117v15M674 137v4M674 147v10M674 164v35M674 206v42M674 261v1M674 362v2M674 380v2M674 384v2M674 390v2M674 394v2M674 412v2M674 415v3M674 424v3M674 432v2M674 435v1M674 441v3M674 449v1M674 451v2M675 154v2M675 168v14M675 231v28M675 261v1M675 370v2M675 384v2M675 390v2M675 394v1M675 412v2M675 424v1M675 434v2M675 441v3M675 451v1M675 458v1M676 114v3M676 129v6M676 146v1M676 150v9M676 165v14M676 207v7M676 221v7M676 235v26M676 360v2M676 370v2M676 374v2M676 388v2M676 394v2M676 410v2M676 418v2M676 433v3M676 441v1M676 443v1M676 450v2M676 458v1M677 93v3M677 102v2M677 111v3M677 115v2M677 120v5M677 139v7M677 153v21M677 195v21M677 223v11M677 237v7M677 252v3M677 258v3M677 364v4M677 372v2M677 376v4M677 382v2M677 392v2M677 404v2M677 410v4M677 418v2M677 424v2M677 433v1M677 435v1M677 442v3M677 450v3M677 458v1M678 228v6M678 239v1M678 243v9M678 255v7M678 362v2M678 370v2M678 376v2M678 396v2M678 402v2M678 410v2M678 424v1M678 426v2M678 433v2M678 441v4M678 450v2M678 458v1M679 114v3M679 138v3M679 144v3M679 159v3M679 197v35M679 246v16M679 366v2M679 380v2M679 390v2M679 424v4M679 433v3M679 441v1M679 443v2M679 450v3M680 123v1M680 138v3M680 147v3M680 153v9M680 165v1M680 173v21M680 197v46M680 250v11M680 376v2M680 390v2M680 398v6M680 406v8M680 425v3M680 433v3M680 441v4M680 450v3M680 458v1M681 66v6M681 78v3M681 85v2M681 90v3M681 99v2M681 108v14M681 129v14M681 150v14M681 178v21M681 213v6M681 222v5M681 241v2M681 246v5M681 255v3M681 362v6M681 372v2M681 388v2M681 394v8M681 408v2M681 412v2M681 417v3M681 425v3M681 433v2M681 442v3M681 450v3M681 458v1M682 141v3M682 147v3M682 155v1M682 162v3M682 171v9M682 191v28M682 240v21M682 368v4M682 400v4M682 406v2M682 410v2M682 414v2M682 424v4M682 435v1M682 441v4M682 450v3M682 458v1M683 36v6M683 69v5M683 81v56M683 158v7M683 172v8M683 186v3M683 192v3M683 222v1M683 231v6M683 376v2M683 380v2M683 388v2M683 404v2M683 411v5M683 418v2M683 424v1M683 426v2M683 433v3M683 441v4M683 450v3M683 458v1M684 153v3M684 162v6M684 169v5M684 177v3M684 183v58M684 248v13M684 372v2M684 384v2M684 388v2M684 396v2M684 400v2M684 406v2M684 418v2M684 425v3M684 433v3M684 442v3M684 451v2M685 104v1M685 132v6M685 144v3M685 158v4M685 164v16M685 194v14M685 215v14M685 236v25M685 366v2M685 378v2M685 384v4M685 398v2M685 404v2M685 414v6M685 425v3M685 433v3M685 442v3M685 450v2M686 183v4M686 210v24M686 237v25M686 368v4M686 376v6M686 394v2M686 398v2M686 402v2M686 406v2M686 416v2M686 425v1M686 427v1M686 433v4M686 443v2M686 451v3M687 168v3M687 201v9M687 213v15M687 231v2M687 240v21M687 366v2M687 396v2M687 406v6M687 425v3M687 433v4M687 442v1M687 444v1M687 452v1M688 117v3M688 130v2M688 138v3M688 144v3M688 150v22M688 193v21M688 221v7M688 235v21M688 358v2M688 368v4M688 374v2M688 390v2M688 398v2M688 418v2M688 425v3M688 433v4M688 442v3M688 450v1M688 452v2M689 130v2M689 149v7M689 163v7M689 177v7M689 205v7M689 219v7M689 233v7M689 247v14M689 374v2M689 378v2M689 382v2M689 390v2M689 398v2M689 408v2M689 412v2M689 416v2M689 426v2M689 433v2M689 436v1M689 442v3M689 451v1M689 453v1M690 162v3M690 168v1M690 176v4M690 183v7M690 204v6M690 213v12M690 232v29M690 362v2M690 374v2M690 380v2M690 384v2M690 398v2M690 410v2M690 416v4M690 426v2M690 433v1M690 443v1M690 453v1M691 183v3M691 189v3M691 195v9M691 207v4M691 215v10M691 239v7M691 253v9M691 366v2M691 372v2M691 386v2M691 392v2M691 398v4M691 410v2M691 426v2M691 434v3M691 442v1M691 444v1M691 453v1M692 90v9M692 102v6M692 110v10M692 123v30M692 160v50M692 213v21M692 237v6M692 251v1M692 374v2M692 382v2M692 402v4M692 410v2M692 416v2M692 426v3M692 435v2M692 443v2M692 451v2M693 168v3M693 177v1M693 185v1M693 192v6M693 204v37M693 248v13M693 360v2M693 364v2M693 370v2M693 380v2M693 402v2M693 406v4M693 420v1M693 426v2M693 434v4M693 443v3M693 451v2M693 454v1M694 129v6M694 144v6M694 161v1M694 165v9M694 202v56M694 362v2M694 384v2M694 394v4M694 400v2M694 410v2M694 414v2M694 420v1M694 426v2M694 429v1M694 435v3M694 443v4M694 452v3M695 76v2M695 79v2M695 84v3M695 93v6M695 108v6M695 117v40M695 164v4M695 171v7M695 185v14M695 213v15M695 231v3M695 241v6M695 249v3M695 362v2M695 366v2M695 378v6M695 390v2M695 396v2M695 406v4M695 414v2M695 426v2M695 435v3M695 443v1M695 445v2M695 452v3M696 147v3M696 156v3M696 171v6M696 183v4M696 194v7M696 208v7M696 236v26M696 374v2M696 382v2M696 394v2M696 400v4M696 406v2M696 410v4M696 416v2M696 420v2M696 427v1M696 429v1M696 435v4M696 444v3M696 452v1M696 454v2M697 153v3M697 168v2M697 184v7M697 198v3M697 207v33M697 247v15M697 372v4M697 382v2M697 388v6M697 408v4M697 416v2M697 420v2M697 427v3M697 436v3M697 444v3M697 453v3M698 84v3M698 93v3M698 99v3M698 105v3M698 114v6M698 126v9M698 138v71M698 216v21M698 244v2M698 255v6M698 360v2M698 382v2M698 386v4M698 393v1M698 398v2M698 420v2M698 427v4M698 436v3M698 444v2M698 447v1M698 453v3M699 186v3M699 192v3M699 198v3M699 204v4M699 228v29M699 368v2M699 388v4M699 394v2M699 408v2M699 418v2M699 421v1M699 429v2M699 436v1M699 438v1M699 445v3M699 453v4M700 81v8M700 99v3M700 110v10M700 130v5M700 137v14M700 158v35M700 200v42M700 243v9M700 255v3M700 366v2M700 374v2M700 396v2M700 416v2M700 421v1M700 428v2M700 437v3M700 445v3M700 453v4M701 144v3M701 156v3M701 162v14M701 183v7M701 197v7M701 225v28M701 260v2M701 394v2M701 400v2M701 418v2M701 421v2M701 428v3M701 436v4M701 447v1M701 453v4M702 101v1M702 108v3M702 120v12M702 135v8M702 150v28M702 185v14M702 206v14M702 241v7M702 254v7M702 374v2M702 382v2M702 396v2M702 402v4M702 408v2M702 418v3M702 422v1M702 428v3M702 437v3M702 445v1M702 447v1M702 455v2M703 135v3M703 192v14M703 220v35M703 261v1M703 368v2M703 376v4M703 392v2M703 402v8M703 421v1M703 428v2M703 431v1M703 439v1M703 445v4M703 454v3M704 140v1M704 160v2M704 165v39M704 206v3M704 230v31M704 358v2M704 376v2M704 396v2M704 408v4M704 414v4M704 420v3M704 428v4M704 437v3M704 445v4M704 454v3M705 204v3M705 210v3M705 216v3M705 222v3M705 228v13M705 243v9M705 254v7M706 225v6M706 234v7M706 243v1M706 246v15M706 385v3M706 394v2M706 408v2M706 422v1M706 448v5M707 216v3M707 225v16M707 243v3M707 255v6M707 435v3M708 234v27M708 372v2M708 385v1M708 400v2M708 424v2M708 448v5M709 216v9M709 228v9M709 243v9M709 255v6M710 225v6M710 237v24M710 386v1M710 408v2M710 428v1M710 448v2M711 222v3M711 228v3M711 243v6M711 258v3M712 227v4M712 234v27M712 424v2M712 448v5M713 226v2M713 234v7M713 243v9M713 254v7M713 435v3M714 207v3M714 213v28M714 243v9M714 254v7M714 370v2M714 450v3M715 225v16M715 243v18M715 432v3M716 207v3M716 213v6M716 222v19M716 243v9M716 254v7M717 201v3M717 207v3M717 212v1M717 219v22M717 243v9M717 254v7M717 435v3M717 450v3M718 218v1M718 234v27M718 424v5M718 448v5M719 222v19M719 243v9M719 254v7M720 239v5M720 246v3M720 251v10M720 372v2M720 378v3M720 388v2M720 394v2M720 399v1M720 406v2M720 428v1M720 450v3M721 206v1M721 216v25M721 243v9M721 254v7M722 207v3M722 211v11M722 223v18M722 243v9M722 254v7M722 378v3M722 388v1M722 402v1M722 448v5M723 198v3M723 210v3M723 216v25M723 243v9M723 254v7M723 429v6M724 221v4M724 228v13M724 243v18M724 372v2M724 428v1M724 450v3M725 204v6M725 213v28M725 243v9M725 254v7M726 225v6M726 237v24M726 388v1M726 394v2M726 400v2M726 448v2M727 192v9M727 208v33M727 243v9M727 254v7M728 201v3M728 208v2M728 213v3M728 219v22M728 243v9M728 254v7M728 370v2M728 450v3M729 207v6M729 216v3M729 220v21M729 243v10M729 254v7M729 432v3M730 231v3M730 240v5M730 246v15M730 370v4M730 388v2M730 428v1M730 448v5M731 208v2M731 216v25M731 243v9M731 254v7M731 429v3M731 448v2M732 209v1M732 213v3M732 222v19M732 243v9M732 254v7M732 370v2M732 388v1M732 394v2M732 448v5M733 207v3M733 223v2M733 228v13M733 243v9M733 254v7M733 429v3M733 448v5M734 211v2M734 216v6M734 226v15M734 243v9M734 254v7M734 388v1M734 448v5M735 227v1M735 231v3M735 237v4M735 243v18M735 432v3M736 223v2M736 231v10M736 243v9M736 254v7M736 393v1M736 408v2M736 448v5M737 206v1M737 214v2M737 225v16M737 243v18M737 432v3M738 221v4M738 228v9M738 239v22M738 423v3M739 219v22M739 243v9M739 254v7M740 240v4M740 251v10M740 376v5M740 393v1M740 448v5M741 224v1M741 228v18M741 249v12M742 229v2M742 234v3M742 239v5M742 246v15M742 378v2M742 394v2M742 428v1M742 448v2M743 231v10M743 243v18M743 429v9M744 210v3M744 216v3M744 225v16M744 243v9M744 254v7M744 385v3M744 402v1M744 408v1M744 448v2M745 204v37M745 243v9M745 254v7M745 448v2M746 208v2M746 213v3M746 222v19M746 243v9M746 254v7M746 378v2M746 448v2M747 229v2M747 234v3M747 239v22M747 429v3M748 228v3M748 234v3M748 239v2M748 243v18M748 423v1M748 448v5M749 213v3M749 218v1M749 222v19M749 243v9M749 254v7M749 429v6M750 216v6M750 225v16M750 243v18M750 388v1M750 393v1M750 423v1M750 426v2M750 448v5M751 201v3M751 207v3M751 216v25M751 243v9M751 254v7M751 429v3M751 450v3M752 203v1M752 213v28M752 243v10M752 254v7M752 393v3M752 448v5M753 218v4M753 225v16M753 243v18M753 429v3M754 225v6M754 237v24M754 385v1M754 388v1M754 402v2M754 423v5M754 448v5M755 219v3M755 228v3M755 234v8M755 243v18M755 435v3M756 175v2M756 189v12M756 203v38M756 244v7M756 255v6M756 448v5M757 240v4M757 251v10M757 432v3M758 189v6M758 198v43M758 243v9M758 254v7M758 448v2M759 203v1M759 210v6M759 219v22M759 243v9M759 254v7M759 450v3M760 213v6M760 223v11M760 235v6M760 243v9M760 254v7M760 385v1M760 408v2M760 448v5M761 198v3M761 202v39M761 243v9M761 254v7M761 429v6M762 207v3M762 213v6M762 222v19M762 243v18M762 378v2M762 385v3M762 393v3M762 400v2M762 450v3M763 204v3M763 210v31M763 243v9M763 254v7M763 429v3M764 222v3M764 233v1M764 237v4M764 243v9M764 254v7M764 372v2M764 450v3M765 192v3M765 198v3M765 204v9M765 216v25M765 243v9M765 254v7M765 432v3M766 215v1M766 225v16M766 243v18M766 408v1M766 448v2M767 198v3M767 202v2M767 207v34M767 243v9M767 254v7M767 429v6M767 450v3"/><path stroke="#0021ff" d="M594 308v6M594 333v2M594 338v1M594 350v1M595 270v2M595 290v1M595 344v1M596 270v2M596 281v3M596 338v3M597 98v7M597 292v3M598 75v6M598 336v1M598 340v2M599 99v3M599 172v2M599 186v3M599 201v17M599 225v7M599 239v14M599 283v6M599 292v4M599 337v1M600 127v3M600 132v2M600 270v2M601 93v3M601 117v3M601 124v4M601 301v5M601 309v4M602 322v3M603 73v7M603 152v1M603 273v1M603 321v1M603 336v4M604 279v3M605 66v7M605 80v7M605 248v1M605 252v6M606 182v4M606 192v3M606 219v3M606 225v3M606 231v6M606 240v9M606 251v7M607 100v1M607 102v3M607 114v7M607 255v3M607 272v2M607 277v1M607 320v5M608 225v3M608 231v3M608 237v9M608 293v3M608 299v1M608 329v3M609 123v6M609 297v1M609 340v3M611 210v3M611 237v3M611 250v11M611 282v3M612 250v2M612 298v5M612 328v2M612 333v1M613 141v2M613 228v3M613 240v3M613 253v7M613 271v3M613 295v6M614 316v1M615 130v1M615 231v6M615 342v3M616 75v3M616 346v3M617 40v2M617 45v2M617 291v3M617 297v2M617 318v3M617 345v2M618 109v2M618 125v1M618 129v1M619 270v1M619 283v5M620 222v6M620 231v24M620 317v4M621 201v3M621 207v3M621 218v4M621 225v3M621 231v1M621 260v1M622 312v3M623 270v6M623 300v3M623 306v3M623 345v3M624 222v6M624 246v9M625 281v4M625 291v2M625 296v1M626 271v6M626 301v3M626 316v3M627 66v7M627 282v2M627 293v3M627 332v3M628 141v7M628 332v5M629 51v3M629 93v7M629 290v3M630 189v3M630 198v3M630 204v9M630 216v1M630 224v25M630 259v2M630 342v1M630 346v2M631 76v7M631 118v7M633 148v1M633 275v3M633 305v6M634 249v3M634 255v3M634 314v4M635 231v3M635 249v3M635 255v6M635 295v4M635 310v1M636 337v3M637 307v3M638 175v2M638 180v3M638 189v3M638 195v3M638 210v12M638 225v3M638 231v15M638 249v12M638 348v6M639 258v3M639 280v4M639 290v2M639 304v6M639 334v1M639 338v2M640 274v3M640 280v3M640 325v2M640 351v1M641 281v1M641 285v2M641 306v9M642 299v3M642 341v3M642 350v3M643 81v3M643 87v1M643 235v7M643 258v3M643 273v3M643 285v3M644 275v3M644 302v6M644 350v4M645 142v1M645 291v3M645 300v6M645 351v3M646 105v7M646 136v2M646 245v1M646 310v3M647 67v3M647 258v3M647 318v3M648 289v5M648 304v2M648 324v4M648 334v3M649 255v3M649 325v6M650 243v3M650 271v6M650 280v4M650 292v4M650 358v1M651 252v6M651 290v1M652 285v4M652 309v3M653 203v1M653 213v6M653 230v1M653 234v6M653 243v3M653 249v3M653 253v5M653 342v3M654 279v3M654 339v5M655 39v5M655 254v1M656 319v3M656 334v3M656 343v6M656 352v2M657 94v7M658 66v3M658 72v1M658 278v3M658 296v5M658 303v12M658 344v3M658 351v3M659 25v7M659 102v7M659 272v2M659 284v2M660 234v3M660 246v15M660 290v3M660 308v5M660 343v1M661 76v7M661 255v3M661 348v1M662 225v3M662 237v3M662 243v3M662 249v12M662 326v1M662 351v3M663 31v7M663 66v7M663 286v2M663 322v2M663 337v5M664 309v1M664 334v2M665 107v7M665 270v2M665 314v3M665 341v3M666 81v7M666 290v3M666 326v6M667 102v7M667 123v4M667 129v1M667 279v3M667 297v4M668 255v3M668 302v4M668 326v4M669 109v5M669 319v6M670 61v7M670 207v3M670 236v25M670 270v4M671 49v3M671 80v7M671 300v3M671 306v3M672 270v4M672 335v2M672 340v1M673 335v3M674 281v4M674 293v4M675 305v3M675 320v3M675 350v3M676 279v5M676 290v1M676 351v3M677 234v3M677 251v1M677 255v3M677 290v2M677 304v1M677 322v1M677 326v2M678 300v6M678 324v1M678 333v3M679 291v5M679 345v5M680 103v7M681 219v3M681 243v3M681 251v4M681 258v3M681 307v4M682 321v1M683 180v2M683 189v3M683 195v5M683 221v1M683 223v8M683 237v24M683 270v3M683 303v1M683 307v2M683 316v5M683 349v3M684 101v7M684 283v1M684 325v1M684 329v3M684 335v2M684 350v4M687 81v5M687 121v5M687 315v3M687 341v1M687 345v2M688 60v7M688 123v6M688 282v2M688 287v3M688 293v1M688 324v2M688 329v1M688 336v6M689 122v6M689 291v3M689 320v1M690 295v3M690 301v3M690 324v1M691 67v4M691 85v7M691 114v2M691 277v1M691 344v5M692 210v3M692 234v3M692 243v1M692 252v9M692 304v10M692 316v4M693 156v1M693 270v2M693 281v3M693 341v3M694 279v3M694 351v3M695 228v3M695 247v2M695 252v3M695 282v3M696 132v6M697 23v7M697 51v7M697 114v7M697 130v5M697 299v3M697 320v3M698 246v9M698 274v2M698 279v1M698 300v6M698 327v3M698 333v1M699 55v2M699 60v1M699 89v1M699 145v5M699 281v3M699 293v3M700 89v6M700 242v1M700 252v3M700 258v3M700 297v1M700 310v5M700 346v3M700 352v2M701 112v1M701 273v2M701 278v1M701 299v4M702 80v7M702 94v2M702 301v1M702 305v2M703 270v1M703 296v5M703 314v5M703 344v3M704 272v3M704 329v3M705 241v2M705 252v2M706 241v2M706 384v1M706 404v2M706 413v1M706 423v1M706 442v2M707 241v2M707 450v3M708 384v1M708 390v2M708 394v2M708 421v1M708 444v1M710 378v6M710 387v1M710 390v2M710 406v2M710 410v1M710 413v1M710 442v2M710 450v3M712 398v2M712 406v2M712 410v1M712 413v1M713 241v2M713 252v2M713 448v5M714 241v2M714 252v2M714 400v4M714 408v2M714 422v2M714 444v1M714 448v2M715 241v2M715 448v5M716 241v2M716 252v2M716 378v4M716 394v2M716 402v2M716 421v1M716 444v1M717 241v2M717 252v2M717 448v2M718 378v4M718 388v2M718 406v2M719 241v2M719 252v2M719 448v5M720 282v2M720 348v3M720 381v1M720 398v1M720 401v1M720 442v3M720 448v2M721 241v2M721 252v2M721 448v5M722 241v2M722 252v2M722 381v1M722 389v1M722 396v1M722 403v2M722 406v2M722 421v1M722 426v2M722 444v1M723 241v2M723 252v2M723 448v2M724 241v2M724 374v1M724 400v2M724 410v1M724 424v2M724 442v2M724 448v2M725 241v2M725 252v2M725 450v3M726 389v1M726 398v2M726 404v1M726 413v1M726 442v2M726 450v3M727 241v2M727 252v2M727 448v5M728 241v2M728 252v2M728 372v2M728 402v2M728 406v2M728 442v3M729 241v2M729 253v1M729 448v5M730 404v2M730 421v1M730 442v2M731 241v2M731 252v2M731 450v3M732 241v2M732 252v2M732 374v2M732 380v2M732 389v1M732 402v2M732 444v1M733 241v2M733 252v2M734 241v2M734 252v2M734 374v2M734 382v2M734 389v1M734 392v2M734 398v2M734 410v1M735 241v2M735 448v5M736 241v2M736 252v2M736 392v1M736 399v1M736 402v2M736 410v1M736 428v1M737 241v2M737 448v5M738 374v1M738 378v2M738 388v2M738 394v2M738 410v1M738 413v1M738 422v1M738 442v2M738 448v5M739 241v2M739 252v2M739 448v5M740 345v3M740 381v1M740 386v1M740 392v1M740 421v1M740 424v2M740 442v3M741 448v2M742 396v2M742 413v1M742 442v2M742 450v3M743 241v2M743 448v5M744 241v2M744 252v2M744 376v4M744 384v1M744 400v2M744 403v1M744 409v1M744 421v1M744 424v2M744 428v1M744 442v2M745 241v2M745 252v2M745 450v3M746 241v2M746 252v2M746 388v2M746 408v3M746 422v2M746 442v2M747 448v5M748 241v2M748 400v2M748 410v1M748 413v1M748 422v1M748 444v1M749 241v2M749 252v2M749 448v2M750 241v2M750 376v4M750 384v2M750 389v1M750 392v1M750 396v1M750 410v1M750 421v2M750 444v1M751 241v2M751 252v2M751 448v2M752 241v2M752 253v1M752 376v2M752 380v2M752 388v2M752 392v1M752 410v1M752 413v1M752 422v2M752 442v3M753 241v2M753 448v5M754 372v2M754 378v4M754 384v1M754 389v3M754 396v2M754 404v2M754 410v1M754 422v1M754 444v1M755 242v1M755 448v5M756 241v3M756 251v4M756 372v2M756 396v1M756 400v2M756 406v2M757 448v5M758 241v2M758 252v2M758 370v2M758 375v1M758 386v2M758 390v7M758 408v2M758 422v2M758 426v2M759 241v2M759 252v2M759 448v2M760 241v2M760 252v2M760 372v2M760 376v4M760 384v1M760 394v3M760 399v3M760 413v1M760 442v3M761 241v2M761 252v2M761 448v5M762 241v2M762 374v1M762 376v2M762 384v1M762 392v1M762 396v2M762 402v2M762 406v2M762 424v2M762 442v3M763 241v2M763 252v2M763 448v2M764 241v2M764 252v2M764 382v2M764 388v2M764 400v2M764 424v2M764 428v1M764 448v2M765 241v2M765 252v2M765 448v5M766 241v2M766 374v2M766 378v6M766 394v4M766 402v2M766 406v2M766 409v1M766 424v4M766 442v2M767 241v2M767 252v2"/><path stroke="#004eff" d="M594 0v261M594 303v5M594 314v1M594 335v3M594 345v5M595 9v5M595 23v1M595 26v4M595 44v7M595 272v3M595 278v1M595 285v5M595 339v5M596 80v4M596 272v3M596 284v3M596 335v3M597 45v4M597 328v3M598 64v3M598 116v7M598 158v7M598 318v6M599 29v7M599 102v4M599 127v14M599 280v3M599 289v3M599 314v2M599 319v1M599 334v3M600 130v2M600 148v7M601 11v5M601 96v4M601 114v3M601 120v1M601 142v7M601 171v3M601 294v1M602 144v6M602 283v6M602 298v3M602 319v3M602 346v8M603 153v4M603 270v3M603 282v4M603 318v3M603 334v2M604 87v3M604 277v2M604 282v1M605 101v7M605 136v7M605 277v3M605 331v6M605 349v3M606 154v6M607 4v5M607 101v1M607 105v2M607 274v3M607 325v1M608 104v7M608 135v1M608 288v5M608 324v2M608 332v3M609 25v5M609 129v1M609 144v7M609 158v7M609 301v2M609 343v2M609 351v3M610 65v7M610 272v3M612 309v1M612 330v3M613 127v7M613 143v5M613 283v6M613 304v3M614 97v7M614 172v2M614 320v2M615 82v1M615 84v5M615 138v7M615 152v5M615 318v3M615 339v3M616 78v3M616 344v2M616 349v1M617 42v3M617 138v11M617 159v7M617 294v3M617 317v1M617 321v2M617 342v3M618 22v5M618 126v3M618 130v2M618 277v5M619 141v7M619 282v1M620 321v2M620 341v6M622 89v7M622 159v7M622 288v6M622 315v3M622 330v12M623 22v7M623 303v3M623 309v3M623 342v3M624 22v5M624 119v1M624 126v7M624 314v3M624 353v1M625 75v7M625 124v5M625 293v3M626 82v7M626 117v6M626 313v3M626 349v3M627 73v7M627 108v7M627 122v7M627 290v3M627 312v6M627 330v2M627 335v1M628 272v5M628 331v1M629 16v3M629 37v7M629 54v4M629 293v2M630 14v4M630 126v3M630 331v3M630 343v3M632 108v7M632 129v7M632 289v2M633 89v7M633 149v4M634 48v3M634 105v3M634 153v7M634 324v2M635 270v5M635 293v2M635 307v3M637 17v4M637 80v7M637 156v1M638 50v6M638 286v5M638 328v2M638 333v7M638 346v2M639 284v6M639 335v3M640 148v7M640 277v3M640 283v2M640 309v6M640 322v3M640 352v2M641 139v7M641 282v3M641 299v7M641 315v2M642 139v5M642 296v3M642 353v1M643 25v7M643 84v3M643 88v7M643 132v3M643 141v3M643 284v1M643 288v2M643 308v1M644 136v9M644 147v11M644 272v3M644 299v3M644 326v9M644 338v3M645 0v7M645 143v4M645 282v3M645 294v6M645 315v6M646 138v2M646 308v2M647 291v12M647 315v3M647 321v6M648 270v16M648 298v6M648 306v18M648 330v4M648 337v17M648 358v22M648 390v2M648 398v2M648 404v6M648 414v5M649 112v7M649 140v7M649 320v5M650 270v1M650 284v8M650 296v58M650 359v2M650 367v1M650 370v1M650 376v1M650 385v1M650 390v4M650 401v1M650 410v2M651 160v2M651 291v5M651 338v4M651 350v4M652 119v19M652 153v1M652 283v2M652 307v2M652 312v1M653 132v4M653 154v2M653 328v6M653 340v2M653 345v1M654 142v7M654 278v1M654 282v2M654 296v8M654 328v4M654 338v1M655 9v7M655 37v2M655 79v14M655 142v5M655 320v6M655 340v4M655 350v2M656 0v2M656 86v14M656 270v4M656 314v5M656 325v1M656 331v3M656 337v6M657 108v7M657 136v7M657 319v3M657 340v3M657 346v3M658 69v3M658 164v2M658 270v8M658 281v15M658 301v2M658 315v29M658 347v4M658 368v1M658 372v9M658 384v8M658 404v1M658 408v2M658 417v1M659 88v7M659 151v2M659 280v1M659 352v1M660 284v4M660 289v1M660 293v2M660 296v4M660 304v4M660 336v4M660 344v3M660 374v1M660 390v3M660 402v3M661 118v7M661 148v5M661 352v2M662 272v8M662 285v5M662 292v8M662 304v4M662 312v4M662 320v4M662 327v23M662 359v3M662 365v6M662 378v5M662 388v4M662 395v6M662 410v6M663 155v2M663 274v2M663 282v1M663 318v4M663 336v1M664 271v4M664 306v3M664 315v4M664 322v2M664 327v1M664 336v7M665 121v7M665 171v1M665 332v9M666 116v7M666 276v4M666 287v3M666 323v3M666 332v3M666 348v4M666 358v4M666 401v6M667 4v7M667 53v7M667 127v2M667 144v3M667 151v4M667 156v2M667 163v2M667 277v2M667 295v2M668 270v4M668 278v4M668 314v4M668 322v4M668 330v12M668 363v3M668 378v3M668 408v2M669 128v7M669 142v3M669 156v4M670 326v2M671 136v3M671 141v2M671 157v2M671 303v3M671 309v3M672 127v5M672 281v6M672 305v6M672 322v4M672 337v3M673 37v7M673 128v2M673 332v3M674 270v11M674 285v8M674 297v5M674 305v49M674 358v4M674 364v9M674 376v3M674 382v2M674 386v4M674 396v1M674 403v3M674 414v1M674 418v2M675 119v1M675 147v7M675 296v9M675 314v6M675 338v3M676 278v1M676 291v11M676 332v4M676 348v3M677 66v3M677 104v7M677 125v13M677 146v4M677 286v1M677 305v5M677 323v3M677 352v2M678 220v2M678 270v30M678 306v7M678 317v1M678 321v3M678 329v4M678 349v5M678 361v1M678 378v1M678 382v12M678 404v2M678 409v1M678 412v6M679 296v1M679 350v1M680 41v4M680 61v7M680 124v7M680 270v2M680 280v4M680 292v4M680 300v4M680 308v13M680 340v4M680 348v6M680 374v2M681 101v7M681 143v3M681 270v1M681 311v2M682 299v4M682 325v2M683 74v7M683 304v3M683 315v1M683 345v4M683 352v2M684 284v3M684 326v3M684 332v3M686 280v4M686 288v4M686 296v15M686 314v10M686 328v4M686 340v14M686 358v3M686 364v3M686 372v1M686 396v1M686 400v2M686 408v1M686 415v1M687 79v2M687 126v2M687 287v6M687 311v4M687 318v5M687 342v3M688 129v1M688 290v3M688 302v4M688 342v12M688 376v1M688 392v3M688 401v3M688 416v2M689 147v2M689 321v5M690 114v6M690 141v6M690 148v5M690 294v1M690 304v2M690 310v4M690 325v5M690 350v4M691 113v1M691 116v4M691 272v5M691 349v1M692 153v1M692 272v12M692 288v12M692 314v2M692 320v12M692 336v18M692 359v6M692 371v3M692 376v1M692 380v2M692 392v3M692 398v3M692 407v3M692 413v3M692 418v2M693 108v7M693 320v3M693 338v3M693 347v3M694 273v6M694 291v3M694 328v4M695 157v2M695 168v2M695 280v2M695 285v1M696 131v1M696 138v7M696 281v4M696 293v7M696 313v20M696 349v4M696 371v3M696 380v2M696 384v5M696 392v2M696 408v2M696 414v2M697 9v7M697 296v3M697 323v3M698 276v3M698 283v4M698 295v5M698 306v4M698 311v16M698 330v3M698 334v1M698 351v3M698 381v1M698 390v3M698 414v3M699 57v3M699 90v6M699 150v2M699 279v2M699 284v1M699 291v2M700 123v7M700 151v2M700 270v21M700 298v3M700 303v7M700 317v12M700 341v4M700 359v3M700 365v1M700 368v6M700 380v3M700 392v3M700 398v3M700 413v3M700 418v1M701 65v1M701 127v7M701 275v3M701 297v2M701 333v6M702 96v5M702 270v4M702 289v9M702 302v3M702 310v8M702 322v4M702 334v8M702 362v9M702 406v1M702 410v3M703 24v7M703 313v1M703 347v2M704 41v7M704 97v7M704 270v2M704 283v4M704 293v3M704 311v4M704 332v7M704 347v4M704 353v1M705 165v3M705 180v3M705 189v9M705 207v3M705 213v3M705 225v3M705 273v6M705 297v9M705 312v6M705 330v1M705 335v7M705 376v5M705 400v4M705 407v3M705 444v1M706 270v16M706 289v30M706 322v10M706 334v20M706 358v7M706 367v7M706 376v6M706 388v2M706 392v2M706 396v1M706 399v5M706 406v2M706 410v1M706 421v1M706 424v5M706 444v1M706 458v1M707 165v3M707 174v3M707 246v9M707 273v3M707 294v6M707 303v3M707 327v4M707 345v3M707 369v3M707 378v3M707 387v3M707 399v5M707 422v7M707 442v2M707 458v1M708 270v15M708 289v31M708 323v9M708 334v20M708 358v7M708 367v5M708 376v6M708 386v4M708 392v2M708 396v1M708 399v1M708 402v2M708 406v4M708 413v1M708 420v1M708 422v2M708 426v3M708 442v2M708 458v1M709 171v3M709 180v9M709 192v6M709 210v6M709 237v6M709 252v3M709 273v9M709 297v3M709 335v4M709 351v3M709 358v2M709 377v4M709 408v2M709 422v1M709 444v1M710 270v16M710 288v31M710 323v9M710 335v19M710 358v7M710 367v7M710 376v2M710 384v2M710 388v2M710 392v5M710 399v5M710 419v1M710 422v6M710 444v1M710 458v1M711 171v3M711 177v3M711 189v9M711 225v3M711 231v6M711 240v3M711 249v3M711 255v3M711 282v3M711 294v12M711 309v3M711 318v1M711 323v1M711 330v1M711 335v1M711 342v3M711 348v6M711 360v3M711 387v3M711 399v5M711 406v2M711 421v2M711 442v3M712 270v16M712 288v31M712 323v8M712 334v20M712 358v7M712 368v6M712 376v6M712 384v6M712 392v5M712 400v3M712 404v2M712 408v2M712 421v3M712 426v3M712 442v3M712 458v1M713 270v15M713 289v30M713 323v8M713 335v19M713 358v6M713 367v7M713 377v5M713 385v4M713 393v4M713 399v4M713 406v4M713 421v8M713 458v1M714 270v15M714 289v30M714 323v8M714 334v20M714 358v7M714 367v3M714 372v2M714 376v8M714 385v5M714 393v4M714 406v2M714 424v5M714 442v2M714 458v1M715 270v15M715 289v30M715 323v9M715 335v19M715 358v6M715 367v6M715 376v6M715 385v5M715 392v5M715 400v4M715 406v4M715 422v7M715 458v1M716 270v15M716 289v30M716 323v8M716 335v19M716 358v6M716 368v6M716 376v2M716 384v8M716 393v1M716 399v3M716 407v3M716 420v1M716 422v7M716 442v2M716 458v1M717 270v9M717 282v3M717 289v17M717 315v4M717 323v4M717 339v15M717 358v6M717 369v3M717 378v3M717 384v5M717 393v4M717 400v3M717 407v3M717 422v7M717 444v1M717 458v1M718 270v15M718 288v32M718 323v9M718 335v19M718 358v7M718 367v11M718 384v4M718 392v5M718 399v4M718 408v2M718 413v1M718 419v1M718 422v2M718 442v3M718 458v1M719 270v15M719 289v30M719 323v9M719 335v19M719 358v6M719 368v5M719 376v6M719 384v6M719 393v4M719 399v5M719 407v3M719 422v7M719 444v1M719 458v1M720 270v12M720 284v2M720 288v31M720 323v9M720 334v14M720 351v3M720 358v7M720 367v5M720 376v2M720 384v4M720 390v4M720 396v1M720 400v1M720 402v2M720 408v3M720 421v7M720 458v1M721 270v15M721 289v17M721 309v10M721 323v8M721 335v19M721 358v6M721 368v1M721 372v2M721 376v6M721 385v4M721 392v5M721 399v4M721 407v3M721 422v7M721 458v1M722 270v15M722 289v30M722 323v8M722 334v20M722 358v6M722 368v6M722 377v1M722 385v3M722 392v4M722 397v1M722 399v3M722 405v1M722 408v2M722 413v1M722 422v4M722 428v1M722 442v2M722 458v1M723 270v9M723 282v3M723 291v3M723 297v9M723 309v10M723 327v3M723 335v4M723 342v9M723 358v6M723 368v6M723 376v4M723 387v2M723 393v3M723 399v3M723 407v3M723 423v3M723 450v3M724 270v15M724 289v31M724 323v8M724 335v19M724 358v7M724 368v4M724 375v1M724 377v13M724 392v5M724 399v1M724 402v2M724 406v4M724 422v2M724 426v2M724 444v1M724 458v1M725 270v6M725 282v2M725 289v26M725 318v1M725 323v8M725 335v7M725 345v3M725 351v3M725 360v5M725 369v3M725 377v5M725 384v3M725 393v4M725 402v1M725 407v1M725 422v7M725 448v2M725 458v1M726 270v16M726 289v30M726 323v9M726 334v20M726 358v7M726 368v6M726 376v6M726 384v4M726 392v2M726 396v1M726 402v2M726 405v5M726 412v1M726 422v7M726 444v1M726 458v1M727 270v3M727 276v9M727 294v6M727 303v12M727 323v1M727 327v4M727 339v3M727 345v3M727 351v3M727 363v1M727 369v4M727 378v4M727 387v3M727 407v3M727 422v1M727 426v3M727 442v2M727 458v1M728 270v15M728 289v30M728 323v8M728 335v19M728 358v7M728 368v2M728 377v4M728 385v4M728 392v5M728 400v2M728 408v2M728 422v7M728 458v1M729 270v6M729 279v6M729 291v28M729 323v1M729 327v3M729 335v10M729 348v6M729 358v2M729 367v7M729 377v4M729 385v5M729 393v3M729 408v2M729 422v7M729 458v1M730 270v15M730 289v31M730 323v9M730 334v20M730 358v7M730 367v3M730 374v1M730 376v6M730 384v4M730 392v5M730 399v5M730 406v4M730 419v2M730 422v6M730 444v1M730 458v1M731 270v6M731 279v3M731 289v2M731 294v6M731 303v9M731 324v7M731 336v6M731 345v3M731 358v6M731 368v5M731 385v4M731 393v3M731 400v3M731 406v4M731 422v7M732 270v15M732 289v31M732 323v9M732 335v19M732 358v7M732 368v2M732 372v2M732 376v4M732 384v4M732 393v1M732 400v2M732 406v4M732 422v7M732 442v2M732 458v1M733 270v12M733 289v5M733 297v22M733 323v8M733 334v20M733 358v6M733 367v7M733 377v4M733 384v6M733 393v4M733 400v3M733 406v4M733 422v1M733 426v3M733 442v2M733 458v1M734 270v15M734 289v30M734 323v8M734 334v20M734 358v6M734 367v7M734 376v6M734 384v4M734 394v3M734 400v4M734 406v4M734 422v7M734 442v3M734 458v1M735 270v15M735 289v30M735 323v9M735 334v20M735 358v7M735 367v6M735 376v6M735 384v6M735 392v5M735 399v4M735 406v4M735 421v8M735 442v3M735 458v1M736 270v15M736 289v30M736 323v9M736 335v19M736 358v6M736 367v7M736 377v7M736 385v5M736 394v2M736 398v1M736 400v2M736 406v2M736 421v7M736 442v3M736 458v1M737 270v14M737 289v30M737 323v8M737 334v17M737 358v2M737 363v1M737 367v5M737 376v5M737 386v4M737 392v5M737 399v4M737 407v3M737 422v7M737 442v2M737 458v1M738 270v16M738 289v31M738 323v9M738 335v19M738 358v7M738 367v7M738 375v1M738 377v1M738 380v2M738 384v4M738 392v2M738 396v1M738 399v5M738 406v4M738 411v2M738 426v3M738 444v1M738 458v1M739 270v15M739 289v30M739 323v8M739 335v7M739 348v6M739 358v6M739 369v5M739 378v3M739 384v6M739 393v4M739 399v4M739 407v1M739 422v7M739 444v1M739 458v1M740 270v16M740 288v31M740 322v10M740 334v11M740 348v6M740 358v7M740 367v7M740 375v1M740 384v2M740 387v3M740 394v3M740 399v5M740 406v5M740 413v1M740 420v1M740 422v2M740 426v3M740 458v1M741 270v15M741 289v30M741 323v9M741 335v19M741 358v7M741 368v6M741 376v6M741 384v5M741 392v5M741 399v5M741 407v3M741 421v8M741 450v3M741 458v1M742 270v15M742 289v31M742 323v9M742 334v20M742 358v7M742 367v7M742 375v3M742 380v2M742 384v6M742 392v2M742 399v5M742 406v4M742 421v7M742 444v1M742 458v1M743 270v15M743 289v30M743 323v9M743 334v20M743 358v7M743 367v7M743 376v5M743 384v5M743 392v5M743 399v4M743 406v4M743 422v7M743 458v1M744 270v15M744 289v30M744 323v9M744 334v20M744 358v7M744 367v6M744 380v4M744 388v2M744 392v5M744 399v1M744 407v1M744 420v1M744 422v2M744 426v2M744 444v1M744 458v1M745 270v12M745 289v30M745 324v6M745 334v2M745 339v15M745 358v2M745 363v1M745 369v3M745 376v5M745 385v5M745 393v3M745 400v3M745 407v1M745 423v6M745 442v2M745 458v1M746 270v15M746 289v30M746 323v8M746 335v19M746 358v7M746 367v7M746 376v2M746 380v1M746 385v3M746 393v4M746 399v5M746 406v2M746 424v5M746 444v1M746 458v1M747 270v15M747 288v31M747 323v8M747 334v20M747 358v7M747 368v6M747 377v5M747 385v4M747 392v5M747 400v4M747 406v5M747 413v1M747 422v7M747 458v1M748 270v15M748 288v31M748 322v9M748 334v20M748 358v7M748 368v6M748 376v6M748 384v6M748 392v5M748 402v2M748 407v3M748 419v1M748 424v5M748 442v2M748 458v1M749 270v15M749 289v30M749 323v7M749 335v19M749 358v6M749 368v6M749 376v6M749 385v4M749 393v3M749 399v5M749 407v3M749 422v4M749 450v3M749 458v1M750 270v15M750 289v30M750 323v9M750 335v19M750 358v7M750 367v6M750 380v2M750 386v2M750 394v2M750 397v1M750 399v4M750 406v4M750 413v1M750 420v1M750 424v2M750 428v1M750 442v2M750 458v1M751 270v12M751 289v23M751 318v1M751 323v8M751 335v19M751 360v3M751 368v6M751 378v3M751 385v4M751 394v1M751 399v4M751 407v2M751 422v7M751 442v2M751 458v1M752 270v15M752 290v29M752 323v8M752 335v19M752 358v7M752 368v5M752 374v2M752 378v2M752 384v4M752 396v1M752 399v4M752 406v4M752 424v5M752 458v1M753 270v15M753 289v30M753 323v7M753 335v19M753 358v6M753 368v5M753 376v5M753 384v6M753 393v4M753 399v5M753 406v4M753 422v7M753 444v1M754 270v15M754 289v31M754 322v9M754 334v20M754 358v7M754 367v5M754 376v2M754 386v2M754 392v4M754 399v3M754 406v4M754 428v1M754 442v2M754 458v1M755 270v15M755 289v30M755 323v8M755 334v20M755 358v6M755 368v6M755 377v5M755 385v5M755 392v5M755 399v4M755 406v4M755 421v8M755 442v3M755 458v1M756 270v6M756 290v1M756 294v6M756 309v6M756 324v3M756 335v4M756 342v9M756 358v2M756 363v1M756 368v4M756 378v3M756 385v2M756 393v3M756 397v1M756 408v2M756 413v1M756 423v6M756 442v3M757 270v16M757 288v32M757 322v10M757 334v20M757 358v7M757 367v7M757 376v6M757 384v13M757 399v5M757 406v4M757 421v8M757 442v3M757 458v1M758 270v12M758 289v5M758 303v12M758 318v1M758 323v1M758 330v1M758 335v10M758 348v6M758 358v6M758 374v1M758 376v2M758 385v1M758 388v1M758 397v1M758 402v1M758 407v1M758 410v1M758 424v2M758 428v1M758 442v3M759 270v15M759 291v28M759 323v8M759 335v4M759 345v3M759 351v3M759 358v2M759 363v1M759 368v6M759 378v4M759 384v3M759 393v3M759 402v1M759 407v1M759 422v7M759 442v3M759 458v1M760 270v15M760 289v30M760 323v9M760 335v19M760 358v7M760 368v4M760 380v1M760 386v3M760 390v2M760 393v1M760 397v2M760 402v2M760 406v2M760 410v1M760 412v1M760 419v1M760 422v7M760 458v1M761 270v6M761 289v2M761 297v6M761 312v7M761 323v8M761 335v10M761 351v3M761 358v2M761 363v1M761 377v5M761 387v2M761 400v3M761 406v4M761 422v7M761 458v1M762 270v15M762 289v30M762 323v9M762 335v19M762 358v6M762 367v7M762 375v1M762 380v4M762 388v4M762 399v1M762 404v2M762 408v3M762 422v2M762 426v3M762 458v1M763 273v6M763 289v8M763 303v3M763 312v6M763 324v3M763 335v1M763 339v6M763 348v6M763 358v6M763 368v1M763 377v4M763 387v3M763 393v3M763 400v3M763 423v3M763 442v3M763 450v3M764 270v16M764 289v30M764 323v8M764 334v20M764 358v7M764 367v5M764 376v6M764 384v4M764 392v5M764 399v1M764 402v2M764 406v4M764 419v1M764 421v3M764 426v2M764 442v3M764 458v1M765 273v3M765 290v1M765 297v15M765 315v3M765 323v8M765 335v4M765 342v12M765 358v2M765 363v1M765 368v1M765 372v1M765 377v1M765 385v4M765 402v1M765 407v3M765 422v1M765 426v3M765 442v3M766 270v15M766 289v30M766 323v8M766 335v19M766 358v7M766 367v7M766 376v2M766 384v6M766 392v2M766 399v3M766 419v1M766 422v2M766 428v1M766 444v1M766 458v1M767 270v3M767 282v3M767 291v3M767 300v15M767 323v8M767 335v4M767 342v6M767 351v3M767 358v6M767 368v1M767 376v2M767 387v3M767 400v2M767 408v2M767 422v1M767 442v3M767 448v2"/><path stroke="#007aff" d="M594 294v4M594 321v6M595 24v2M595 170v7M595 184v2M595 189v9M595 205v14M595 275v3M595 293v4M595 313v4M595 321v8M595 353v1M595 375v3M596 84v3M596 157v6M596 186v3M596 299v6M597 35v1M597 289v3M597 295v4M597 325v3M598 35v4M598 335v1M598 337v3M599 278v2M599 316v3M599 332v2M599 350v4M600 155v21M600 272v2M600 336v4M601 30v5M601 149v1M601 163v5M601 170v1M601 174v3M601 219v7M601 289v5M601 306v3M601 321v4M602 150v1M602 256v5M602 295v3M602 343v3M603 227v14M603 280v2M603 316v2M603 327v4M604 90v4M604 248v7M604 333v4M605 39v6M605 280v3M605 352v2M608 132v3M608 136v3M608 195v7M608 296v3M608 302v4M608 326v3M608 335v1M609 6v5M609 186v3M609 207v10M609 298v3M609 306v4M609 314v8M609 339v1M610 100v7M610 177v1M610 247v2M610 252v2M610 270v2M610 275v1M610 277v4M610 325v4M611 33v1M611 74v1M611 110v7M611 166v7M611 195v6M611 279v3M611 302v8M611 321v6M611 346v8M612 303v6M613 246v7M613 274v3M613 301v3M614 213v3M614 317v3M615 157v2M615 250v7M615 315v3M616 242v7M616 270v1M616 295v4M616 307v8M617 149v3M617 180v3M617 194v7M617 210v5M617 287v4M617 323v3M617 341v1M618 48v2M618 192v3M618 282v1M619 0v1M619 232v7M619 271v5M619 311v4M620 145v12M620 207v2M620 256v2M620 339v2M621 38v5M621 127v7M621 170v6M622 281v4M622 318v3M622 353v1M623 127v7M623 148v7M623 276v6M623 312v3M623 319v4M624 120v6M624 311v3M625 12v7M625 129v2M625 152v3M625 173v7M625 236v7M625 255v6M625 278v3M625 298v4M626 42v5M626 123v1M626 179v1M626 257v4M626 304v3M626 352v2M627 284v6M627 296v4M628 169v5M628 252v3M628 258v2M628 271v1M628 295v4M629 156v6M629 289v1M630 129v4M630 330v1M630 334v2M631 153v6M631 174v7M632 291v4M633 138v7M633 153v6M633 187v7M633 208v1M633 278v3M634 52v3M634 104v1M634 108v3M634 146v7M634 216v7M634 312v2M634 326v4M635 38v1M635 143v7M635 165v2M635 171v3M635 305v2M636 18v2M636 300v4M636 340v3M637 0v3M637 21v3M637 192v3M637 310v3M638 112v7M638 168v2M638 291v1M638 330v3M639 145v2M639 241v2M640 57v7M640 169v7M640 260v1M640 273v1M640 320v2M641 146v3M641 150v1M641 289v4M642 144v2M642 338v3M643 130v2M643 135v2M643 151v7M643 272v1M643 276v2M643 306v2M643 309v5M644 145v2M644 158v6M644 296v3M644 335v3M644 341v3M645 126v7M645 154v2M645 172v3M645 231v4M645 279v3M645 306v3M646 270v3M646 301v4M646 313v1M646 337v4M647 112v7M647 140v6M647 213v3M648 208v5M648 286v3M648 294v4M648 328v2M648 382v6M648 394v4M648 410v2M648 419v1M649 216v1M649 305v4M649 331v1M650 277v3M650 371v1M650 377v3M650 398v3M650 418v2M651 118v7M651 153v6M651 162v5M651 282v4M651 298v4M651 342v2M652 138v2M652 154v6M652 176v6M652 273v4M652 289v4M652 297v8M652 337v4M652 345v8M652 390v3M653 125v7M653 136v3M653 156v4M654 288v8M654 304v4M654 316v4M654 348v4M654 381v3M654 390v2M654 396v3M654 406v2M655 147v2M655 156v7M655 234v2M655 338v2M655 352v2M656 149v6M656 156v7M656 169v1M656 249v3M656 283v7M656 306v4M656 322v3M656 349v3M656 360v3M656 393v3M657 157v11M657 255v6M657 310v9M657 343v3M657 349v3M658 38v1M658 166v5M658 248v7M658 358v2M658 364v2M658 369v1M658 381v3M658 394v2M658 398v4M658 405v3M658 414v3M659 144v7M659 153v5M659 235v2M659 270v2M659 281v3M659 353v1M660 151v7M660 270v2M660 280v4M660 288v1M660 300v4M660 328v8M660 340v3M660 347v2M660 358v2M660 375v3M660 410v4M661 246v5M661 349v3M662 126v7M662 177v2M662 180v1M662 270v2M662 280v5M662 290v2M662 300v4M662 308v4M662 316v4M662 324v2M662 350v1M662 358v1M662 362v3M662 371v5M662 383v3M662 392v3M662 404v6M663 143v7M663 164v1M663 189v3M663 241v2M663 270v4M663 283v3M663 333v3M664 275v4M664 287v4M664 303v3M664 311v4M664 324v3M664 328v3M664 343v4M664 360v3M664 366v3M664 384v2M664 390v3M664 399v3M664 411v3M665 163v2M665 170v1M665 172v5M665 195v3M665 226v7M665 317v3M666 210v4M666 280v4M666 293v3M666 312v11M666 336v4M666 380v2M666 392v3M666 419v1M667 33v6M667 147v4M667 155v1M667 282v1M668 274v4M668 282v16M668 306v8M668 318v4M668 342v4M668 350v4M668 358v5M668 369v3M668 402v2M669 145v4M669 160v3M670 117v7M670 159v7M670 289v4M670 313v4M670 321v5M670 409v1M671 139v2M671 150v3M671 159v5M671 189v3M671 273v4M672 0v1M672 132v2M672 162v6M672 274v4M672 294v4M672 318v4M672 326v4M672 334v1M672 368v3M672 394v1M672 398v3M672 414v2M673 130v5M673 222v4M673 304v8M674 157v5M674 302v3M674 373v3M674 379v1M674 392v2M674 397v6M674 406v6M675 9v5M675 120v6M675 208v2M675 224v1M675 228v3M675 259v2M675 270v2M675 323v3M675 341v3M675 353v1M676 179v7M676 228v3M676 233v2M676 276v2M676 302v2M676 340v4M676 397v3M676 412v3M677 62v4M677 138v1M677 150v3M677 181v2M677 287v3M678 313v4M678 318v3M678 325v4M678 336v13M678 358v3M678 364v6M678 372v4M678 379v3M678 398v4M678 406v3M678 418v2M679 127v7M679 162v14M680 40v1M680 45v2M680 166v4M680 171v1M680 194v3M680 272v4M680 288v4M680 324v4M680 336v4M680 380v6M680 392v3M680 414v2M681 60v6M681 122v7M681 146v4M681 234v7M681 318v4M682 222v3M682 291v8M682 303v4M682 319v2M682 322v3M682 335v4M682 351v3M682 389v3M682 408v2M683 137v1M683 151v2M684 274v4M684 287v2M684 290v4M684 306v4M684 349v1M685 296v6M686 166v2M686 173v7M686 270v10M686 284v4M686 292v4M686 311v3M686 324v4M686 332v8M686 361v3M686 367v1M686 382v9M686 397v1M686 409v6M686 418v2M687 184v7M687 233v1M688 270v4M688 284v3M688 294v8M688 306v4M688 314v4M688 326v3M688 330v6M688 362v3M688 377v3M688 383v3M688 400v1M688 404v3M689 156v1M689 159v1M689 184v7M689 212v1M689 290v1M689 294v2M690 113v1M690 147v1M690 153v9M690 270v4M690 282v12M690 298v3M690 306v4M690 318v4M690 334v4M690 359v3M690 371v3M690 386v3M691 211v4M691 225v14M691 313v4M691 350v3M692 154v6M692 270v2M692 284v4M692 300v4M692 332v4M692 358v1M692 365v6M692 377v3M692 384v8M692 395v3M692 401v1M692 406v1M692 412v1M693 178v7M693 278v3M693 292v4M693 312v4M693 323v3M693 344v3M694 188v7M694 282v3M694 294v3M694 304v4M694 316v8M694 340v4M694 383v1M694 404v3M694 413v1M694 416v3M695 159v5M695 170v1M695 201v5M696 201v7M696 229v7M696 270v11M696 285v8M696 300v13M696 333v16M696 353v1M696 359v3M696 376v1M696 389v3M696 396v4M696 418v2M697 5v4M697 177v7M697 191v7M698 270v4M698 280v3M698 291v4M698 310v1M698 335v16M698 362v1M698 369v6M698 394v2M698 408v3M699 159v7M699 173v7M699 210v5M699 296v1M700 53v7M700 153v5M700 291v6M700 301v2M700 315v2M700 329v12M700 345v1M700 349v3M700 358v1M700 362v3M700 376v4M700 389v3M700 404v9M701 22v4M701 176v1M701 190v5M701 253v7M702 6v4M702 143v7M702 199v7M702 248v6M702 274v15M702 307v3M702 326v8M702 342v8M702 358v1M702 377v3M702 386v3M702 395v1M702 398v3M702 416v2M703 157v7M703 206v14M703 255v6M703 295v1M703 343v1M704 153v6M704 216v7M704 275v8M704 287v6M704 296v3M704 315v4M704 351v2M704 360v1M704 367v6M704 398v5M705 331v1M705 334v1M705 375v1M705 393v3M705 399v1M705 404v3M705 410v1M705 413v1M705 442v2M706 288v1M706 319v1M706 332v2M706 365v2M706 374v2M706 382v2M706 390v2M706 397v2M706 412v1M706 420v1M707 285v1M707 331v1M707 390v3M707 404v1M707 421v1M708 285v1M708 288v1M708 322v1M708 332v2M708 365v2M708 374v2M708 382v2M708 397v2M708 404v2M708 410v1M709 334v1M709 375v2M709 381v6M709 390v3M709 410v1M709 421v1M709 442v2M710 319v1M710 322v1M710 332v1M710 334v1M710 365v2M710 374v2M710 397v2M710 404v2M710 411v2M710 421v1M710 453v3M711 174v3M711 237v3M711 252v3M711 319v1M711 322v1M711 331v1M711 334v1M711 404v2M712 319v1M712 322v1M712 331v1M712 333v1M712 365v3M712 374v2M712 382v2M712 390v2M712 397v1M712 403v1M712 411v2M712 420v1M712 453v3M713 285v1M713 288v1M713 319v1M713 322v1M713 331v1M713 334v1M713 364v1M713 366v1M713 374v3M713 382v3M713 389v4M713 397v2M713 403v3M713 410v1M713 413v1M713 442v3M714 285v1M714 288v1M714 319v1M714 322v1M714 331v1M714 333v1M714 365v2M714 374v2M714 384v1M714 390v3M714 397v3M714 404v2M714 410v1M714 413v1M714 421v1M715 285v1M715 288v1M715 319v1M715 322v1M715 332v1M715 334v1M715 364v3M715 373v3M715 382v3M715 390v2M715 397v3M715 404v2M715 410v1M715 413v1M715 421v1M715 442v3M716 285v1M716 288v1M716 319v1M716 322v1M716 331v1M716 334v1M716 364v1M716 366v2M716 374v2M716 382v2M716 392v1M716 396v3M716 404v3M716 410v1M716 413v1M717 279v3M717 285v1M717 288v1M717 306v9M717 319v1M717 322v1M717 327v5M717 334v5M717 364v1M717 367v2M717 372v6M717 381v1M717 389v4M717 397v3M717 403v4M717 410v1M717 413v1M717 421v1M717 442v2M718 285v1M718 322v1M718 334v1M718 365v2M718 382v2M718 390v2M718 397v2M718 403v3M718 410v1M718 421v1M719 285v1M719 288v1M719 319v1M719 322v1M719 334v1M719 364v2M719 367v1M719 373v3M719 382v2M719 390v3M719 397v2M719 404v1M719 406v1M719 410v1M719 413v1M719 421v1M719 442v2M720 319v1M720 322v1M720 333v1M720 365v2M720 374v2M720 382v2M720 397v1M720 404v2M720 413v1M720 419v2M720 456v2M721 285v1M721 288v1M721 306v3M721 319v1M721 322v1M721 331v1M721 334v1M721 364v1M721 367v1M721 369v3M721 374v2M721 382v3M721 389v3M721 397v2M721 403v4M721 410v1M721 413v1M721 421v1M721 442v3M722 285v1M722 288v1M722 319v1M722 322v1M722 331v1M722 333v1M722 364v1M722 367v1M722 374v3M722 382v3M722 390v2M722 398v1M722 410v1M722 412v1M722 420v1M722 453v3M723 279v3M723 285v1M723 288v3M723 294v3M723 306v3M723 319v1M723 322v5M723 330v2M723 334v1M723 339v3M723 351v3M723 364v1M723 366v2M723 374v2M723 380v2M723 384v3M723 389v4M723 396v3M723 402v2M723 405v2M723 410v1M723 413v1M723 421v2M723 426v3M723 442v3M723 458v1M724 285v1M724 288v1M724 322v1M724 331v1M724 334v1M724 365v3M724 376v1M724 390v2M724 397v2M724 404v2M724 411v1M724 413v1M724 421v1M724 456v2M725 276v6M725 284v2M725 288v1M725 315v3M725 319v1M725 322v1M725 331v1M725 334v1M725 342v3M725 348v3M725 358v2M725 365v1M725 367v2M725 372v5M725 382v2M725 387v6M725 397v5M725 403v4M725 408v3M725 413v1M725 421v1M725 442v3M726 288v1M726 319v1M726 322v1M726 332v2M726 365v1M726 367v1M726 374v2M726 382v2M726 390v2M726 397v1M726 410v1M726 421v1M727 273v3M727 285v1M727 288v6M727 300v3M727 315v5M727 322v1M727 324v3M727 331v1M727 334v5M727 342v3M727 348v3M727 358v5M727 364v1M727 367v2M727 373v2M727 376v2M727 382v5M727 390v14M727 405v2M727 410v1M727 413v1M727 421v1M727 423v3M727 444v1M728 285v1M728 288v1M728 319v1M728 322v1M728 331v1M728 334v1M728 365v1M728 367v1M728 374v3M728 381v4M728 389v3M728 397v3M728 404v2M728 410v1M728 413v1M728 421v1M729 276v3M729 285v1M729 288v3M729 319v1M729 322v1M729 324v3M729 330v2M729 334v1M729 345v3M729 360v5M729 366v1M729 374v3M729 381v1M729 384v1M729 390v3M729 396v8M729 406v2M729 410v1M729 413v1M729 421v1M729 442v3M730 285v1M730 288v1M730 322v1M730 333v1M730 365v2M730 375v1M730 382v2M730 390v2M730 397v2M730 410v1M730 413v1M731 276v3M731 282v4M731 288v1M731 291v3M731 300v3M731 312v8M731 322v2M731 331v1M731 334v2M731 342v3M731 348v6M731 364v2M731 367v1M731 373v12M731 389v4M731 396v4M731 403v1M731 405v1M731 410v1M731 413v1M731 421v1M731 442v3M731 458v1M732 285v1M732 288v1M732 322v1M732 334v1M732 365v3M732 382v2M732 390v3M732 396v4M732 404v2M732 410v1M732 413v1M732 421v1M733 282v4M733 288v1M733 294v3M733 319v1M733 322v1M733 331v1M733 333v1M733 364v1M733 366v1M733 374v3M733 381v3M733 390v3M733 397v3M733 403v3M733 410v1M733 413v1M733 421v1M733 423v3M733 444v1M734 285v1M734 288v1M734 319v1M734 322v1M734 331v1M734 333v1M734 364v1M734 366v1M734 390v2M734 397v1M734 404v2M734 411v1M734 413v1M734 421v1M735 285v1M735 288v1M735 319v1M735 322v1M735 332v2M735 365v2M735 373v3M735 382v2M735 390v2M735 397v2M735 403v3M735 410v1M735 413v1M736 285v1M736 288v1M736 319v1M736 322v1M736 332v1M736 334v1M736 364v1M736 366v1M736 374v3M736 384v1M736 390v2M736 396v2M736 404v2M736 411v1M736 413v1M736 456v2M737 284v2M737 288v1M737 319v1M737 322v1M737 331v1M737 333v1M737 351v3M737 360v3M737 364v3M737 372v4M737 381v5M737 390v2M737 397v2M737 403v4M737 410v1M737 413v1M737 421v1M737 444v1M738 288v1M738 322v1M738 332v1M738 334v1M738 365v2M738 376v1M738 382v2M738 390v2M738 397v2M738 404v2M738 421v1M739 285v1M739 288v1M739 319v1M739 322v1M739 331v1M739 334v1M739 342v6M739 364v1M739 367v2M739 374v4M739 381v3M739 390v3M739 397v2M739 403v4M739 408v3M739 413v1M739 421v1M739 442v2M740 319v1M740 332v2M740 365v2M740 374v1M740 382v2M740 390v2M740 397v2M740 404v2M741 285v1M741 288v1M741 319v1M741 322v1M741 332v1M741 334v1M741 365v1M741 367v1M741 374v2M741 382v2M741 389v3M741 397v2M741 404v3M741 410v1M741 413v1M741 442v3M742 285v1M742 288v1M742 322v1M742 332v2M742 365v2M742 374v1M742 382v2M742 390v2M742 398v1M742 404v2M742 410v1M742 412v1M742 456v2M743 285v1M743 288v1M743 319v1M743 322v1M743 332v1M743 365v2M743 374v2M743 381v3M743 389v3M743 397v2M743 403v3M743 410v1M743 413v1M743 421v1M743 442v3M744 285v1M744 288v1M744 319v1M744 322v1M744 332v2M744 365v2M744 373v3M744 390v2M744 397v2M744 404v3M744 410v1M744 413v1M745 282v4M745 288v1M745 319v1M745 322v2M745 330v2M745 336v3M745 360v3M745 364v1M745 367v2M745 372v4M745 381v4M745 390v3M745 396v4M745 403v4M745 408v3M745 413v1M745 421v2M745 444v1M746 285v1M746 288v1M746 319v1M746 322v1M746 331v1M746 334v1M746 365v2M746 374v2M746 381v4M746 390v3M746 397v2M746 404v2M746 411v1M746 413v1M746 421v1M747 285v1M747 319v1M747 322v1M747 331v1M747 333v1M747 365v1M747 367v1M747 374v3M747 382v3M747 389v3M747 397v3M747 404v2M747 421v1M747 442v3M748 285v1M748 319v1M748 331v1M748 333v1M748 365v1M748 367v1M748 374v2M748 382v2M748 390v2M748 397v3M748 404v3M748 411v2M748 421v1M749 285v1M749 288v1M749 319v1M749 322v1M749 330v2M749 334v1M749 364v1M749 367v1M749 374v2M749 382v3M749 389v4M749 396v3M749 404v3M749 410v1M749 413v1M749 421v1M749 426v3M749 442v3M750 285v1M750 288v1M750 319v1M750 322v1M750 332v1M750 334v1M750 365v2M750 373v3M750 382v2M750 390v2M750 398v1M750 403v3M750 411v2M750 456v2M751 282v4M751 288v1M751 312v6M751 319v1M751 322v1M751 331v1M751 334v1M751 358v2M751 363v2M751 367v1M751 374v4M751 381v1M751 384v1M751 389v5M751 395v4M751 403v2M751 406v1M751 409v2M751 413v1M751 421v1M751 444v1M752 285v1M752 288v2M752 319v1M752 322v1M752 331v1M752 334v1M752 365v1M752 367v1M752 373v1M752 390v2M752 397v2M752 403v3M752 411v2M752 421v1M752 453v3M753 285v1M753 288v1M753 319v1M753 322v1M753 330v2M753 334v1M753 364v1M753 366v2M753 373v3M753 381v3M753 390v3M753 397v2M753 404v2M753 410v1M753 413v1M753 421v1M753 442v2M753 458v1M754 285v1M754 288v1M754 331v1M754 333v1M754 365v2M754 374v2M754 382v2M754 398v1M754 411v1M754 413v1M754 421v1M754 456v2M755 285v1M755 288v1M755 319v1M755 322v1M755 331v1M755 333v1M755 364v2M755 367v1M755 374v3M755 382v3M755 390v2M755 397v2M755 403v3M755 410v1M755 413v1M756 276v10M756 288v2M756 291v3M756 300v9M756 315v5M756 322v2M756 327v5M756 334v1M756 339v3M756 351v3M756 360v3M756 364v1M756 367v1M756 374v4M756 381v4M756 387v3M756 392v1M756 398v2M756 402v2M756 410v1M756 412v1M756 419v1M756 421v2M756 458v1M757 333v1M757 365v2M757 374v2M757 382v2M757 397v2M757 404v2M757 410v1M757 413v1M757 419v2M758 282v4M758 288v1M758 294v9M758 315v3M758 319v1M758 322v1M758 324v6M758 331v1M758 334v1M758 345v3M758 364v1M758 367v3M758 372v2M758 378v4M758 384v1M758 389v1M758 398v4M758 403v4M758 411v1M758 413v1M758 421v1M758 458v1M759 285v1M759 288v3M759 319v1M759 322v1M759 331v1M759 334v1M759 339v6M759 348v3M759 360v3M759 364v1M759 367v1M759 374v4M759 382v2M759 387v6M759 396v6M759 403v2M759 406v1M759 408v3M759 413v1M759 421v1M760 285v1M760 288v1M760 319v1M760 322v1M760 334v1M760 365v3M760 374v2M760 381v3M760 389v1M760 392v1M760 404v2M760 421v1M761 276v10M761 288v1M761 291v6M761 303v9M761 319v1M761 322v1M761 331v1M761 334v1M761 345v6M761 360v3M761 364v2M761 367v10M761 382v5M761 389v11M761 403v1M761 405v1M761 410v1M761 413v1M761 421v1M761 442v3M762 285v1M762 288v1M762 319v1M762 322v1M762 332v1M762 334v1M762 364v1M762 366v1M762 398v1M762 411v1M762 413v1M762 421v1M763 270v3M763 279v7M763 288v1M763 297v6M763 306v6M763 318v2M763 322v2M763 327v5M763 334v1M763 336v3M763 345v3M763 364v1M763 366v2M763 369v8M763 381v6M763 390v3M763 396v4M763 403v2M763 406v5M763 413v1M763 421v2M763 426v3M763 458v1M764 288v1M764 319v1M764 322v1M764 331v1M764 333v1M764 365v2M764 374v2M764 390v2M764 397v2M764 404v2M764 410v1M764 413v1M764 420v1M765 270v3M765 276v10M765 288v2M765 291v6M765 312v3M765 318v2M765 322v1M765 331v1M765 334v1M765 339v3M765 360v3M765 364v1M765 367v1M765 369v3M765 373v4M765 378v4M765 384v1M765 389v13M765 403v4M765 410v1M765 413v1M765 421v1M765 423v3M765 458v1M766 285v1M766 288v1M766 319v1M766 322v1M766 331v1M766 334v1M766 365v2M766 390v2M766 398v1M766 404v2M766 410v1M766 413v1M766 421v1M767 273v9M767 285v1M767 288v3M767 294v6M767 315v5M767 322v1M767 331v1M767 334v1M767 339v3M767 348v3M767 364v1M767 367v1M767 369v7M767 378v9M767 390v10M767 402v2M767 406v2M767 410v1M767 413v1M767 421v1M767 423v6M767 458v1"/><path stroke="#00a6ff" d="M594 274v8M594 362v3M594 372v1M594 376v1M594 386v2M594 391v1M594 407v3M595 0v2M595 16v6M595 156v7M595 186v3M595 291v2M595 297v4M595 309v4M595 393v3M595 414v3M596 163v1M596 178v2M596 185v1M596 189v3M596 305v1M596 342v8M597 10v3M597 36v4M597 182v1M597 287v2M597 311v4M597 323v2M597 414v3M598 270v1M598 295v8M598 307v8M598 374v3M599 22v7M599 66v3M599 218v7M599 232v7M599 253v8M599 310v4M599 330v2M600 231v1M600 276v4M601 9v2M601 35v1M601 42v1M601 150v6M601 168v2M601 191v7M601 297v4M601 341v4M601 349v5M601 363v3M602 200v7M602 315v4M603 10v7M603 164v7M603 295v8M603 404v1M604 273v4M604 293v4M604 390v1M604 418v2M605 27v3M605 38v1M605 178v1M605 180v5M605 283v4M605 307v4M606 174v7M606 312v4M606 320v4M606 348v4M607 2v2M607 297v4M607 305v4M607 333v4M607 345v4M607 361v1M608 209v1M608 251v10M608 338v4M608 366v1M608 392v2M608 404v2M609 165v7M609 189v4M609 242v7M609 294v3M609 310v4M609 404v1M610 170v7M610 178v13M610 219v7M610 240v7M610 249v3M610 333v4M610 365v1M610 386v2M610 395v3M611 58v1M611 194v1M611 201v7M611 243v7M611 270v4M611 290v4M611 334v4M611 366v3M612 271v4M612 347v4M613 39v3M613 169v3M614 209v4M614 305v4M614 313v3M614 345v4M615 11v3M615 159v7M615 284v4M615 300v4M616 237v5M616 299v4M616 351v3M616 378v2M616 414v3M617 7v3M617 55v3M617 68v2M617 166v7M617 183v4M617 204v3M617 208v2M617 250v7M617 274v4M617 326v8M617 358v3M617 370v3M617 388v3M617 409v3M618 188v4M618 195v14M618 270v3M618 337v4M619 6v3M619 24v3M619 30v3M619 45v3M619 169v3M619 183v9M619 225v7M619 276v3M619 299v4M619 331v4M620 157v1M620 258v3M620 303v4M620 315v2M621 0v3M621 6v3M621 18v3M621 155v4M621 277v4M621 285v4M621 313v8M621 353v1M622 297v4M622 305v4M622 321v8M622 374v2M623 0v3M623 204v7M623 315v4M623 361v1M624 161v7M624 175v4M624 180v2M625 70v1M625 155v4M625 187v7M625 250v5M625 297v1M625 334v4M625 346v8M625 371v3M625 402v2M626 152v7M626 187v1M626 192v2M626 243v7M627 4v5M627 12v5M627 54v6M627 157v7M627 213v7M627 234v7M627 270v1M628 174v2M628 246v6M628 255v3M628 277v2M628 291v4M628 311v4M628 327v4M629 19v7M629 162v1M630 161v2M630 165v1M630 175v7M630 293v4M630 329v1M630 353v1M630 367v3M631 26v2M631 46v3M631 159v6M631 209v7M631 349v4M632 220v7M632 282v4M633 215v7M633 252v3M633 270v2M633 281v7M633 300v4M633 312v4M633 344v4M634 275v8M634 335v4M634 409v3M635 39v9M635 56v2M635 164v1M635 167v4M635 174v4M635 234v7M635 311v1M636 186v3M636 304v4M637 3v7M637 164v10M637 177v1M637 195v4M637 227v7M637 341v4M637 418v2M638 170v5M638 284v2M639 28v6M639 147v5M639 228v1M639 236v5M639 255v2M639 327v4M640 204v14M640 296v4M640 315v1M640 358v1M640 368v2M641 149v1M641 151v2M641 160v1M641 195v7M641 216v3M641 220v3M641 237v7M641 258v3M641 287v2M641 297v2M641 329v4M642 181v7M642 279v8M642 302v1M642 382v3M642 415v1M643 158v7M643 186v7M643 242v7M643 302v4M643 322v4M643 370v1M644 199v7M644 255v6M644 345v4M645 39v3M645 156v12M645 196v7M645 270v7M645 333v4M646 281v4M646 321v8M646 368v3M646 374v3M647 63v1M647 146v1M647 154v4M647 196v7M647 210v3M647 216v8M647 231v7M647 337v4M647 349v4M647 378v2M649 11v1M649 15v4M649 27v3M649 33v2M649 203v13M649 231v7M649 259v2M649 332v1M651 27v3M651 33v1M651 48v2M651 159v1M651 167v5M651 174v7M651 286v4M651 296v2M651 366v2M651 374v1M651 384v3M651 405v3M651 414v3M652 160v1M652 270v3M652 325v8M652 341v4M652 413v1M653 0v1M653 4v4M653 146v7M653 174v7M654 163v1M654 205v7M654 272v4M654 312v4M654 320v4M654 332v4M654 344v4M654 366v3M654 386v1M655 233v1M655 247v7M656 155v1M656 170v5M656 247v2M656 252v2M656 294v4M656 330v1M656 366v6M656 381v1M656 405v1M656 408v3M657 7v3M657 31v3M657 46v3M657 67v6M657 168v14M657 183v2M657 227v7M657 276v4M657 300v4M657 332v4M658 171v6M659 10v3M659 16v2M659 165v7M659 327v4M659 351v1M660 272v8M660 295v1M660 313v3M660 320v8M660 349v5M660 366v2M660 382v2M661 160v3M661 181v4M661 195v7M661 244v2M661 305v4M662 179v1M662 181v1M662 401v3M663 14v3M663 165v6M663 185v4M663 195v3M663 222v5M663 255v6M663 400v2M664 270v1M664 279v4M664 310v1M664 369v1M664 381v3M664 414v3M665 1v6M665 17v6M665 43v3M665 58v3M665 165v5M665 177v3M665 191v4M665 302v4M665 322v8M666 207v3M666 270v2M666 296v8M666 308v4M666 335v1M666 340v8M666 352v2M666 364v1M666 374v6M666 389v3M666 413v1M667 29v3M667 71v2M667 172v11M667 200v7M667 221v21M667 249v7M667 289v4M668 298v4M668 346v4M668 375v3M668 381v3M668 396v3M669 2v3M669 8v3M669 279v4M669 295v4M669 376v3M669 403v3M670 215v1M670 220v2M670 285v4M670 305v4M670 337v8M670 349v4M670 391v3M670 406v3M671 9v2M671 44v5M671 153v4M671 178v5M671 185v4M671 192v7M671 206v7M671 231v6M671 238v3M671 248v7M671 289v4M671 297v3M671 341v4M671 400v1M672 168v8M672 201v3M672 211v7M672 225v7M672 278v3M672 298v7M672 311v7M672 350v4M672 365v3M672 395v3M672 410v2M673 44v8M673 163v7M673 186v3M673 219v3M673 228v5M673 284v8M673 316v4M673 393v3M673 418v2M674 162v2M674 199v7M675 8v1M675 14v7M675 189v3M675 195v1M675 201v7M675 210v7M675 225v3M675 334v4M675 379v3M675 403v3M676 193v2M676 197v1M676 200v7M676 231v2M676 272v4M676 308v4M676 316v4M676 324v4M676 344v4M676 367v3M676 390v1M676 403v3M677 183v12M677 329v4M677 345v4M678 394v2M679 10v6M679 64v2M679 74v1M679 239v7M679 308v4M680 170v1M680 172v1M680 243v7M680 276v4M680 284v4M680 296v4M680 304v4M680 321v3M680 328v8M680 344v4M680 362v12M680 386v3M681 36v6M681 199v14M681 227v7M681 271v3M681 278v4M681 294v4M681 334v4M682 184v7M682 219v3M682 225v1M682 231v9M682 270v5M682 283v8M682 311v8M682 327v8M682 343v4M682 398v2M682 413v1M683 28v1M683 64v5M683 138v13M683 153v5M683 168v1M683 182v4M683 207v7M683 279v4M683 339v4M684 245v1M684 314v4M684 322v3M684 337v1M684 342v4M684 358v3M684 386v2M684 390v1M684 394v2M685 38v3M685 59v3M685 70v1M685 208v7M685 273v4M685 325v4M686 168v5M686 194v7M686 373v3M686 391v3M686 404v2M687 14v6M687 74v1M687 191v7M687 234v6M687 298v4M687 323v3M687 334v4M688 172v1M688 174v1M688 186v6M688 274v8M688 310v4M688 318v6M688 380v3M688 386v4M688 395v3M688 407v6M689 19v3M689 25v3M689 157v2M689 160v3M689 170v4M689 192v3M689 197v1M689 213v6M689 246v1M690 169v6M690 201v3M690 231v1M690 274v8M690 314v4M690 322v2M690 330v4M690 338v12M690 364v1M690 376v4M690 389v3M690 412v4M691 6v3M691 57v3M691 176v1M691 297v12M691 368v2M692 244v7M693 328v4M693 352v2M693 375v3M694 174v10M694 195v7M694 272v1M694 285v6M694 297v3M694 312v4M694 324v4M694 332v4M694 344v4M694 358v1M694 365v3M694 412v1M695 20v6M695 178v1M695 199v2M695 234v7M695 278v2M695 290v4M695 314v4M696 159v7M696 187v7M696 222v7M696 358v1M696 362v9M696 377v3M696 404v2M697 170v7M697 240v7M697 334v4M698 209v7M698 237v7M698 287v4M698 358v2M698 366v3M698 378v3M698 384v2M698 402v3M699 7v3M699 31v3M699 40v3M699 52v3M699 208v2M699 257v4M699 298v4M699 330v4M699 342v8M699 406v2M700 193v7M700 383v6M700 395v1M700 401v3M700 419v1M701 2v8M701 26v2M701 67v3M701 177v6M701 195v2M701 211v7M701 345v4M701 363v3M701 387v3M701 399v1M702 178v7M702 298v3M702 318v4M702 350v4M702 371v3M702 380v2M702 384v2M702 389v6M702 407v1M702 413v3M703 164v7M703 185v7M703 307v4M703 331v4M704 159v1M704 209v7M704 225v3M704 299v4M704 307v4M704 323v6M704 339v8M704 364v3M704 378v1M704 382v3M704 391v5M704 403v3M705 332v2M705 411v2M706 286v2M706 320v2M706 411v1M706 419v1M706 453v5M707 332v1M707 419v2M707 453v3M708 286v2M708 320v2M708 411v2M708 419v1M708 453v5M709 333v1M709 419v2M710 286v2M710 320v2M710 333v1M710 420v1M711 320v2M711 332v2M711 420v1M712 286v2M712 320v2M712 332v1M712 419v1M712 456v2M713 286v2M713 320v2M713 332v2M713 365v1M713 411v2M713 419v2M714 320v2M714 332v1M714 419v2M714 453v5M715 286v2M715 320v2M715 333v1M715 411v2M715 419v2M716 286v2M716 320v2M716 332v2M716 365v1M716 411v2M716 419v1M716 453v5M717 320v2M717 332v2M717 365v2M717 382v2M717 411v2M717 419v2M717 456v2M718 286v2M718 320v2M718 332v2M718 411v2M718 420v1M718 453v5M719 320v2M719 332v2M719 366v1M719 405v1M719 419v2M719 456v2M720 286v2M720 320v2M720 332v1M720 411v2M720 453v3M721 286v2M721 321v1M721 332v2M721 365v2M721 411v2M721 419v2M722 286v2M722 320v2M722 332v1M722 365v2M722 419v1M723 320v1M723 332v2M723 365v1M723 382v2M723 404v1M723 411v2M723 419v2M724 286v2M724 320v2M724 332v2M724 412v1M724 419v2M724 453v3M725 320v2M725 332v2M725 366v1M725 419v2M725 453v3M726 286v2M726 320v2M726 366v1M726 411v1M726 419v2M726 453v5M727 321v1M727 332v2M727 365v2M727 375v1M727 404v1M727 411v2M727 419v2M728 286v2M728 320v2M728 332v2M728 366v1M728 419v2M728 453v5M729 286v2M729 321v1M729 332v2M729 365v1M729 382v2M729 404v2M729 411v2M729 419v2M730 286v2M730 320v2M730 332v1M730 411v2M730 453v3M731 332v2M731 366v1M731 404v1M731 411v2M731 419v2M731 453v3M732 286v2M732 320v2M732 332v2M732 411v2M732 419v2M732 453v5M733 286v2M733 320v2M733 332v1M733 365v1M733 411v2M733 419v2M733 453v3M734 286v2M734 320v2M734 332v1M734 365v1M734 412v1M734 419v2M734 453v3M735 320v2M735 411v2M735 419v2M736 286v2M736 320v2M736 333v1M736 365v1M736 412v1M736 419v2M736 453v3M737 286v2M737 320v2M737 332v1M737 419v2M738 286v2M738 320v2M738 333v1M738 419v2M738 453v5M739 286v2M739 321v1M739 332v2M739 365v2M739 419v2M739 453v3M740 286v2M740 320v2M740 411v2M740 419v1M740 453v5M741 286v2M741 320v2M741 333v1M741 366v1M741 411v2M741 419v2M742 286v2M742 320v2M742 411v1M742 419v2M742 453v3M743 286v2M743 320v2M743 333v1M743 411v2M743 419v2M743 456v2M744 286v2M744 320v1M744 411v2M744 419v1M744 453v5M745 286v2M745 332v2M745 365v2M745 411v2M745 419v2M746 286v2M746 320v2M746 332v2M746 412v1M746 419v2M746 453v5M747 286v2M747 320v2M747 332v1M747 366v1M747 411v2M747 419v2M747 453v3M748 286v2M748 320v2M748 332v1M748 366v1M748 420v1M748 453v3M749 286v2M749 320v2M749 332v2M749 365v2M749 419v2M749 453v3M750 286v2M750 320v2M750 333v1M750 419v1M750 453v3M751 286v2M751 320v2M751 332v2M751 365v2M751 382v2M751 405v1M751 411v2M751 419v2M752 286v2M752 320v2M752 332v2M752 366v1M752 382v2M752 419v2M752 456v2M753 320v1M753 332v2M753 365v1M753 419v2M754 286v2M754 320v2M754 332v1M754 412v1M754 419v2M754 453v3M755 320v2M755 332v1M755 366v1M755 419v2M755 456v2M756 286v2M756 332v2M756 365v2M756 390v2M756 404v2M756 420v1M756 453v5M757 286v2M757 320v2M757 332v1M757 411v2M757 456v2M758 321v1M758 332v2M758 365v2M758 382v2M758 419v2M758 453v5M759 286v2M759 320v2M759 332v2M759 365v2M759 405v1M759 419v2M760 286v2M760 320v2M760 332v2M760 411v1M760 420v1M760 453v5M761 320v1M761 332v2M761 366v1M761 404v1M761 411v2M761 419v2M762 286v2M762 320v2M762 333v1M762 365v1M762 412v1M762 419v2M762 456v2M763 286v2M763 332v2M763 365v1M763 405v1M763 419v2M764 286v2M764 320v2M764 332v1M764 411v2M764 453v5M765 286v2M765 321v1M765 332v2M765 365v2M765 382v2M765 419v2M766 286v2M766 320v2M766 332v2M766 411v2M766 420v1M766 453v5M767 286v2M767 321v1M767 332v2M767 365v2M767 404v2M767 411v2M767 419v2"/><path stroke="#00d3ff" d="M594 358v1M594 419v1M595 14v2M595 333v4M595 345v4M595 360v3M595 369v3M595 417v3M596 180v5M596 275v3M596 287v3M596 318v4M596 326v4M596 358v2M596 366v3M597 5v2M597 175v7M597 183v6M597 315v4M597 358v2M598 179v7M598 324v3M598 331v4M598 347v4M599 48v8M599 69v3M599 302v4M599 360v3M599 417v3M600 225v6M600 280v4M600 404v2M600 409v1M600 416v2M601 226v7M601 372v2M601 412v4M602 400v3M603 255v6M603 274v1M603 307v8M603 343v4M603 390v6M603 408v3M604 206v14M604 234v3M604 240v1M604 270v3M604 305v8M604 349v4M604 399v1M605 12v3M605 18v1M605 30v3M605 179v1M605 228v3M605 234v7M605 287v8M605 392v1M606 202v14M606 258v3M606 304v4M606 316v4M607 270v2M607 281v4M607 326v3M607 341v4M608 210v6M608 282v4M608 310v4M608 346v4M608 373v3M608 385v3M609 0v2M609 5v1M609 200v7M609 221v7M609 270v8M609 334v5M609 350v1M609 394v1M609 413v3M610 293v4M610 301v4M610 329v4M610 345v8M610 376v1M610 392v3M610 402v2M610 419v1M611 17v1M611 35v3M611 41v1M611 59v3M611 71v3M611 180v7M611 215v7M611 285v5M611 330v4M611 360v3M611 399v3M612 243v7M612 310v5M612 334v1M612 408v3M613 42v2M613 68v4M613 172v4M613 260v1M613 277v2M613 289v6M613 377v3M613 400v1M614 237v7M614 329v4M614 372v3M614 406v1M615 9v2M615 68v6M615 201v7M615 276v4M615 292v4M615 384v3M615 410v1M616 179v7M616 235v2M616 287v4M616 335v4M616 343v1M616 375v3M616 393v3M616 398v1M616 412v2M617 10v2M617 52v3M617 58v2M617 70v5M617 173v7M617 201v3M617 207v1M617 270v4M617 306v4M617 394v3M617 400v2M618 258v3M618 297v4M618 313v8M618 341v4M619 1v2M619 9v6M619 21v3M619 27v3M619 33v6M619 48v1M619 60v5M619 73v2M619 172v4M619 192v5M619 319v4M619 408v2M620 165v6M620 270v1M620 311v4M620 367v3M620 394v3M620 400v3M621 30v6M621 159v7M621 211v7M621 249v3M621 281v4M622 201v3M622 229v7M622 285v3M622 301v4M622 400v2M623 3v1M623 232v7M623 339v3M623 351v3M623 376v2M623 400v2M623 409v3M624 179v1M624 203v14M624 295v4M624 303v4M625 63v1M625 67v3M625 180v7M625 215v7M625 285v1M625 290v1M625 314v4M625 338v4M625 366v2M625 380v3M626 188v4M626 215v7M626 228v1M626 281v8M626 293v4M626 345v4M627 36v3M627 52v2M627 178v1M627 271v4M627 307v4M627 319v4M628 197v1M628 201v3M628 299v4M628 382v4M628 389v2M628 403v3M628 413v1M628 419v1M629 0v5M629 8v3M629 26v1M629 170v7M629 282v4M629 326v8M630 163v2M630 166v9M630 252v7M630 289v4M630 297v4M630 305v4M630 349v4M630 379v3M631 42v1M631 49v1M631 165v9M631 317v4M631 341v4M632 185v7M632 286v3M632 298v4M632 318v8M632 346v4M632 368v1M633 195v3M633 201v7M633 250v2M633 255v2M633 296v4M633 311v1M633 324v4M633 336v4M633 348v4M633 366v2M633 383v3M634 167v4M634 271v4M634 299v4M634 318v1M634 376v3M634 392v2M635 58v3M635 241v7M635 276v4M635 284v4M635 292v1M635 369v3M635 394v2M636 189v4M636 235v7M636 276v4M636 343v1M636 359v3M636 372v2M636 389v1M637 174v3M637 211v2M637 248v7M638 280v4M638 300v8M638 316v4M638 340v4M638 358v1M639 24v4M639 46v2M639 215v1M639 222v6M639 229v7M639 250v5M639 270v9M639 295v4M640 288v4M640 395v1M641 22v4M641 29v1M641 161v6M641 202v7M641 219v1M641 251v7M641 337v4M641 370v1M642 188v7M642 270v1M642 287v4M642 319v4M642 327v4M642 347v3M642 362v2M643 14v3M643 207v7M643 221v7M643 298v4M643 330v4M643 346v4M643 416v1M643 418v1M644 220v7M645 24v5M645 238v7M645 259v2M646 177v2M646 196v7M646 217v7M646 285v4M646 314v3M646 333v4M646 365v3M646 377v1M646 387v5M646 417v2M647 56v1M647 158v17M647 195v1M647 207v3M647 245v7M647 305v4M647 313v2M647 329v8M647 341v8M648 215v7M648 236v7M649 12v3M649 30v3M649 168v5M649 174v1M649 240v3M649 277v4M649 317v3M649 383v1M649 410v3M650 171v2M651 30v3M651 42v3M651 74v1M651 172v2M651 195v7M651 278v4M651 302v4M651 310v12M651 334v4M651 346v4M651 363v3M652 217v7M652 231v7M652 305v2M652 317v8M652 370v2M652 378v3M652 387v3M652 417v3M653 167v6M653 195v7M653 313v4M653 321v4M654 164v6M654 270v2M654 284v4M654 324v4M654 336v2M654 352v2M654 373v2M654 394v2M654 411v3M655 60v4M656 175v2M656 184v2M656 207v5M656 274v9M656 290v4M656 298v8M656 310v4M656 326v4M656 363v3M656 374v1M656 402v3M656 411v3M657 3v1M657 34v1M657 43v3M657 49v3M657 73v2M657 182v1M657 292v4M657 358v2M657 411v3M658 177v1M659 13v3M659 40v2M659 179v7M659 208v6M659 279v1M659 286v1M659 319v4M659 335v4M659 361v3M659 367v3M659 388v3M660 208v6M660 316v4M660 360v3M660 405v3M660 414v2M661 163v4M661 185v3M661 209v14M661 258v3M661 365v1M663 2v3M663 8v6M663 23v3M663 192v3M663 198v1M663 216v3M663 220v2M663 227v7M663 277v5M663 372v3M664 283v4M664 291v12M664 319v3M664 331v3M664 347v7M664 376v2M664 402v2M664 406v2M664 417v3M665 7v3M665 57v1M665 180v4M665 219v7M665 330v2M665 350v4M665 374v3M665 398v2M666 235v7M666 272v4M666 284v3M666 304v4M666 372v2M666 386v3M666 395v3M666 410v3M667 0v1M667 25v4M667 65v3M667 183v10M667 207v14M667 374v2M668 237v7M668 366v3M668 372v3M668 386v4M668 394v2M668 399v3M668 406v2M668 414v6M669 0v2M669 5v3M669 59v8M669 184v7M669 247v7M669 397v3M670 187v7M670 216v4M670 229v7M670 274v3M670 281v4M670 309v4M670 317v4M670 329v4M670 353v1M670 361v1M670 400v3M671 11v3M671 164v7M671 183v2M671 199v7M671 227v4M671 237v1M671 255v6M671 362v3M672 197v4M672 287v7M672 341v5M672 362v3M672 383v1M672 386v3M672 406v1M673 30v3M673 177v9M673 189v3M673 195v3M673 226v2M673 247v14M673 272v4M673 280v4M673 363v3M673 396v3M674 248v1M674 252v6M675 192v3M675 196v5M675 272v2M675 282v8M675 330v4M675 344v2M675 410v2M676 195v2M676 198v2M676 284v6M676 312v4M676 328v4M676 336v4M676 379v3M676 396v1M677 174v7M677 217v6M677 244v7M677 370v2M679 176v14M679 232v7M679 316v4M679 336v4M680 358v1M680 378v2M680 389v1M680 395v3M680 404v2M680 416v4M681 6v3M681 42v2M681 164v10M681 313v1M681 326v8M681 342v4M682 226v5M682 275v4M682 307v4M682 339v4M682 347v4M682 358v1M682 362v3M682 372v2M682 395v3M682 404v2M682 416v3M683 22v6M683 53v5M683 165v3M683 169v3M683 200v7M683 216v3M683 299v4M683 309v2M683 321v2M683 382v1M684 241v4M684 246v2M684 298v8M684 310v4M684 318v4M684 338v4M684 367v3M684 379v3M684 403v3M684 412v3M685 6v8M685 54v2M685 74v1M685 180v12M685 229v7M685 293v3M685 391v3M685 400v3M687 13v1M687 20v1M687 69v2M687 278v4M687 306v4M687 361v5M687 373v3M687 415v3M688 173v1M688 175v11M688 192v1M688 228v7M688 258v3M688 360v2M688 365v3M688 372v2M688 413v3M689 12v1M689 16v3M689 174v3M689 191v1M689 195v2M689 198v7M689 226v7M689 240v6M689 319v1M689 347v4M689 358v1M689 365v3M690 175v1M690 190v11M690 225v6M690 365v3M690 382v2M690 406v4M691 0v3M691 51v3M691 177v6M691 246v7M691 293v4M691 333v4M691 374v2M691 385v1M691 397v1M693 72v3M693 243v3M693 316v4M694 184v4M694 270v2M694 300v4M694 364v1M694 374v6M695 179v6M695 211v2M695 255v6M695 330v4M695 338v4M695 358v2M696 215v7M697 0v2M697 290v4M697 407v1M698 363v3M698 375v3M698 396v2M698 400v2M698 405v3M698 411v3M698 417v3M699 10v5M699 34v6M699 49v3M699 215v7M699 290v1M699 364v3M699 396v1M699 403v3M701 31v3M701 40v2M701 66v1M701 70v3M701 204v7M701 218v7M701 281v8M701 305v4M701 353v1M701 366v3M701 372v3M701 393v1M702 222v19M702 359v3M702 376v1M702 401v1M703 171v14M703 275v4M703 303v4M703 319v4M703 339v4M703 351v3M703 358v2M704 223v2M704 228v2M704 303v4M704 319v4M704 361v3M704 373v3M704 379v3M704 385v3M704 412v2M704 418v2M706 441v1M707 286v2M707 456v2M708 438v3M708 445v2M710 441v1M710 447v1M710 456v2M712 447v1M713 453v5M714 286v2M714 411v2M714 445v2M715 453v3M716 445v3M717 286v2M717 453v3M718 438v3M718 447v1M719 286v2M719 411v2M719 453v3M720 438v4M720 445v2M721 320v1M721 453v5M722 411v1M722 445v2M722 456v2M723 286v2M723 321v1M723 453v5M724 438v4M725 286v2M725 411v2M725 456v2M726 438v4M726 447v1M727 286v2M727 320v1M727 453v3M728 411v2M728 441v1M728 445v3M729 320v1M729 456v2M730 438v4M730 447v1M730 456v2M731 286v2M731 320v2M732 445v2M733 456v2M734 447v1M734 456v2M735 286v2M735 453v5M736 438v3M736 447v1M737 411v2M737 453v5M738 438v4M739 320v1M739 411v2M740 438v4M740 445v3M741 453v5M742 441v1M742 447v1M743 453v3M744 321v1M744 438v4M744 447v1M745 320v2M745 453v3M746 438v4M746 447v1M747 456v2M748 438v3M748 445v3M748 456v2M749 411v2M749 456v2M750 445v3M751 453v5M752 438v4M752 445v3M753 286v2M753 321v1M753 411v2M753 456v2M754 445v2M755 286v2M755 411v2M755 453v3M756 320v2M756 411v1M756 438v3M756 447v1M757 453v3M758 286v2M758 320v1M758 412v1M758 447v1M759 411v2M759 453v5M760 441v1M760 445v2M761 286v2M761 321v1M761 453v5M762 438v4M762 445v3M762 453v3M763 320v2M763 411v2M763 453v3M765 320v1M765 411v2M765 456v2M766 441v1M766 447v1M767 320v1M767 453v5"/><path stroke="#00ffff" d="M594 282v4M594 290v4M594 351v3M594 359v3M594 377v3M594 385v1M594 414v2M594 428v2M594 432v2M594 436v2M595 301v4M595 329v4M595 420v3M595 426v2M595 436v4M595 442v2M596 375v3M596 402v2M596 428v2M596 434v2M596 438v2M596 442v2M597 40v5M597 279v8M597 319v4M597 331v4M597 347v4M597 363v3M597 411v3M597 420v3M597 430v2M597 440v4M598 271v4M598 291v4M598 342v1M598 351v3M598 368v3M598 425v3M598 434v2M598 440v2M599 64v2M599 270v4M599 296v2M599 411v1M599 425v1M599 430v2M599 442v2M600 274v2M600 296v8M600 308v4M600 359v3M600 365v3M600 402v2M600 420v2M600 424v2M600 430v2M600 434v2M601 0v6M601 36v6M601 205v7M601 295v2M601 428v2M601 432v4M602 207v7M602 331v4M602 384v1M602 424v2M602 428v2M602 434v2M602 442v2M602 446v1M603 275v5M603 287v8M603 303v4M603 315v1M603 347v4M603 426v2M603 430v2M603 438v2M604 237v3M604 289v4M604 297v8M604 337v4M604 364v3M604 415v3M604 420v1M604 432v4M604 440v4M604 446v1M605 0v12M605 15v3M605 33v2M605 192v7M605 227v1M605 231v3M605 372v3M605 423v1M605 430v2M605 440v2M606 375v6M606 423v3M606 428v2M606 440v2M607 289v4M607 309v4M607 382v2M607 394v1M607 396v4M607 410v2M607 428v2M607 436v2M608 188v7M608 350v4M608 418v2M608 424v4M608 432v2M609 2v3M609 30v8M609 193v7M609 322v4M609 371v1M609 374v3M609 401v3M609 416v3M609 420v2M609 428v2M610 309v4M610 359v3M610 424v2M610 430v2M610 434v2M610 444v1M611 0v2M611 5v6M611 14v3M611 34v1M611 38v3M611 68v3M611 173v7M611 278v1M611 298v4M611 314v4M611 327v3M611 382v2M611 386v1M611 396v3M611 402v3M611 417v1M611 430v2M611 436v2M611 440v6M612 222v7M612 275v4M612 420v2M612 432v4M612 440v2M613 72v3M613 197v7M613 319v4M613 327v4M613 335v4M613 351v3M613 426v2M613 432v2M613 436v2M613 442v2M614 285v4M614 395v1M614 414v3M614 422v1M614 444v2M615 14v3M615 74v1M615 194v7M615 308v4M615 321v3M615 398v1M615 428v2M615 444v2M616 279v4M616 291v4M616 315v4M616 373v2M616 420v2M616 426v2M616 432v2M616 436v2M616 446v1M617 4v3M617 314v3M617 347v3M617 376v3M617 412v4M617 420v4M617 427v3M617 432v2M617 438v2M617 442v2M618 273v4M618 283v6M618 301v8M618 329v4M618 353v1M618 367v3M618 420v2M618 427v1M618 438v2M619 3v3M619 15v6M619 197v7M619 327v4M619 339v4M619 369v3M619 378v3M619 390v4M619 430v2M619 434v6M620 171v1M620 186v7M620 275v4M620 299v4M620 428v2M620 436v2M621 3v3M621 9v9M621 21v1M621 36v2M621 166v3M621 183v7M621 232v17M621 252v8M621 289v4M621 374v3M621 416v2M621 424v2M621 429v1M621 436v2M621 440v6M621 450v1M622 204v4M622 329v1M622 345v8M622 365v3M622 371v1M622 434v2M622 440v2M623 287v4M623 295v4M623 348v3M623 422v2M623 438v6M623 446v2M624 189v6M624 307v4M624 327v4M624 343v4M624 368v3M624 401v4M624 432v2M624 436v6M624 444v2M625 64v3M625 208v7M625 274v4M625 322v4M625 342v4M625 389v3M625 420v2M625 434v2M625 440v2M625 446v2M625 451v1M626 201v7M626 222v6M626 319v2M626 333v4M626 341v4M626 365v3M626 420v2M626 426v2M626 432v12M626 451v1M627 9v3M627 39v5M627 179v6M627 206v7M627 248v7M627 279v3M627 398v2M627 420v6M627 434v2M627 438v4M627 446v2M628 198v3M628 270v1M628 319v4M628 347v7M628 391v1M628 397v1M628 420v2M628 426v2M628 432v2M628 442v2M629 5v3M629 350v4M629 364v5M629 378v2M629 385v2M629 428v2M629 433v1M629 446v4M630 217v7M630 317v4M630 325v4M630 382v2M630 422v2M630 426v2M630 433v1M630 446v2M631 43v3M631 74v1M631 273v4M631 289v4M631 337v4M631 422v8M631 444v2M632 213v7M632 426v2M632 440v2M632 446v2M633 194v1M633 198v3M633 272v3M633 304v1M633 358v1M633 401v1M633 424v4M633 442v2M633 446v2M634 171v3M634 188v7M634 230v7M634 258v3M634 307v4M634 331v4M634 400v3M634 412v3M634 430v1M635 61v3M635 73v2M635 178v6M635 199v7M635 280v4M635 320v8M635 344v4M635 372v3M635 428v2M635 442v2M635 446v2M636 216v5M636 272v4M636 308v4M636 362v3M636 420v2M636 424v2M636 448v2M637 199v12M637 305v2M637 321v4M637 337v4M637 382v2M637 426v2M637 430v2M637 434v2M637 438v2M637 442v4M637 450v1M638 420v2M638 426v2M638 442v2M638 450v2M639 43v3M639 173v7M639 194v7M639 208v7M639 216v6M639 243v7M639 331v3M639 359v3M639 368v3M639 389v1M639 428v2M639 436v2M639 450v2M640 332v8M640 359v1M640 372v2M640 410v1M640 420v2M640 424v4M640 434v2M640 438v2M640 444v2M640 458v1M641 11v3M641 26v3M641 230v7M641 270v3M641 325v4M641 345v4M641 436v2M641 442v2M641 456v2M642 201v1M642 367v3M642 394v3M642 414v1M642 420v2M642 428v2M642 434v2M642 442v2M642 454v2M642 458v1M643 12v2M643 17v3M643 179v1M643 193v14M643 228v7M643 249v7M643 270v2M643 282v2M643 318v4M643 350v4M643 358v4M643 371v5M643 379v1M643 413v3M643 422v2M643 426v2M643 435v3M643 446v4M643 453v1M643 458v1M644 278v3M644 344v1M644 397v3M644 424v2M644 428v2M644 436v2M644 440v2M644 453v1M644 456v2M645 192v4M645 285v4M645 321v4M645 420v2M645 430v2M645 435v1M645 442v2M645 448v2M645 458v1M646 175v2M646 179v3M646 273v8M646 293v8M646 341v13M646 419v1M646 442v2M646 452v2M646 458v1M647 57v6M647 189v6M647 203v4M647 238v7M647 285v6M647 422v4M647 428v5M647 442v4M647 454v2M648 187v7M648 229v7M648 420v2M648 424v4M648 432v1M648 435v3M648 448v1M648 452v2M649 173v1M649 196v7M649 224v7M649 238v2M649 243v2M649 281v4M649 313v4M649 349v4M649 359v3M649 364v1M649 438v2M649 451v5M650 173v5M650 234v7M650 424v1M650 427v2M650 432v1M650 436v1M650 441v1M650 444v2M650 449v1M650 453v1M650 457v2M651 2v1M651 6v3M651 26v1M651 45v3M651 188v7M651 202v7M651 216v7M651 230v7M651 274v4M651 322v4M651 330v4M651 381v3M651 390v3M651 422v2M651 427v1M651 432v1M651 435v2M651 440v1M651 444v1M651 447v1M651 449v1M651 452v2M651 457v2M652 210v7M652 281v2M652 353v1M652 365v3M652 423v1M652 426v2M652 429v1M652 431v1M652 435v1M652 437v1M652 440v1M652 443v2M652 448v5M652 456v2M653 1v3M653 173v1M653 223v7M653 281v4M653 301v4M653 422v2M653 425v3M653 431v1M653 434v2M653 439v2M653 443v2M653 448v1M653 451v2M653 456v2M654 198v7M654 308v4M654 369v1M654 410v1M654 422v1M654 426v1M654 430v2M654 434v3M654 439v1M654 443v1M654 447v2M654 451v2M654 456v1M655 64v4M655 170v7M655 191v7M655 282v4M655 294v4M655 302v8M655 314v4M655 368v6M655 401v3M655 407v3M655 420v1M655 422v1M655 425v2M655 430v2M655 434v1M655 439v1M655 441v3M655 447v1M655 450v2M655 456v2M656 177v7M656 186v5M656 205v2M656 212v7M656 375v3M656 380v1M656 387v6M656 400v2M656 414v4M656 421v1M656 424v2M656 428v1M656 430v1M656 432v3M656 438v1M656 442v1M656 447v1M656 449v3M656 453v1M656 455v1M657 4v3M657 10v1M657 27v4M657 58v1M657 192v7M657 336v4M657 372v3M657 420v2M657 424v2M657 429v2M657 432v3M657 438v1M657 441v2M657 445v2M657 449v2M657 453v1M657 455v1M657 458v1M658 227v7M658 420v2M658 424v1M658 426v1M658 429v1M658 432v2M658 436v3M658 441v1M658 446v1M658 448v3M658 454v2M658 457v2M659 37v3M659 193v7M659 207v1M659 275v4M659 291v8M659 303v4M659 420v1M659 424v1M659 428v2M659 432v2M659 435v3M659 440v2M659 445v2M659 449v2M659 454v1M659 458v1M660 172v7M660 207v1M660 370v2M660 384v4M660 398v4M660 420v1M660 422v3M660 427v2M660 432v1M660 437v1M660 440v3M660 445v2M660 449v1M660 451v2M660 454v1M660 456v3M661 289v4M661 358v1M661 388v1M661 404v2M661 420v1M661 422v4M661 427v2M661 432v1M661 436v2M661 439v3M661 443v1M661 445v2M661 449v1M661 453v2M661 457v2M662 420v1M662 423v3M662 428v1M662 432v1M662 437v1M662 440v2M662 444v2M662 447v3M662 454v1M662 457v2M663 17v6M663 178v5M663 206v10M663 219v1M663 309v4M663 329v4M663 378v3M663 420v2M663 423v2M663 428v1M663 432v1M663 436v2M663 440v2M663 445v1M663 449v1M663 453v3M663 457v2M664 372v2M664 378v3M664 396v3M664 420v1M664 423v3M664 428v1M664 432v2M664 436v2M664 440v1M664 445v1M664 447v1M664 449v1M664 453v2M664 457v1M665 10v7M665 41v2M665 61v4M665 198v7M665 212v7M665 272v2M665 377v3M665 389v3M665 420v1M665 422v2M665 425v1M665 428v1M665 430v3M665 436v3M665 440v2M665 445v1M665 447v3M665 453v2M665 456v2M666 200v7M666 365v3M666 384v2M666 398v3M666 407v3M666 416v3M666 420v2M666 423v1M666 428v1M666 431v2M666 436v1M666 440v1M666 443v1M666 445v1M666 448v2M666 451v1M666 453v1M666 457v1M667 32v1M667 68v3M667 195v3M667 270v7M667 333v4M667 341v4M667 353v1M667 423v1M667 427v3M667 431v2M667 436v2M667 440v1M667 443v1M667 445v1M667 448v2M667 451v1M667 453v1M667 457v1M668 423v1M668 428v1M668 431v2M668 436v1M668 438v1M668 440v1M668 445v1M668 448v2M668 452v2M668 457v1M669 177v7M669 270v1M669 283v4M669 311v4M669 331v4M669 351v3M669 385v3M669 423v2M669 427v2M669 431v2M669 436v1M669 438v3M669 444v2M669 448v2M669 453v1M669 457v1M670 223v6M670 277v4M670 297v8M670 328v1M670 333v4M670 364v3M670 397v1M670 403v1M670 415v1M670 418v2M670 423v1M670 425v1M670 427v5M670 435v2M670 440v1M670 444v2M670 448v1M670 451v1M670 453v1M670 455v1M670 457v1M671 0v1M671 14v3M671 41v3M671 312v1M671 333v4M671 395v3M671 422v2M671 425v1M671 427v2M671 431v1M671 436v1M671 439v3M671 444v3M671 448v2M671 452v2M671 455v3M672 192v3M672 218v7M672 330v4M672 346v4M672 371v3M672 378v2M672 389v3M672 422v2M672 427v2M672 431v1M672 434v1M672 436v1M672 439v2M672 444v2M672 448v1M672 453v1M672 456v2M673 28v2M673 33v3M673 192v3M673 276v4M673 320v8M673 344v4M673 352v2M673 422v2M673 427v2M673 431v1M673 434v1M673 436v1M673 438v3M673 444v2M673 448v1M673 452v2M673 456v2M674 249v3M674 258v3M674 423v1M674 427v3M674 431v1M674 434v1M674 436v1M674 440v1M674 444v2M674 448v1M674 450v1M674 453v2M674 457v2M675 2v6M675 49v4M675 56v1M675 182v7M675 217v7M675 290v6M675 310v4M675 326v4M675 358v3M675 372v1M675 425v1M675 431v1M675 436v2M675 440v1M675 447v4M675 452v2M675 457v1M676 186v7M676 214v7M676 270v2M676 304v4M676 320v4M676 373v1M676 376v3M676 423v7M676 431v2M676 436v1M676 440v1M676 442v1M676 444v2M676 448v2M676 452v2M676 455v1M676 457v1M677 216v1M677 277v4M677 285v1M677 292v1M677 301v3M677 310v3M677 328v1M677 337v8M677 391v1M677 423v1M677 426v3M677 431v2M677 434v1M677 436v1M677 438v1M677 440v2M677 445v5M677 453v1M677 457v1M678 423v1M678 425v1M678 428v1M678 431v2M678 435v2M678 438v1M678 440v1M678 445v1M678 448v2M678 452v2M678 457v1M679 16v2M679 192v3M679 297v3M679 352v2M679 360v3M679 369v3M679 411v3M679 421v1M679 423v1M679 428v1M679 431v2M679 436v1M679 440v1M679 442v1M679 445v1M679 448v2M679 453v1M679 457v2M680 359v3M680 422v3M680 428v2M680 431v2M680 436v1M680 438v1M680 440v1M680 445v1M680 448v2M680 453v1M680 456v2M681 4v2M681 174v4M681 338v4M681 346v4M681 414v1M681 420v1M681 423v2M681 428v1M681 431v2M681 435v3M681 440v2M681 445v1M681 448v2M681 453v2M681 456v2M682 279v4M682 365v3M682 374v3M682 392v3M682 420v1M682 423v1M682 428v1M682 431v4M682 436v2M682 439v2M682 445v1M682 448v2M682 453v2M682 457v1M683 21v1M683 61v3M683 214v2M683 219v2M683 331v4M683 343v2M683 398v3M683 420v1M683 423v1M683 425v1M683 428v1M683 432v1M683 436v3M683 440v1M683 445v1M683 449v1M683 453v2M683 457v1M684 278v4M684 289v1M684 376v3M684 398v2M684 402v1M684 408v1M684 420v1M684 423v2M684 428v1M684 432v1M684 436v2M684 440v2M684 445v1M684 449v2M684 453v2M684 457v2M685 44v2M685 56v3M685 71v3M685 192v2M685 270v3M685 285v4M685 388v3M685 412v2M685 420v2M685 423v2M685 428v2M685 432v1M685 436v2M685 440v2M685 445v1M685 449v1M685 452v3M685 457v2M686 187v7M686 420v1M686 423v2M686 426v1M686 428v1M686 432v1M686 437v2M686 440v3M686 445v1M686 449v2M686 454v1M686 457v2M687 71v3M687 286v1M687 347v3M687 382v3M687 420v1M687 423v2M687 428v1M687 432v1M687 437v1M687 440v2M687 443v1M687 445v1M687 448v4M687 453v2M687 457v2M688 214v7M688 256v2M688 420v1M688 423v2M688 428v1M688 432v1M688 437v5M688 445v1M688 449v1M688 451v1M688 454v2M688 457v2M689 22v3M689 275v4M689 315v4M689 339v8M689 368v3M689 420v1M689 423v3M689 428v1M689 432v1M689 435v1M689 437v1M689 440v2M689 445v1M689 449v2M689 452v1M689 454v1M689 457v2M690 358v1M690 368v3M690 392v4M690 420v1M690 428v2M690 432v1M690 438v1M690 441v2M690 444v3M690 452v1M690 454v1M690 458v1M691 3v3M691 9v2M691 43v2M691 48v3M691 63v4M691 285v4M691 337v4M691 391v1M691 420v1M691 422v1M691 424v2M691 428v2M691 432v2M691 437v2M691 441v1M691 443v1M691 445v2M691 449v4M691 454v1M691 458v1M692 420v2M692 424v2M692 429v1M692 433v2M692 437v3M692 441v2M692 445v2M692 448v1M692 450v1M692 453v3M692 458v1M693 36v3M693 42v2M693 241v2M693 246v2M693 326v2M693 332v4M693 384v3M693 405v1M693 421v1M693 424v2M693 428v3M693 433v1M693 438v1M693 441v2M693 446v3M693 450v1M693 453v1M693 455v4M694 258v3M694 308v4M694 336v4M694 348v3M694 359v3M694 380v3M694 386v6M694 402v2M694 419v1M694 421v1M694 425v1M694 428v1M694 430v1M694 433v2M694 438v1M694 442v1M694 447v1M694 450v2M694 455v1M695 206v5M695 398v1M695 420v3M695 425v1M695 428v3M695 434v1M695 438v2M695 442v1M695 444v1M695 447v1M695 451v1M695 455v2M696 422v1M696 425v2M696 428v1M696 430v1M696 432v1M696 434v1M696 439v2M696 442v2M696 447v1M696 451v1M696 453v1M696 456v1M696 458v1M697 2v3M697 306v4M697 326v8M697 384v2M697 394v1M697 401v3M697 422v1M697 425v2M697 430v3M697 434v2M697 439v1M697 443v1M697 447v2M697 451v2M697 456v1M698 422v2M698 425v2M698 431v1M698 434v2M698 439v2M698 442v2M698 446v1M698 448v1M698 451v2M698 456v2M699 43v6M699 274v4M699 314v4M699 334v4M699 350v4M699 373v3M699 382v3M699 392v2M699 420v1M699 422v3M699 426v3M699 431v1M699 433v1M699 435v1M699 437v1M699 439v2M699 443v2M699 448v1M699 452v1M699 457v2M700 420v1M700 422v2M700 426v2M700 430v3M700 435v2M700 440v1M700 443v2M700 448v5M700 457v1M701 73v1M701 279v2M701 325v4M701 375v3M701 396v3M701 408v3M701 420v1M701 423v1M701 427v1M701 431v2M701 435v1M701 440v1M701 444v3M701 448v2M701 452v1M701 457v1M702 220v2M702 421v1M702 423v1M702 427v1M702 431v3M702 435v2M702 440v1M702 444v1M702 446v1M702 448v2M702 452v3M702 457v1M703 283v4M703 349v2M703 363v3M703 384v3M703 420v1M703 422v2M703 427v1M703 430v1M703 432v1M703 435v4M703 440v1M703 444v1M703 449v2M703 452v2M703 457v1M704 388v3M704 406v2M704 423v1M704 427v1M704 432v1M704 435v2M704 440v1M704 442v1M704 444v1M704 449v1M704 452v2M704 457v2M705 270v3M705 279v6M705 294v3M705 306v6M705 318v12M705 342v3M705 348v15M705 372v3M705 381v3M705 390v3M705 396v3M705 414v6M705 426v6M705 438v3M705 445v5M705 453v6M706 438v3M706 445v3M707 270v3M707 279v6M707 288v3M707 300v3M707 306v3M707 318v3M707 324v3M707 342v3M707 348v3M707 357v6M707 366v3M707 372v3M707 381v6M707 411v3M707 429v6M707 441v1M707 447v3M708 441v1M708 447v1M709 270v3M709 285v12M709 300v9M709 312v9M709 339v3M709 348v3M709 360v3M709 366v9M709 387v3M709 393v6M709 405v3M709 411v3M709 426v3M709 432v3M709 438v3M709 445v5M709 453v6M710 438v3M710 445v2M711 270v3M711 279v3M711 285v3M711 306v3M711 324v6M711 336v6M711 345v3M711 354v6M711 363v3M711 372v3M711 390v9M711 408v3M711 417v3M711 423v9M711 435v7M711 445v2M711 456v3M712 438v4M712 445v2M714 438v4M714 447v1M715 456v2M716 438v4M717 445v2M718 441v1M718 445v2M719 438v3M719 445v2M720 447v1M722 438v4M722 447v1M724 445v3M726 445v2M727 441v1M727 456v2M728 438v3M729 438v3M729 453v3M730 445v2M731 447v1M731 456v2M732 438v4M732 447v1M733 438v4M733 447v1M734 438v4M734 445v2M735 438v4M735 445v2M736 441v1M736 445v2M737 438v4M737 447v1M738 445v3M739 445v2M739 456v2M741 447v1M742 438v3M742 445v2M743 438v3M743 447v1M744 445v2M745 438v4M745 447v1M745 456v2M746 445v2M747 447v1M748 441v1M750 438v4M751 438v4M751 447v1M753 445v2M753 453v3M754 438v4M754 447v1M755 438v4M755 445v3M756 441v1M756 445v2M757 441v1M757 445v3M758 438v4M758 445v2M759 438v4M759 445v3M760 438v3M760 447v1M761 447v1M763 438v4M763 445v2M763 456v2M764 438v4M764 445v3M765 441v1M765 445v3M765 453v3M766 438v3M766 445v2M767 438v4M767 445v2"/><path stroke="#00ffeb" d="M594 286v4M594 318v3M594 330v3M594 403v1M594 416v3M595 305v4M595 317v4M595 381v3M595 386v2M596 278v3M596 290v4M596 310v4M596 390v6M597 7v3M597 271v4M597 339v8M597 393v9M598 416v3M599 386v1M599 399v3M600 284v4M600 320v4M600 348v4M600 383v3M601 6v3M601 329v4M601 337v4M601 358v2M601 394v2M601 400v2M602 339v4M602 360v1M603 286v1M603 331v3M603 377v1M603 399v3M604 321v4M604 376v2M604 382v3M605 381v1M605 402v3M606 272v4M606 308v4M606 340v4M606 363v3M606 369v3M606 396v3M606 411v3M607 0v2M607 329v4M608 270v4M608 372v1M609 303v3M609 326v8M609 346v4M609 364v1M609 384v2M609 395v1M609 419v1M610 317v4M610 341v4M610 410v2M611 2v3M611 11v3M611 62v6M611 274v4M611 369v3M612 279v4M612 351v3M612 358v2M612 378v3M613 36v3M613 270v1M613 323v4M613 339v4M613 347v4M613 365v3M613 385v1M613 407v3M614 289v4M614 353v1M615 65v3M615 272v4M615 348v4M615 363v3M615 411v3M616 283v4M616 303v4M616 331v4M616 392v1M617 299v7M617 334v7M617 350v4M617 379v3M617 391v3M617 397v1M618 309v4M618 325v4M618 345v4M619 39v6M619 57v3M619 291v4M619 347v4M619 358v4M619 381v3M620 279v4M620 323v4M620 331v4M620 351v3M621 305v4M621 371v3M622 277v4M622 410v4M623 283v4M623 327v4M623 335v4M623 388v2M623 418v2M624 195v1M624 335v4M624 359v3M624 365v3M624 400v1M625 302v4M625 326v4M625 368v3M626 297v4M626 307v2M626 337v4M626 395v6M627 358v3M628 279v4M628 315v4M628 323v4M628 339v4M628 361v1M628 396v1M629 306v4M629 346v4M629 358v2M629 414v3M630 336v5M630 370v3M630 392v2M630 397v3M631 28v6M631 281v4M631 325v4M631 345v4M631 353v1M631 381v1M632 295v3M632 326v4M632 342v4M632 381v3M632 387v3M632 393v1M632 400v2M632 404v1M633 292v4M633 340v4M634 323v1M634 339v4M634 382v3M634 403v1M635 72v1M635 184v1M635 406v2M636 214v2M636 280v4M636 332v5M636 368v2M636 401v1M636 411v2M637 273v4M637 301v4M637 329v4M637 353v1M637 358v3M637 373v1M637 398v2M638 272v4M638 344v2M638 380v3M638 395v3M638 416v2M639 34v9M639 292v3M639 319v8M639 340v3M639 393v1M640 292v4M640 327v1M641 6v5M641 321v4M641 349v4M641 395v3M642 195v6M642 271v4M642 295v1M642 311v4M642 323v4M642 344v3M643 180v6M643 294v4M643 314v4M643 334v8M644 270v2M644 309v4M644 391v3M645 21v3M645 37v2M645 42v3M645 189v3M645 289v2M645 313v2M645 329v4M645 341v4M645 349v2M645 374v3M645 400v1M646 289v4M646 305v3M646 317v4M646 329v4M647 182v7M647 270v3M647 277v4M647 353v1M647 358v2M649 273v4M649 345v4M649 353v1M649 374v2M649 404v3M651 3v3M651 9v9M651 270v4M651 378v3M651 393v3M651 411v3M652 182v7M652 277v4M652 293v4M652 313v4M652 333v4M652 359v1M652 393v1M653 270v3M653 293v4M653 309v4M653 375v3M654 276v2M654 387v1M654 399v1M655 270v4M655 330v4M655 404v3M655 414v4M656 358v2M656 386v1M656 396v2M657 52v6M657 272v4M657 296v4M657 322v2M657 352v2M657 360v3M659 34v3M659 274v1M659 311v4M659 331v4M659 364v3M659 376v3M659 394v3M660 363v3M660 378v2M660 393v3M661 325v4M661 368v3M661 374v3M661 389v3M663 5v3M663 183v2M663 324v1M663 345v8M663 363v3M663 384v6M664 363v3M664 393v3M664 410v1M665 46v3M665 274v8M665 286v4M665 294v4M665 306v4M665 392v3M665 413v3M667 193v2M667 198v2M667 285v4M667 325v8M667 419v1M669 271v8M669 307v4M669 325v2M669 335v4M669 343v8M669 370v3M669 406v3M670 222v1M670 293v4M670 345v4M670 412v3M671 270v3M671 325v8M671 392v3M671 413v1M672 190v2M672 195v2M672 380v3M672 401v3M672 407v3M673 270v2M673 292v4M673 300v4M673 340v4M673 348v4M673 360v3M673 372v9M673 399v3M673 406v2M673 412v2M675 1v1M675 53v3M675 308v2M675 376v3M676 358v2M677 297v4M677 313v4M679 58v6M679 190v2M679 195v2M679 276v4M679 300v4M679 324v8M679 351v1M679 408v3M681 9v3M681 286v4M681 306v1M681 361v1M681 370v2M681 376v3M681 390v1M682 377v3M682 383v3M682 412v1M682 419v1M683 58v3M683 365v3M683 410v1M684 270v4M684 282v1M684 294v4M684 346v3M684 409v3M685 41v3M685 277v4M685 333v4M685 361v3M685 382v2M687 294v4M687 330v4M687 400v6M689 13v3M689 326v1M689 331v8M689 419v1M691 45v3M691 54v3M691 60v3M691 281v4M691 309v4M691 321v4M691 329v4M693 39v3M693 68v4M693 272v6M693 288v4M693 296v4M693 336v2M693 350v2M693 390v6M694 368v6M695 18v2M695 402v3M695 416v1M697 274v4M699 278v1M699 285v1M699 302v8M699 400v3M701 28v3M701 34v6M701 270v3M701 303v2M701 317v8M701 341v4M701 349v4M701 378v3M701 402v3M701 417v1M703 279v4M703 291v4M703 380v1M705 285v6M705 345v3M705 363v9M705 384v6M705 420v6M705 432v6M705 441v1M705 450v3M707 276v3M707 291v3M707 315v3M707 321v3M707 333v9M707 351v6M707 375v3M707 393v6M707 405v6M707 438v3M707 444v3M709 282v3M709 309v3M709 321v12M709 342v6M709 363v3M709 399v6M709 423v3M709 435v3M709 441v1M709 450v3M711 276v3M711 291v3M711 312v6M711 366v6M711 375v12M711 411v3M711 432v3M711 447v9M713 438v4M713 445v3M715 438v4M715 445v3M717 438v4M717 447v1M719 441v1M719 447v1M721 438v4M721 445v3M723 438v4M723 445v3M725 438v4M725 445v3M727 438v3M727 445v3M729 441v1M729 445v3M731 438v4M731 445v2M733 445v2M735 447v1M737 445v2M739 438v4M739 447v1M741 438v4M741 445v2M743 441v1M743 445v2M745 445v2M747 438v4M747 445v2M749 438v4M749 445v3M751 445v2M753 438v4M753 447v1M757 438v3M761 438v4M761 445v2M763 447v1M765 438v3M767 447v1"/><path stroke="#00ffd8" d="M594 315v3M594 339v6M594 380v2M594 404v3M594 447v1M594 449v1M594 451v3M594 457v2M595 281v4M595 349v4M595 366v3M595 398v1M595 402v2M595 448v1M595 450v2M595 454v2M595 457v1M596 306v4M596 314v4M596 350v4M596 412v2M596 447v1M596 449v1M596 452v1M596 454v1M596 456v1M597 335v4M597 447v1M597 450v1M597 452v6M598 279v4M598 287v4M598 303v4M598 327v4M598 384v2M598 395v3M598 402v2M598 447v3M598 453v1M598 458v1M599 274v4M599 298v4M599 306v4M599 326v4M599 375v2M599 447v1M599 453v1M599 456v2M600 312v4M600 328v4M600 358v1M600 376v1M600 447v1M600 449v1M600 454v3M600 458v1M601 270v11M601 317v4M601 325v4M601 450v1M601 453v1M601 456v1M602 291v4M602 303v4M602 451v1M602 453v2M602 458v1M603 322v1M603 340v3M603 351v3M603 366v3M603 405v1M603 447v1M603 451v1M603 453v1M603 457v1M604 283v6M604 313v4M604 341v4M604 380v2M604 447v1M604 450v1M604 452v2M604 457v1M605 299v4M605 396v3M605 447v3M605 456v1M606 270v2M606 276v4M606 300v4M606 372v3M606 405v3M606 449v3M606 455v1M607 278v3M607 293v4M607 301v4M607 313v4M607 376v2M607 412v2M607 447v1M607 451v1M607 453v1M607 455v1M608 379v3M608 394v2M608 414v1M608 447v3M608 453v2M608 458v1M609 278v8M609 290v4M609 345v1M609 450v1M609 452v3M610 281v4M610 289v4M610 297v4M610 313v4M610 321v4M610 448v1M610 451v1M611 318v3M611 338v4M611 375v1M611 450v4M611 458v1M612 270v1M612 291v4M612 319v4M612 343v4M612 390v6M612 452v1M612 455v1M613 307v4M613 410v2M613 419v1M613 450v1M613 455v2M614 281v4M614 325v4M614 449v3M614 453v1M614 455v2M615 288v4M615 362v1M615 390v2M615 454v1M615 457v1M616 275v4M616 319v12M616 350v1M616 364v5M616 384v6M616 451v1M616 454v1M616 457v2M617 278v4M617 310v4M617 367v3M617 450v2M617 453v1M617 455v1M617 458v1M618 321v4M618 379v3M618 386v2M618 451v1M618 454v1M618 457v2M619 451v3M620 271v4M620 283v4M620 335v4M620 364v3M620 414v1M620 418v2M620 455v1M620 457v1M621 301v4M621 407v1M621 451v1M621 454v1M621 456v1M621 458v1M622 270v7M622 395v3M622 419v1M622 451v1M622 453v1M622 457v2M623 323v4M623 331v4M623 380v1M623 394v3M623 412v2M623 456v1M624 323v4M624 347v4M624 374v3M624 392v3M624 452v1M624 455v1M625 270v4M625 286v4M625 306v8M625 318v4M625 330v4M625 374v4M625 407v1M625 453v1M625 455v1M625 457v1M626 368v3M626 453v1M626 457v1M627 311v1M627 339v4M627 409v1M627 418v2M627 452v5M628 287v4M628 307v4M628 452v1M628 455v1M629 274v8M629 298v4M629 334v4M629 392v1M629 396v2M629 405v1M630 270v19M630 301v4M630 348v1M630 416v2M630 455v2M631 293v4M631 309v4M631 333v4M631 363v3M631 375v3M631 454v1M631 458v1M632 306v4M632 330v4M632 362v1M632 411v3M633 320v4M633 332v4M633 389v3M633 454v2M633 458v1M634 270v1M634 287v4M634 319v4M634 330v1M634 343v11M634 358v3M634 379v3M634 397v1M634 455v2M634 458v1M635 275v1M635 288v4M635 328v4M635 352v2M635 458v1M636 284v4M636 312v4M636 324v4M636 358v1M636 455v1M637 285v4M637 349v4M637 455v1M638 292v8M638 324v4M638 386v1M638 454v1M638 458v1M639 299v5M639 410v3M639 458v1M640 270v2M641 273v4M641 293v4M641 333v4M641 341v4M641 383v3M642 303v4M643 278v4M643 290v4M643 326v4M644 321v4M644 418v2M645 358v1M645 365v3M645 373v1M645 401v1M646 359v3M647 303v2M647 309v4M647 366v3M647 375v3M647 399v1M647 411v5M649 270v3M649 293v4M649 341v4M651 306v4M651 326v4M651 344v2M651 358v5M651 402v3M651 408v3M652 384v3M652 406v2M653 378v3M654 363v3M654 375v6M655 286v4M655 326v4M657 280v4M657 288v4M657 304v4M657 384v1M657 386v1M657 394v2M659 323v4M659 347v4M659 373v3M659 406v6M661 285v4M661 293v12M661 317v4M661 333v4M663 289v20M663 313v4M663 342v3M663 369v3M663 414v3M665 320v2M665 344v6M667 283v2M667 317v4M667 337v4M667 345v4M667 365v1M667 410v3M667 418v1M669 291v4M669 303v4M669 315v4M669 358v3M669 367v3M669 388v2M669 409v3M669 415v1M670 372v1M670 376v2M670 380v2M670 394v3M671 277v4M671 321v4M671 337v4M671 349v5M671 377v3M673 312v4M673 366v3M675 364v3M675 386v2M675 392v2M675 418v2M676 362v5M676 372v1M676 382v3M676 391v3M676 400v3M676 409v1M677 361v3M677 397v3M677 406v3M679 272v4M679 312v4M679 320v4M679 387v3M679 393v3M681 298v4M681 379v3M681 406v2M681 415v2M682 359v3M682 380v3M682 386v3M683 358v1M683 368v3M684 364v3M684 374v2M684 382v2M685 305v4M685 321v4M685 376v2M685 406v3M687 326v4M687 370v3M689 270v1M689 299v4M689 311v4M689 351v3M689 359v3M689 371v3M691 270v2M691 325v4M691 406v3M691 412v3M693 300v4M693 308v4M693 366v4M693 396v3M693 414v3M694 392v2M694 398v2M694 407v3M695 306v8M697 350v4M699 379v3M701 293v4M701 313v4M701 329v4M701 339v2M701 369v3M701 405v3M701 411v3M703 327v4M703 360v3M703 366v2M703 410v4M703 417v3M705 291v3M706 354v4M707 309v6M707 363v3M708 354v4M709 354v4M710 354v4M711 273v3M711 288v3M711 414v3M712 354v4M713 354v4M714 354v4M715 354v4M716 354v4M717 354v4M718 354v4M719 354v4M720 354v4M721 354v4M722 354v4M723 354v4M724 354v4M725 354v4M726 354v4M727 354v4M728 354v4M729 354v4M730 354v4M731 354v4M732 354v4M733 354v4M734 354v4M735 354v4M736 354v4M737 354v4M738 354v4M739 354v4M740 354v4M741 354v4M742 354v4M743 354v4M744 354v4M745 354v4M746 354v4M747 354v4M748 354v4M749 354v4M750 354v4M751 354v4M752 354v4M753 354v4M754 354v4M755 354v4M756 354v4M757 354v4M758 354v4M759 354v4M760 354v4M761 354v4M762 354v4M763 354v4M764 354v4M765 354v4M766 354v4M767 354v4"/><path stroke="#00ffc4" d="M594 270v4M594 298v5M594 327v3M594 365v3M595 279v2M595 337v2M595 358v2M595 390v3M595 408v3M596 322v4M596 334v1M597 270v1M597 351v3M597 375v1M597 402v2M598 315v3M598 343v4M598 362v3M598 413v3M598 419v1M599 346v4M599 380v1M599 406v2M600 292v4M600 344v4M600 362v3M600 410v2M601 281v8M601 345v4M601 369v3M601 378v3M602 271v4M602 289v2M602 325v2M602 367v3M602 403v1M602 406v3M603 323v4M603 365v1M603 369v2M603 396v3M604 317v4M604 385v1M604 414v1M605 303v4M605 315v4M605 375v3M605 385v2M606 280v4M606 288v4M606 344v4M606 381v3M607 349v4M607 364v3M607 403v3M608 274v8M608 286v2M608 306v4M608 314v10M608 336v2M608 342v4M608 361v3M608 378v1M609 286v4M609 358v1M609 410v3M610 383v3M611 294v4M611 310v4M611 342v4M611 387v6M612 283v4M612 327v1M612 366v3M612 411v3M613 315v4M613 343v4M613 371v3M614 301v4M614 309v4M614 383v1M614 396v3M615 296v4M615 336v3M615 352v2M615 366v3M615 380v1M616 271v4M616 339v4M616 406v2M616 417v3M617 282v5M617 361v6M617 408v1M618 362v5M618 373v3M618 402v1M619 295v4M619 323v4M620 291v4M620 327v4M620 415v3M621 297v4M621 345v4M621 359v3M621 368v3M622 294v3M622 309v3M622 342v3M622 404v6M623 282v1M623 291v4M623 299v1M623 364v3M623 397v3M624 271v4M624 287v4M624 317v2M624 358v1M625 358v1M625 404v3M625 411v2M626 309v4M626 358v1M626 385v1M626 404v3M627 275v4M628 337v2M628 343v4M628 373v3M628 379v3M628 406v2M629 314v8M629 400v2M630 309v8M630 321v4M630 341v1M630 364v3M630 373v1M630 412v2M631 277v4M631 417v1M632 338v4M632 363v1M632 375v3M632 408v3M633 288v4M633 328v4M633 352v2M634 291v4M634 367v3M634 385v3M635 381v3M636 296v4M636 316v4M636 365v3M637 270v3M637 281v4M637 289v4M637 313v4M637 333v4M637 345v4M638 376v1M639 279v1M640 308v1M640 328v4M640 404v1M640 414v2M641 317v4M641 377v3M642 275v4M642 291v4M642 307v4M642 315v4M642 331v7M643 342v4M644 289v4M644 349v1M644 412v3M645 337v4M645 345v4M645 380v2M645 409v1M645 419v1M646 358v1M646 362v3M647 273v4M647 281v4M647 327v2M647 360v3M647 369v3M647 410v1M649 297v8M649 309v4M649 386v2M649 419v1M651 387v3M652 416v1M653 285v4M653 297v4M653 334v3M653 346v3M653 353v1M653 384v3M653 405v1M654 360v3M654 418v2M655 278v4M657 284v4M657 308v2M657 328v4M657 378v3M657 408v3M659 287v4M659 299v4M659 379v3M661 281v4M661 309v8M661 341v4M663 317v1M663 406v2M665 298v4M667 301v4M667 313v4M667 321v4M667 349v4M667 392v6M669 287v4M669 327v4M669 339v4M669 366v1M669 379v3M670 358v3M670 367v1M670 373v1M670 382v6M671 281v8M671 293v4M671 313v4M671 371v3M671 410v3M673 296v4M673 328v4M673 338v2M673 369v3M673 381v1M673 384v2M675 274v8M675 346v4M676 385v3M676 406v3M676 415v3M677 281v4M677 317v5M677 358v3M677 384v4M677 414v1M679 280v4M679 288v3M679 344v1M679 358v2M679 382v2M679 399v3M679 417v3M681 282v4M681 350v4M681 358v3M681 374v2M683 275v4M683 311v4M683 359v3M684 361v3M684 370v2M685 281v4M685 289v4M685 337v12M685 409v3M687 274v4M687 282v4M687 310v1M687 338v3M687 350v4M687 388v3M689 386v3M689 392v3M689 404v3M691 278v3M691 289v4M691 317v4M691 353v1M691 358v3M691 418v2M693 284v4M693 304v4M693 387v3M693 411v3M695 274v4M695 298v4M695 326v4M695 346v4M695 411v3M697 270v4M697 282v4M697 302v4M699 412v3M701 289v4M701 309v4M703 271v4M703 301v2M703 323v4M703 370v2M703 375v1M703 387v3"/><path stroke="#00ffb1" d="M594 354v4M594 396v1M595 354v4M595 411v3M596 294v5M596 330v4M596 354v4M596 364v2M597 275v4M597 299v12M597 354v4M597 370v2M597 381v3M597 392v1M598 275v4M598 283v4M598 354v4M598 365v3M598 371v3M598 407v3M598 412v1M599 322v4M599 354v6M600 304v4M600 316v4M600 324v4M600 354v4M600 392v2M601 313v4M601 333v4M601 354v4M601 366v3M602 275v8M602 327v4M602 335v4M602 354v4M602 364v3M603 354v4M603 381v3M603 411v3M604 329v4M604 345v4M604 354v4M605 275v2M605 311v4M605 323v4M605 337v2M605 347v2M605 354v4M605 369v3M605 405v6M606 324v4M606 336v4M606 354v4M606 387v3M607 354v4M607 416v2M608 300v2M608 354v4M609 354v4M609 359v3M609 399v2M610 276v1M610 285v4M610 305v4M610 337v4M610 353v6M610 372v2M610 407v3M611 354v4M611 363v3M611 393v1M611 408v2M612 315v4M612 339v4M612 354v4M612 360v3M612 387v1M613 354v4M613 374v3M613 395v2M614 270v7M614 297v4M614 322v3M614 333v4M614 354v4M614 369v3M615 280v4M615 304v4M615 312v3M615 328v4M615 354v4M615 387v1M615 404v1M616 354v4M616 399v3M617 354v4M618 333v4M618 354v4M618 372v1M618 409v3M618 415v3M619 288v3M619 303v8M619 343v4M619 354v4M619 366v3M619 372v3M619 416v1M620 287v4M620 295v4M620 307v4M620 347v4M620 354v7M620 374v2M620 397v3M621 325v4M621 333v4M621 349v4M621 354v4M621 362v3M621 386v3M622 354v4M622 386v3M623 354v7M624 275v4M624 354v4M625 354v4M625 359v1M626 270v1M626 354v4M626 371v3M627 323v4M627 354v4M628 283v4M628 354v4M629 286v3M629 302v4M629 342v4M629 354v4M630 354v4M630 378v1M630 418v2M631 285v4M631 301v4M631 313v4M631 321v4M631 354v4M631 374v1M631 400v2M632 350v8M633 316v4M633 354v4M634 283v4M634 295v4M634 303v4M634 311v1M634 354v4M634 364v3M634 394v3M634 415v1M635 354v4M635 360v1M635 411v1M636 270v2M636 288v8M636 320v4M636 328v4M636 344v14M636 377v3M637 293v8M637 317v4M637 325v4M637 354v4M637 364v6M637 400v3M638 270v2M638 276v4M638 308v4M638 320v4M638 354v4M638 377v3M639 311v4M639 343v4M639 354v4M640 272v1M640 304v4M640 344v4M640 354v4M640 374v2M640 378v4M641 354v4M641 392v3M641 398v2M642 354v4M642 373v1M642 406v2M643 354v4M643 365v2M643 412v1M644 293v3M644 308v1M644 313v8M644 325v1M644 354v4M644 386v2M645 277v2M645 354v4M646 354v4M646 371v3M646 402v2M646 408v2M647 354v4M647 363v3M647 382v2M647 394v2M648 354v4M649 285v8M649 333v8M649 354v4M649 368v3M649 399v2M649 407v3M650 354v4M651 354v4M651 417v1M652 354v4M652 372v2M652 377v1M652 381v3M653 277v4M653 317v4M653 325v3M653 354v4M653 414v2M654 354v4M655 298v4M655 354v4M655 362v3M655 380v3M655 392v3M656 354v4M657 354v4M657 369v3M657 402v3M658 354v4M659 307v4M659 315v4M659 339v8M659 354v4M659 397v3M659 415v3M660 354v4M661 270v3M661 345v3M661 354v4M661 377v1M661 392v3M662 354v4M663 276v1M663 288v1M663 353v5M663 393v3M663 417v1M664 354v4M665 282v4M665 354v4M665 362v2M665 416v2M666 354v4M667 293v2M667 354v5M667 371v3M667 407v3M668 354v4M669 299v4M669 354v4M669 361v3M669 400v3M670 354v4M670 388v3M671 317v4M671 345v4M671 354v4M671 365v3M671 386v2M671 404v3M672 354v4M673 354v6M674 354v4M675 354v4M675 382v2M675 402v1M676 354v4M677 293v4M677 354v4M678 354v4M679 270v2M679 354v4M680 354v4M681 290v4M681 314v4M681 322v4M681 354v4M681 391v3M682 354v4M683 291v4M683 335v4M683 354v4M683 395v3M683 401v3M684 354v4M684 391v3M684 415v3M685 329v4M685 349v4M685 354v4M685 373v3M686 354v4M687 270v4M687 302v4M687 354v4M688 354v4M689 327v4M689 354v4M689 380v2M689 401v3M689 407v1M690 354v4M691 341v3M691 354v4M692 354v4M693 354v4M693 362v1M693 378v2M693 404v1M694 354v4M695 318v8M695 354v4M696 354v4M697 354v4M697 365v3M698 354v4M699 310v4M699 318v8M699 338v4M699 354v4M700 354v4M701 354v4M701 384v3M701 390v3M702 354v4M703 354v4M703 394v2M704 354v4"/><path stroke="#00ff9d" d="M594 392v2M594 410v2M595 363v3M595 378v3M595 399v1M596 360v2M596 378v3M596 396v3M597 360v3M597 372v3M597 386v1M598 394v1M598 406v1M599 320v2M599 342v4M599 387v2M599 410v1M600 288v4M600 332v4M600 352v2M600 396v1M600 414v2M602 270v1M602 373v1M603 360v2M603 414v2M604 325v4M604 353v1M605 271v4M605 295v4M605 319v4M605 327v4M605 339v8M606 284v4M606 328v8M606 399v1M606 418v2M607 285v4M607 317v3M607 337v4M607 353v1M608 358v3M608 384v1M608 400v1M609 390v2M609 408v2M611 358v2M611 378v2M612 287v4M612 335v4M613 279v4M613 311v4M613 331v4M613 418v1M614 337v4M614 378v2M614 410v1M615 270v2M615 332v4M615 345v3M615 372v2M615 414v6M616 369v1M617 404v2M618 289v8M618 349v4M619 279v3M619 315v4M619 335v4M619 351v3M619 405v1M620 382v2M621 270v7M621 309v4M621 321v4M621 337v4M621 404v3M621 410v3M622 418v1M623 367v3M623 373v1M624 270v1M624 279v4M624 291v4M624 299v4M624 339v4M624 351v2M624 383v3M624 419v1M625 383v6M625 413v1M626 289v4M626 321v4M626 407v1M627 300v3M627 347v4M627 379v3M628 303v4M628 365v3M629 270v4M629 310v4M629 322v4M629 411v1M631 270v3M631 297v4M631 305v4M631 329v4M631 369v3M632 270v8M632 334v4M633 407v1M633 416v2M634 370v2M635 316v4M635 332v4M635 340v4M636 405v2M637 277v4M637 408v1M638 312v4M638 390v2M638 413v1M639 310v1M639 351v3M640 285v3M640 300v4M640 316v4M640 340v4M640 348v3M640 365v3M640 386v3M641 277v4M641 353v1M641 380v3M641 413v3M642 364v3M642 385v6M642 400v2M643 362v3M643 380v3M643 390v4M643 407v3M645 309v4M645 325v4M645 362v3M645 414v2M647 372v3M647 396v3M647 404v2M649 358v1M649 378v5M651 396v2M651 400v2M653 273v4M653 289v4M653 305v4M653 337v3M653 398v4M655 274v4M655 290v4M655 318v2M655 398v3M657 363v3M657 368v1M657 375v3M657 414v2M659 385v3M661 273v8M661 321v4M661 329v4M661 416v3M663 325v4M663 396v2M663 412v2M665 380v3M667 305v4M667 359v1M667 378v2M671 358v1M671 407v1M675 361v3M675 367v3M675 388v2M677 270v3M677 333v4M677 380v2M679 284v4M679 332v4M679 340v4M679 372v6M679 392v1M681 274v4M681 302v4M681 403v3M683 273v2M683 323v8M683 390v2M685 302v3M685 309v8M685 370v3M685 380v2M685 403v1M687 385v3M687 394v2M687 398v2M689 283v4M689 410v2M691 403v3M691 409v1M693 358v2M693 363v1M693 372v3M693 382v2M693 417v3M695 294v4M695 302v4M695 334v4M695 405v1M697 278v4M697 380v2M697 398v3M699 270v4M699 286v4M699 297v1M699 326v4M701 358v5M701 381v3M701 414v3M703 287v4M703 311v2M703 335v4M703 390v2"/><path stroke="#00ff89" d="M595 372v3M596 341v1M596 384v2M596 388v2M598 358v1M598 388v1M599 338v4M599 372v3M600 340v4M600 368v3M600 382v1M601 418v2M602 301v2M602 307v8M602 370v3M602 376v3M603 378v3M603 384v2M604 373v3M604 391v1M604 402v3M605 270v1M606 292v8M606 352v2M607 386v2M608 367v3M608 398v2M608 409v3M609 365v6M609 377v3M612 295v3M612 323v4M612 375v3M612 406v2M612 414v6M613 358v1M613 390v2M614 341v4M615 324v4M616 408v2M617 373v3M617 385v3M618 394v6M618 412v3M620 370v2M621 293v4M621 329v4M621 341v4M621 365v3M621 377v6M621 402v2M622 368v3M622 380v3M622 389v3M624 283v4M624 362v3M625 395v1M625 398v2M625 417v1M626 277v4M626 325v4M626 359v3M626 374v2M626 412v1M627 303v4M627 318v1M627 327v3M627 336v3M627 343v4M627 351v3M628 370v3M629 295v3M629 338v4M629 360v2M629 404v1M629 410v1M629 417v3M630 358v3M630 388v2M631 402v3M632 302v4M633 362v2M633 380v3M633 404v3M633 413v1M634 408v1M635 299v5M635 312v4M635 336v4M635 348v4M635 414v3M636 380v3M636 400v1M636 413v3M638 359v6M638 400v1M639 347v4M639 362v3M640 362v3M640 400v1M641 371v2M641 376v1M641 412v1M642 372v1M642 391v3M642 397v1M643 383v2M643 402v5M643 419v1M644 281v8M644 358v2M644 406v2M645 368v2M645 392v2M647 384v6M649 365v1M649 401v3M653 349v4M653 363v3M653 369v1M653 387v3M655 386v3M657 270v2M657 324v4M659 358v3M659 382v3M659 391v3M659 418v2M661 337v4M661 383v1M661 401v1M663 360v3M665 404v3M667 309v4M667 404v3M669 382v3M669 394v3M673 388v5M673 408v2M675 373v3M677 273v4M677 349v3M677 374v2M677 388v3M677 403v1M679 304v4M679 384v3M683 283v8M683 295v4M683 386v2M683 406v1M683 416v2M685 317v4M685 353v1M685 358v3M685 364v2M685 397v1M687 293v1M687 368v2M689 271v4M689 279v4M689 287v3M689 296v3M689 307v4M689 418v1M691 361v5M691 379v3M691 388v3M693 410v1M695 286v4M695 410v1M697 286v4M697 294v2M697 318v2M697 338v8M697 362v3M697 371v1M699 358v3M699 367v1M703 399v3"/><path stroke="#00ff76" d="M594 422v2M594 434v2M594 438v6M595 430v2M595 440v2M596 420v3M596 426v2M596 436v2M596 440v2M596 444v1M597 378v3M597 387v3M597 405v2M597 417v3M597 434v2M598 377v1M598 389v3M598 398v1M598 420v3M598 428v2M598 432v2M598 438v2M599 384v2M599 393v1M599 420v2M599 432v2M599 438v2M600 371v3M600 408v1M600 432v2M600 436v2M601 382v2M601 390v1M601 392v2M601 396v2M601 405v5M601 424v4M601 430v2M601 436v2M601 440v2M602 388v1M602 420v1M602 430v2M602 440v2M603 420v1M603 424v2M603 428v2M603 432v4M604 361v3M604 394v2M604 405v1M604 423v1M604 436v2M605 387v3M605 393v3M605 399v3M605 411v3M605 418v3M605 424v2M605 432v2M605 438v2M605 442v2M605 446v1M606 430v2M606 434v2M607 358v3M607 379v2M607 391v3M607 406v1M607 420v1M607 426v2M607 434v2M607 438v6M608 415v3M608 434v8M609 387v3M609 426v2M609 444v1M610 416v3M610 420v2M610 426v2M610 432v2M610 438v2M611 415v2M611 424v2M611 428v2M611 434v2M612 400v2M612 426v4M612 436v2M612 442v2M612 448v1M613 382v2M613 422v1M613 438v4M613 448v1M614 277v4M614 293v4M614 349v4M614 399v3M614 426v4M614 432v2M614 440v4M615 358v2M615 377v1M615 402v2M615 407v1M615 425v3M615 432v2M615 440v2M616 382v2M616 428v2M616 434v2M616 438v2M616 442v4M616 449v1M617 430v2M618 382v1M618 390v2M618 428v2M618 432v4M618 442v2M619 389v1M619 420v2M619 428v2M619 440v2M620 361v3M620 380v2M620 388v6M620 420v4M620 430v4M620 438v6M621 389v3M621 395v3M621 420v2M621 438v2M622 358v3M622 362v3M622 383v1M622 420v2M622 426v1M622 429v5M622 438v2M622 442v6M623 370v2M623 403v1M623 424v2M623 432v2M623 436v2M624 319v4M624 331v4M624 377v3M624 420v4M624 426v2M624 430v2M624 446v2M625 363v1M625 392v3M625 426v2M625 438v2M626 329v4M626 419v1M626 424v2M626 428v1M626 446v2M627 385v3M627 428v1M628 358v1M628 362v2M628 422v4M628 436v2M628 440v2M628 446v2M629 369v4M629 375v1M629 382v1M629 426v2M629 434v2M629 440v6M630 408v2M630 420v2M630 424v2M630 436v4M630 448v2M631 358v2M631 378v1M631 387v1M631 390v3M631 407v1M631 433v1M631 442v2M631 446v2M632 278v4M632 310v8M632 369v3M632 378v3M632 414v2M632 424v2M632 428v2M632 434v2M632 444v2M632 448v2M633 420v4M633 428v2M633 448v2M634 374v2M634 422v4M634 436v2M635 304v1M635 408v3M635 426v2M635 434v2M635 438v2M635 450v1M636 383v3M636 409v2M636 426v2M636 438v4M636 446v2M636 450v1M637 370v3M637 403v3M637 416v2M637 420v6M637 440v2M637 446v4M638 370v2M638 410v3M638 428v2M638 434v6M638 444v6M639 315v4M639 358v1M639 374v2M639 379v2M639 420v8M639 438v2M639 444v6M640 397v2M640 401v3M640 408v2M640 436v2M640 440v2M640 450v2M640 454v2M641 373v1M641 388v1M641 407v2M641 420v2M641 426v6M641 450v1M641 458v1M642 376v2M642 404v2M642 426v2M642 440v2M642 444v2M642 448v2M643 396v2M643 438v2M643 442v2M643 454v2M644 362v2M644 365v2M644 394v3M644 402v1M644 420v4M644 435v1M644 438v2M644 442v8M644 458v1M645 377v3M645 418v1M645 422v4M645 440v2M645 444v4M646 378v2M646 414v2M646 422v4M646 435v3M646 448v2M646 454v2M647 418v2M647 426v2M647 440v2M647 446v2M647 452v2M647 456v2M648 438v6M648 446v2M649 371v3M649 392v2M649 413v1M649 426v4M649 432v1M649 436v2M649 442v6M649 458v1M651 375v3M652 364v1M652 374v3M654 405v1M655 310v4M655 344v6M655 389v3M655 395v1M657 390v2M659 370v3M659 400v3M659 412v3M661 371v3M661 398v3M663 366v3M663 375v1M665 290v4M665 310v4M665 370v1M665 386v3M667 380v3M669 374v2M669 392v2M669 414v1M671 368v3M671 374v3M671 390v2M671 416v2M677 394v3M677 409v1M679 378v2M679 396v3M681 385v3M683 362v3M683 383v3M683 407v3M687 358v3M687 376v6M687 412v3M687 418v2M689 303v4M689 384v2M689 395v3M689 400v1M691 382v3M693 399v3M695 270v4M695 342v4M695 350v4M695 368v1M695 399v3M695 417v3M697 310v8M697 346v4M697 386v2M697 395v3M699 361v3M699 415v3M703 372v3M703 381v3"/><path stroke="#00ff62" d="M594 373v2M594 383v2M594 389v2M594 397v2M596 369v3M596 399v2M596 417v3M597 410v1M598 359v3M598 399v1M599 363v3M599 377v3M600 380v2M600 406v2M601 360v3M601 384v2M602 396v4M602 412v1M603 364v1M603 371v1M603 376v1M603 418v1M604 358v3M604 367v2M605 363v3M605 378v3M605 384v1M606 358v2M606 390v6M606 408v3M607 401v2M608 402v2M608 406v3M609 407v1M610 362v3M610 377v6M610 398v2M610 404v3M610 414v2M611 372v1M612 386v1M613 359v3M613 386v2M613 392v3M613 397v1M613 414v1M615 381v1M615 399v3M615 405v2M616 372v1M616 403v3M617 382v1M618 376v3M619 364v2M619 375v3M619 384v2M619 399v3M619 404v1M620 376v4M620 403v1M621 392v3M621 399v2M622 361v1M623 372v1M623 408v1M624 380v3M625 360v1M625 414v3M626 384v1M626 386v3M626 415v1M627 364v3M627 390v2M627 396v2M628 360v1M628 364v1M628 400v3M628 418v1M630 386v2M630 396v1M631 405v2M632 358v2M632 406v2M633 359v3M633 394v2M634 361v3M634 416v2M635 362v2M636 374v3M636 386v3M636 407v2M636 416v1M636 419v1M637 361v1M637 379v3M637 414v1M638 365v1M638 383v3M638 404v3M639 391v2M640 419v1M641 409v1M641 419v1M643 367v1M643 378v1M643 385v1M644 370v3M644 376v3M644 415v3M645 359v1M645 371v2M645 405v4M646 380v2M646 416v1M649 416v3M650 363v2M650 383v2M650 413v4M652 358v1M653 359v1M655 334v4M655 410v2M657 381v3M659 403v3M661 364v1M661 419v1M663 381v3M663 390v3M665 360v2M665 371v3M665 395v3M665 407v3M667 362v3M667 389v3M671 359v3M671 401v3M679 405v3M681 368v2M681 402v1M681 410v2M691 402v1M691 415v3M697 419v1M699 376v3M699 397v3M699 410v2M703 396v3"/><path stroke="#00ff4e" d="M594 388v1M596 401v1M596 406v4M596 416v1M597 407v1M599 366v6M599 383v1M599 390v3M599 414v3M600 388v2M600 397v1M601 381v1M601 402v3M602 385v3M602 389v2M603 362v2M603 416v2M604 369v3M604 387v1M604 396v3M604 406v2M605 366v3M605 382v2M606 366v3M607 373v3M607 381v1M609 381v2M609 405v2M610 389v3M611 405v2M612 363v3M612 381v1M613 401v3M614 368v1M614 394v1M614 408v2M614 411v3M615 369v3M617 383v2M618 358v3M618 406v3M618 418v1M619 387v2M619 397v2M619 417v1M621 398v1M622 393v2M624 371v3M624 386v4M624 405v3M624 415v2M625 408v1M626 380v2M626 413v2M627 404v2M627 415v3M628 376v3M628 386v2M628 410v2M628 416v2M630 385v1M630 400v2M630 404v2M631 361v2M631 366v3M631 384v3M631 393v1M632 405v1M633 368v3M633 374v1M633 376v4M633 386v1M633 388v1M633 396v4M635 358v2M635 378v3M635 385v3M635 390v2M635 404v2M637 362v2M637 376v3M637 386v2M637 394v2M637 410v4M638 366v4M638 387v1M638 392v3M638 401v3M638 407v1M639 383v3M640 389v3M640 396v1M640 405v3M640 413v1M640 416v1M641 360v2M641 403v1M641 406v1M641 410v2M641 416v3M642 359v1M642 378v1M643 368v2M644 379v1M644 388v3M645 383v2M645 386v6M645 403v2M646 386v1M646 396v6M647 391v3M649 396v2M650 361v2M650 365v2M650 382v1M650 412v1M650 417v1M652 362v2M652 410v3M653 366v3M653 393v3M654 370v1M657 405v3M661 359v3M661 408v2M663 358v2M679 363v3M679 414v3M681 382v3M683 374v2M687 391v3M689 362v3M689 389v1M689 414v2M691 370v2M691 376v3M691 394v3M695 384v3M699 370v3M699 385v3M703 414v3"/><path stroke="#00ff3b" d="M594 375v1M594 382v1M594 401v2M594 424v2M594 448v1M594 450v1M594 454v3M595 423v3M595 447v1M595 449v1M595 452v2M595 456v1M595 458v1M596 381v3M596 423v3M596 448v1M596 450v2M596 453v1M596 455v1M596 457v2M597 423v2M597 448v2M597 451v1M597 458v1M598 400v2M598 423v2M598 450v3M598 454v4M599 389v1M599 422v3M599 448v5M599 454v2M599 458v1M600 377v1M600 379v1M600 422v2M600 448v1M600 450v4M600 457v1M601 391v1M601 422v2M601 447v3M601 451v2M601 454v2M601 457v2M602 379v3M602 391v3M602 409v1M602 413v2M602 421v3M602 447v4M602 452v1M602 455v3M603 388v1M603 421v3M603 448v3M603 452v1M603 454v3M603 458v1M604 372v1M604 421v2M604 448v2M604 451v1M604 454v3M604 458v1M605 360v3M605 421v2M605 450v6M605 457v2M606 384v3M606 404v1M606 414v2M606 421v2M606 447v2M606 452v3M606 456v3M607 368v5M607 400v1M607 407v2M607 419v1M607 421v3M607 448v3M607 452v1M607 454v1M607 456v3M608 401v1M608 422v2M608 450v3M608 455v3M609 383v1M609 396v3M609 422v2M609 448v2M609 451v1M609 455v4M610 422v2M610 449v2M610 452v7M611 373v2M611 407v1M611 414v1M611 422v2M611 448v2M611 454v4M612 369v1M612 372v3M612 384v2M612 396v2M612 422v3M612 449v3M612 453v2M612 456v3M613 362v3M613 380v2M613 384v1M613 412v2M613 415v1M613 423v2M613 449v1M613 451v4M613 457v2M614 360v6M614 380v3M614 417v3M614 423v2M614 452v1M614 454v1M614 457v2M615 378v2M615 394v2M615 423v2M615 449v5M615 455v2M615 458v1M616 370v2M616 424v2M616 450v1M616 452v2M616 455v2M617 424v3M617 452v1M617 454v1M617 456v2M618 419v1M618 425v2M618 450v1M618 452v2M618 455v2M619 396v1M619 411v3M619 425v3M619 450v1M619 454v5M620 426v2M620 451v4M620 456v1M620 458v1M621 358v1M621 383v1M621 413v1M621 426v3M621 452v2M621 455v1M621 457v1M622 392v1M622 427v2M622 452v1M622 454v3M623 404v4M623 427v3M623 451v5M623 457v2M624 410v2M624 428v2M624 451v1M624 453v2M624 456v3M625 361v2M625 409v2M625 428v3M625 452v1M625 454v1M625 456v1M625 458v1M626 378v1M626 382v2M626 389v1M626 392v3M626 416v2M626 429v2M626 452v1M626 454v3M626 458v1M627 389v1M627 394v2M627 429v3M627 457v2M628 392v3M628 412v1M628 430v2M628 453v2M628 456v3M629 383v2M629 431v2M629 452v7M630 361v3M630 394v2M630 402v2M630 431v2M630 453v2M630 457v2M631 379v2M631 396v2M631 408v9M631 431v2M631 453v1M631 455v3M632 372v3M632 431v2M632 453v6M633 392v2M633 431v3M633 453v1M633 456v2M634 418v1M634 431v3M634 453v2M634 457v1M635 361v1M635 375v3M635 403v1M635 431v3M635 454v4M636 417v2M636 431v3M636 454v1M636 456v3M637 396v1M637 432v2M637 454v1M637 456v3M638 432v2M638 455v3M639 378v1M639 386v3M639 390v1M639 417v3M639 432v2M639 454v4M640 394v1M640 417v2M640 432v2M641 367v1M641 374v2M641 389v3M641 432v2M642 358v1M642 379v2M642 432v2M643 386v2M643 432v3M644 367v1M644 373v3M644 403v3M644 432v3M645 382v1M645 432v3M646 382v2M646 432v3M647 433v2M648 401v1M648 433v2M649 398v1M649 433v2M653 381v3M653 402v3M654 403v2M655 383v3M657 387v3M657 400v2M661 395v3M665 402v2M665 410v3M667 368v3M667 383v6M667 398v2M667 413v3M677 400v3M677 415v3M679 402v3M683 371v3M683 392v3M685 394v3M689 377v1M695 364v2M695 372v3M695 387v3M695 392v4M697 358v1M697 377v3"/><path stroke="#00ff27" d="M594 399v2M596 372v3M599 381v2M599 396v1M599 398v1M599 402v2M600 398v2M601 386v2M602 361v3M602 418v2M603 372v4M603 386v2M604 388v2M605 414v2M606 360v3M607 388v3M607 418v1M612 402v2M613 368v3M613 398v2M613 404v3M614 387v1M614 392v2M614 407v1M615 408v2M618 383v2M618 403v3M620 404v2M621 401v1M624 414v1M624 417v2M626 362v3M626 379v1M626 401v3M626 418v1M627 373v6M628 388v1M629 373v2M629 376v2M629 387v3M629 393v1M631 360v1M632 384v3M632 390v3M633 371v3M633 400v1M633 410v3M633 419v1M635 364v2M635 384v1M635 396v2M636 402v3M637 409v1M638 388v2M639 408v2M640 411v2M641 364v3M641 404v2M643 376v2M644 368v2M645 370v1M646 384v2M648 402v2M650 426v1M650 433v1M650 443v1M651 426v1M651 433v1M653 358v1M653 372v3M653 424v1M653 458v1M654 371v2M654 424v1M654 432v1M654 441v1M654 449v1M654 458v1M655 449v1M655 458v1M656 439v2M656 456v1M657 418v2M657 431v1M657 447v1M658 439v2M658 447v1M659 447v1M660 439v1M660 448v1M660 455v1M661 380v3M661 421v1M661 447v1M661 456v1M662 421v1M662 429v1M662 438v1M662 455v2M664 422v1M664 446v1M666 429v1M666 455v1M667 422v1M667 430v1M667 439v1M667 447v1M668 430v1M668 437v1M668 446v2M668 455v1M669 429v2M669 446v1M670 422v1M670 437v1M670 447v1M671 429v2M672 420v1M672 430v1M672 437v1M672 446v1M673 430v1M673 446v1M674 430v1M674 446v1M674 455v1M676 421v2M676 439v1M676 454v1M676 456v1M677 368v2M677 429v1M677 439v1M677 454v1M678 421v1M678 429v1M678 455v2M679 368v1M679 439v1M679 447v1M679 455v1M680 420v2M681 421v1M681 446v1M681 455v1M683 378v2M683 422v1M683 429v1M683 431v1M683 447v2M683 456v1M684 421v1M684 430v2M684 448v1M684 456v1M685 439v1M685 446v1M685 455v1M686 447v1M686 455v2M687 430v2M688 429v1M688 431v1M688 446v1M688 456v1M689 376v1M689 429v1M689 446v1M689 456v1M690 422v2M690 440v1M691 423v1M691 447v1M691 455v1M692 423v1M692 432v1M693 422v1M693 449v1M694 423v2M694 431v1M694 439v1M694 441v1M694 458v1M695 369v3M695 375v3M695 457v1M696 448v2M697 359v3M697 376v1M697 418v1M697 449v1M698 449v1M698 458v1M699 450v1M700 433v1M700 442v1M700 458v1M701 426v1M701 443v1M702 425v1M702 451v1M703 425v2M703 434v1M704 424v1M704 443v1"/><path stroke="#00ff14" d="M602 415v3M624 395v3M627 370v3M627 388v1M635 366v3M635 417v3M639 413v3M650 434v1M650 450v2M651 424v1M651 443v1M651 451v1M652 424v2M652 432v1M652 434v1M653 360v3M653 390v3M653 441v2M654 433v1M654 440v1M655 423v2M655 433v1M655 440v1M656 422v1M656 458v1M657 422v1M658 422v2M658 431v1M659 421v1M659 430v1M659 438v1M659 448v1M659 455v1M660 429v3M660 438v1M660 447v1M661 431v1M662 439v1M663 447v1M664 429v2M664 438v2M664 455v1M665 383v1M665 421v1M665 446v1M666 438v2M666 454v1M667 421v1M668 420v1M668 429v1M669 420v1M670 421v1M670 438v1M670 456v1M671 421v1M671 437v2M672 421v1M672 438v1M672 455v1M673 429v1M673 454v2M674 421v1M674 437v1M674 447v1M675 456v1M676 420v1M676 437v1M677 455v1M678 422v1M678 430v1M678 437v1M678 439v1M678 454v1M679 438v1M679 446v1M680 437v1M680 439v1M680 447v1M680 454v1M681 429v2M681 438v1M682 446v1M682 456v1M683 421v1M683 446v1M684 422v1M684 429v1M684 455v1M685 368v2M685 431v1M685 448v1M686 421v2M686 431v1M687 421v1M687 439v1M688 422v1M689 438v2M689 448v1M690 430v1M690 447v1M690 455v1M691 421v1M691 430v2M691 440v1M691 448v1M692 422v1M692 449v1M693 423v1M693 431v1M693 439v1M694 440v1M694 449v1M694 457v1M695 360v2M695 423v1M695 433v1M695 448v2M696 423v1M697 412v4M697 423v2M698 424v1M698 441v1M699 432v1M699 434v1M699 449v1M700 424v1M701 434v1M701 442v1M701 450v2M702 443v1M702 450v1M702 458v1M703 424v1M703 433v1M703 442v1M703 451v1M704 441v1M704 450v1"/><path stroke="#00ff00" d="M614 375v3M614 386v1M614 390v2M627 361v3M627 367v1M627 392v2M627 400v2M627 406v3M627 412v3M639 365v3M639 371v3M639 381v2M650 435v1M650 442v1M651 434v1M651 441v2M651 450v1M652 433v1M652 442v1M652 458v1M653 432v2M653 450v1M654 423v1M654 442v1M654 450v1M654 457v1M655 360v2M655 365v1M655 374v2M655 378v2M655 432v1M656 423v1M656 431v1M656 441v1M656 457v1M657 423v1M657 440v1M657 448v1M657 456v2M658 456v1M659 422v2M659 439v1M660 421v1M661 429v2M661 438v1M661 448v1M662 422v1M662 430v1M662 446v1M663 422v1M663 430v2M663 438v2M663 448v1M663 456v1M664 421v1M664 431v1M664 448v1M664 456v1M665 429v1M666 430v1M666 437v1M666 447v1M666 456v1M667 420v1M667 438v1M667 446v1M667 454v2M668 421v2M668 439v1M668 454v1M668 456v1M669 421v2M669 437v1M669 456v1M670 420v1M670 446v1M670 454v1M671 420v1M671 447v1M672 429v1M672 447v1M672 454v1M673 421v1M673 437v1M673 447v1M674 420v1M674 422v1M674 456v1M675 430v1M675 446v1M676 430v1M676 446v1M677 420v1M677 430v1M677 437v1M677 456v1M679 429v1M679 437v1M679 456v1M680 446v1M681 422v1M681 439v1M682 421v2M682 430v1M682 438v1M682 447v1M682 455v1M683 430v1M683 439v1M683 455v1M684 438v2M684 446v2M685 422v1M685 438v1M685 456v1M686 429v2M686 439v1M687 422v1M687 438v1M687 446v2M688 421v1M688 430v1M688 447v2M689 422v1M689 430v2M689 447v1M689 455v1M690 421v1M691 439v1M691 456v1M692 440v1M692 447v1M693 440v1M694 422v1M694 432v1M695 431v1M695 440v2M695 450v1M696 424v1M696 431v1M696 450v1M696 457v1M697 368v3M697 404v3M697 433v1M697 440v3M697 450v1M697 457v1M698 432v2M698 450v1M699 425v1M699 441v2M700 425v1M700 434v1M700 441v1M701 424v2M701 441v1M702 426v1M702 434v1M702 441v2M703 441v1M703 443v1M703 458v1M704 426v1M704 433v2M704 451v1"/><path stroke="#2aff00" d="M627 382v3M650 425v1M650 452v1M651 425v1M652 441v1M653 449v1M654 425v1M655 448v1M656 448v1M657 439v1M658 430v1M659 431v1M659 456v2M661 455v1M662 431v1M663 429v1M663 446v1M665 439v1M665 455v1M666 422v1M666 446v1M667 456v1M669 447v1M669 454v2M670 439v1M671 454v1M673 420v1M674 438v2M676 438v1M676 447v1M677 421v2M678 420v1M678 446v2M679 420v1M679 422v1M679 430v1M679 454v1M680 430v1M680 455v1M681 447v1M682 429v1M685 430v1M685 447v1M686 446v1M686 448v1M687 429v1M687 455v2M689 421v1M690 431v1M690 439v1M691 457v1M692 430v2M692 456v2M693 432v1M694 448v1M694 456v1M695 424v1M695 432v1M695 458v1M696 433v1M696 441v1M697 458v1M699 451v1M701 433v1M701 458v1M702 424v1M704 425v1"/><path stroke="#a7ff00" d="M594 445v2M595 445v2M596 445v2M597 444v3M598 444v3M599 444v3M600 444v3M601 444v3M602 444v2M603 444v2M604 444v2M605 444v2M606 444v3M607 444v3M608 445v2M609 445v2M610 445v3M611 446v2M612 446v2M613 446v2M614 446v3M615 447v2M616 447v2M617 447v3M618 447v3M619 448v2M620 448v2M621 448v2M622 448v3M623 449v2M624 449v2M625 449v2M626 449v2M627 449v3M628 450v2M629 450v2M630 450v2M631 450v2M632 450v3M633 451v2M634 451v2M635 451v2M636 451v2M637 451v3M638 452v2M639 452v2M640 452v2M641 451v3M642 451v2M643 451v2M644 450v3M645 450v3M646 450v2M647 450v2M648 449v3M649 449v2"/></g>
<rect x="897" y="156" width="31" height="456" fill="url(#cbg)"/>
<g fill="#000"><rect x="128" y="153" width="641" height="2" fill="#000"/><rect x="128" y="614" width="641" height="1" fill="#000"/><rect x="128" y="153" width="1" height="462" fill="#000"/><rect x="768" y="153" width="1" height="462" fill="#000"/><rect x="139" y="146" width="1" height="7" fill="#000"/><rect x="139" y="615" width="1" height="7" fill="#000"/><rect x="168" y="139" width="1" height="14" fill="#000"/><rect x="168" y="615" width="1" height="14" fill="#000"/><rect x="197" y="146" width="1" height="7" fill="#000"/><rect x="197" y="615" width="1" height="7" fill="#000"/><rect x="226" y="146" width="1" height="7" fill="#000"/><rect x="226" y="615" width="1" height="7" fill="#000"/><rect x="255" y="146" width="1" height="7" fill="#000"/><rect x="255" y="615" width="1" height="7" fill="#000"/><rect x="284" y="146" width="1" height="7" fill="#000"/><rect x="284" y="615" width="1" height="7" fill="#000"/><rect x="313" y="139" width="1" height="14" fill="#000"/><rect x="313" y="615" width="1" height="14" fill="#000"/><rect x="342" y="146" width="1" height="7" fill="#000"/><rect x="342" y="615" width="1" height="7" fill="#000"/><rect x="372" y="146" width="1" height="7" fill="#000"/><rect x="372" y="615" width="1" height="7" fill="#000"/><rect x="401" y="146" width="1" height="7" fill="#000"/><rect x="401" y="615" width="1" height="7" fill="#000"/><rect x="430" y="146" width="1" height="7" fill="#000"/><rect x="430" y="615" width="1" height="7" fill="#000"/><rect x="459" y="139" width="1" height="14" fill="#000"/><rect x="459" y="615" width="1" height="14" fill="#000"/><rect x="488" y="146" width="1" height="7" fill="#000"/><rect x="488" y="615" width="1" height="7" fill="#000"/><rect x="517" y="146" width="1" height="7" fill="#000"/><rect x="517" y="615" width="1" height="7" fill="#000"/><rect x="546" y="146" width="1" height="7" fill="#000"/><rect x="546" y="615" width="1" height="7" fill="#000"/><rect x="575" y="146" width="1" height="7" fill="#000"/><rect x="575" y="615" width="1" height="7" fill="#000"/><rect x="605" y="139" width="1" height="14" fill="#000"/><rect x="605" y="615" width="1" height="14" fill="#000"/><rect x="634" y="146" width="1" height="7" fill="#000"/><rect x="634" y="615" width="1" height="7" fill="#000"/><rect x="663" y="146" width="1" height="7" fill="#000"/><rect x="663" y="615" width="1" height="7" fill="#000"/><rect x="692" y="146" width="1" height="7" fill="#000"/><rect x="692" y="615" width="1" height="7" fill="#000"/><rect x="721" y="146" width="1" height="7" fill="#000"/><rect x="721" y="615" width="1" height="7" fill="#000"/><rect x="750" y="139" width="1" height="14" fill="#000"/><rect x="750" y="615" width="1" height="14" fill="#000"/><rect x="118" y="153" width="10" height="1" fill="#000"/><rect x="769" y="153" width="10" height="1" fill="#000"/><rect x="118" y="162" width="10" height="1" fill="#000"/><rect x="769" y="162" width="10" height="1" fill="#000"/><rect x="118" y="170" width="10" height="1" fill="#000"/><rect x="769" y="170" width="10" height="1" fill="#000"/><rect x="118" y="179" width="10" height="1" fill="#000"/><rect x="769" y="179" width="10" height="1" fill="#000"/><rect x="118" y="187" width="10" height="1" fill="#000"/><rect x="769" y="187" width="10" height="1" fill="#000"/><rect x="109" y="196" width="19" height="1" fill="#000"/><rect x="769" y="196" width="19" height="1" fill="#000"/><rect x="118" y="204" width="10" height="1" fill="#000"/><rect x="769" y="204" width="10" height="1" fill="#000"/><rect x="118" y="213" width="10" height="1" fill="#000"/><rect x="769" y="213" width="10" height="1" fill="#000"/><rect x="118" y="221" width="10" height="1" fill="#000"/><rect x="769" y="221" width="10" height="1" fill="#000"/><rect x="118" y="230" width="10" height="1" fill="#000"/><rect x="769" y="230" width="10" height="1" fill="#000"/><rect x="118" y="238" width="10" height="1" fill="#000"/><rect x="769" y="238" width="10" height="1" fill="#000"/><rect x="118" y="247" width="10" height="1" fill="#000"/><rect x="769" y="247" width="10" height="1" fill="#000"/><rect x="118" y="255" width="10" height="1" fill="#000"/><rect x="769" y="255" width="10" height="1" fill="#000"/><rect x="118" y="264" width="10" height="1" fill="#000"/><rect x="769" y="264" width="10" height="1" fill="#000"/><rect x="118" y="272" width="10" height="1" fill="#000"/><rect x="769" y="272" width="10" height="1" fill="#000"/><rect x="109" y="281" width="19" height="1" fill="#000"/><rect x="769" y="281" width="19" height="1" fill="#000"/><rect x="118" y="289" width="10" height="1" fill="#000"/><rect x="769" y="289" width="10" height="1" fill="#000"/><rect x="118" y="298" width="10" height="1" fill="#000"/><rect x="769" y="298" width="10" height="1" fill="#000"/><rect x="118" y="306" width="10" height="1" fill="#000"/><rect x="769" y="306" width="10" height="1" fill="#000"/><rect x="118" y="315" width="10" height="1" fill="#000"/><rect x="769" y="315" width="10" height="1" fill="#000"/><rect x="118" y="323" width="10" height="1" fill="#000"/><rect x="769" y="323" width="10" height="1" fill="#000"/><rect x="118" y="332" width="10" height="1" fill="#000"/><rect x="769" y="332" width="10" height="1" fill="#000"/><rect x="118" y="340" width="10" height="1" fill="#000"/><rect x="769" y="340" width="10" height="1" fill="#000"/><rect x="118" y="349" width="10" height="1" fill="#000"/><rect x="769" y="349" width="10" height="1" fill="#000"/><rect x="118" y="357" width="10" height="1" fill="#000"/><rect x="769" y="357" width="10" height="1" fill="#000"/><rect x="109" y="366" width="19" height="1" fill="#000"/><rect x="769" y="366" width="19" height="1" fill="#000"/><rect x="118" y="375" width="10" height="1" fill="#000"/><rect x="769" y="375" width="10" height="1" fill="#000"/><rect x="118" y="383" width="10" height="1" fill="#000"/><rect x="769" y="383" width="10" height="1" fill="#000"/><rect x="118" y="392" width="10" height="1" fill="#000"/><rect x="769" y="392" width="10" height="1" fill="#000"/><rect x="118" y="400" width="10" height="1" fill="#000"/><rect x="769" y="400" width="10" height="1" fill="#000"/><rect x="118" y="409" width="10" height="1" fill="#000"/><rect x="769" y="409" width="10" height="1" fill="#000"/><rect x="118" y="417" width="10" height="1" fill="#000"/><rect x="769" y="417" width="10" height="1" fill="#000"/><rect x="118" y="426" width="10" height="1" fill="#000"/><rect x="769" y="426" width="10" height="1" fill="#000"/><rect x="118" y="434" width="10" height="1" fill="#000"/><rect x="769" y="434" width="10" height="1" fill="#000"/><rect x="118" y="443" width="10" height="1" fill="#000"/><rect x="769" y="443" width="10" height="1" fill="#000"/><rect x="109" y="451" width="19" height="1" fill="#000"/><rect x="769" y="451" width="19" height="1" fill="#000"/><rect x="118" y="460" width="10" height="1" fill="#000"/><rect x="769" y="460" width="10" height="1" fill="#000"/><rect x="118" y="468" width="10" height="1" fill="#000"/><rect x="769" y="468" width="10" height="1" fill="#000"/><rect x="118" y="477" width="10" height="1" fill="#000"/><rect x="769" y="477" width="10" height="1" fill="#000"/><rect x="118" y="485" width="10" height="1" fill="#000"/><rect x="769" y="485" width="10" height="1" fill="#000"/><rect x="118" y="494" width="10" height="1" fill="#000"/><rect x="769" y="494" width="10" height="1" fill="#000"/><rect x="118" y="502" width="10" height="1" fill="#000"/><rect x="769" y="502" width="10" height="1" fill="#000"/><rect x="118" y="511" width="10" height="1" fill="#000"/><rect x="769" y="511" width="10" height="1" fill="#000"/><rect x="118" y="519" width="10" height="1" fill="#000"/><rect x="769" y="519" width="10" height="1" fill="#000"/><rect x="118" y="528" width="10" height="1" fill="#000"/><rect x="769" y="528" width="10" height="1" fill="#000"/><rect x="109" y="536" width="19" height="1" fill="#000"/><rect x="769" y="536" width="19" height="1" fill="#000"/><rect x="118" y="545" width="10" height="1" fill="#000"/><rect x="769" y="545" width="10" height="1" fill="#000"/><rect x="118" y="553" width="10" height="1" fill="#000"/><rect x="769" y="553" width="10" height="1" fill="#000"/><rect x="118" y="562" width="10" height="1" fill="#000"/><rect x="769" y="562" width="10" height="1" fill="#000"/><rect x="118" y="570" width="10" height="1" fill="#000"/><rect x="769" y="570" width="10" height="1" fill="#000"/><rect x="118" y="579" width="10" height="1" fill="#000"/><rect x="769" y="579" width="10" height="1" fill="#000"/><rect x="118" y="588" width="10" height="1" fill="#000"/><rect x="769" y="588" width="10" height="1" fill="#000"/><rect x="118" y="596" width="10" height="1" fill="#000"/><rect x="769" y="596" width="10" height="1" fill="#000"/><rect x="118" y="605" width="10" height="1" fill="#000"/><rect x="769" y="605" width="10" height="1" fill="#000"/><rect x="118" y="613" width="10" height="1" fill="#000"/><rect x="769" y="613" width="10" height="1" fill="#000"/><rect x="896" y="153" width="1" height="462" fill="#000"/><rect x="928" y="153" width="1" height="462" fill="#000"/><rect x="896" y="154" width="33" height="2" fill="#000"/><rect x="896" y="612" width="33" height="3" fill="#000"/><rect x="891" y="153" width="5" height="1" fill="#000"/><rect x="929" y="153" width="5" height="1" fill="#000"/><rect x="886" y="211" width="10" height="1" fill="#000"/><rect x="929" y="211" width="10" height="1" fill="#000"/><rect x="891" y="268" width="5" height="1" fill="#000"/><rect x="929" y="268" width="5" height="1" fill="#000"/><rect x="886" y="326" width="10" height="1" fill="#000"/><rect x="929" y="326" width="10" height="1" fill="#000"/><rect x="891" y="383" width="5" height="1" fill="#000"/><rect x="929" y="383" width="5" height="1" fill="#000"/><rect x="886" y="441" width="10" height="1" fill="#000"/><rect x="929" y="441" width="10" height="1" fill="#000"/><rect x="891" y="498" width="5" height="1" fill="#000"/><rect x="929" y="498" width="5" height="1" fill="#000"/><rect x="886" y="556" width="10" height="1" fill="#000"/><rect x="929" y="556" width="10" height="1" fill="#000"/><rect x="891" y="614" width="5" height="1" fill="#000"/><rect x="929" y="614" width="5" height="1" fill="#000"/></g>
<g shape-rendering="auto">
<text x="215.00" y="111.00" font-size="17.4" textLength="39.00" lengthAdjust="spacingAndGlyphs">Mars</text><text x="263.00" y="111.00" font-size="17.4" textLength="62.50" lengthAdjust="spacingAndGlyphs">Express</text><text x="334.50" y="111.00" font-size="17.4" textLength="57.50" lengthAdjust="spacingAndGlyphs">MARSIS</text><text x="400.50" y="111.00" font-size="17.4" textLength="47.50" lengthAdjust="spacingAndGlyphs">Active</text><text x="456.00" y="111.00" font-size="17.4" textLength="94.00" lengthAdjust="spacingAndGlyphs">Ionospheric</text><text x="557.50" y="111.00" font-size="17.4" textLength="75.50" lengthAdjust="spacingAndGlyphs">Sounding</text><text x="641.00" y="111.00" font-size="17.4" textLength="39.00" lengthAdjust="spacingAndGlyphs">(AIS)</text><text x="205.50" y="134.00" font-size="14.1" textLength="89.50" lengthAdjust="spacingAndGlyphs">2012&#8722;05&#8722;03</text><text x="302.50" y="134.00" font-size="14.1" textLength="36.50" lengthAdjust="spacingAndGlyphs">(124)</text><text x="347.00" y="134.00" font-size="14.1" textLength="57.50" lengthAdjust="spacingAndGlyphs">19:07:16</text><text x="432.00" y="134.00" font-size="14.1" textLength="32.00" lengthAdjust="spacingAndGlyphs">SCET</text><text x="491.50" y="134.00" font-size="14.1" textLength="89.50" lengthAdjust="spacingAndGlyphs">2012&#8722;05&#8722;03</text><text x="587.00" y="134.00" font-size="14.1" textLength="36.50" lengthAdjust="spacingAndGlyphs">(124)</text><text x="632.00" y="134.00" font-size="14.1" textLength="57.50" lengthAdjust="spacingAndGlyphs">19:51:13</text><text x="63.50" y="647.00" font-size="14.1" textLength="32.00" lengthAdjust="spacingAndGlyphs">SCET</text><text x="149.00" y="647.00" font-size="14.1" textLength="38.00" lengthAdjust="spacingAndGlyphs">19:10</text><text x="294.50" y="647.00" font-size="14.1" textLength="38.00" lengthAdjust="spacingAndGlyphs">19:20</text><text x="440.00" y="647.00" font-size="14.1" textLength="37.50" lengthAdjust="spacingAndGlyphs">19:30</text><text x="586.00" y="647.00" font-size="14.1" textLength="37.50" lengthAdjust="spacingAndGlyphs">19:40</text><text x="731.00" y="647.00" font-size="14.1" textLength="38.00" lengthAdjust="spacingAndGlyphs">19:50</text><text x="79.50" y="666.00" font-size="14.1" textLength="16.50" lengthAdjust="spacingAndGlyphs">Alt</text><text x="144.00" y="665.00" font-size="14.1" textLength="53.50" lengthAdjust="spacingAndGlyphs">1311.54</text><text x="296.00" y="665.00" font-size="14.1" textLength="47.00" lengthAdjust="spacingAndGlyphs">596.62</text><text x="441.00" y="665.00" font-size="14.1" textLength="47.00" lengthAdjust="spacingAndGlyphs">328.08</text><text x="588.00" y="665.00" font-size="14.1" textLength="46.00" lengthAdjust="spacingAndGlyphs">663.87</text><text x="726.00" y="665.00" font-size="14.1" textLength="54.50" lengthAdjust="spacingAndGlyphs">1423.45</text><text x="72.50" y="683.00" font-size="14.1" textLength="23.50" lengthAdjust="spacingAndGlyphs">Lon</text><text x="158.00" y="683.00" font-size="14.1" textLength="38.00" lengthAdjust="spacingAndGlyphs">80.93</text><text x="312.50" y="683.00" font-size="14.1" textLength="29.00" lengthAdjust="spacingAndGlyphs">4.27</text><text x="441.00" y="683.00" font-size="14.1" textLength="47.00" lengthAdjust="spacingAndGlyphs">275.29</text><text x="587.50" y="683.00" font-size="14.1" textLength="46.50" lengthAdjust="spacingAndGlyphs">274.54</text><text x="733.50" y="683.00" font-size="14.1" textLength="46.50" lengthAdjust="spacingAndGlyphs">275.42</text><text x="75.00" y="701.00" font-size="14.1" textLength="21.00" lengthAdjust="spacingAndGlyphs">Lat</text><text x="150.00" y="701.00" font-size="14.1" textLength="48.00" lengthAdjust="spacingAndGlyphs">&#8722;60.22</text><text x="296.00" y="701.00" font-size="14.1" textLength="48.00" lengthAdjust="spacingAndGlyphs">&#8722;86.89</text><text x="441.00" y="701.00" font-size="14.1" textLength="46.50" lengthAdjust="spacingAndGlyphs">&#8722;52.61</text><text x="587.50" y="701.00" font-size="14.1" textLength="48.00" lengthAdjust="spacingAndGlyphs">&#8722;15.54</text><text x="741.00" y="701.00" font-size="14.1" textLength="36.00" lengthAdjust="spacingAndGlyphs">12.81</text><text x="81.00" y="719.00" font-size="14.1" textLength="15.00" lengthAdjust="spacingAndGlyphs">LT</text><text x="166.50" y="719.00" font-size="14.1" textLength="29.00" lengthAdjust="spacingAndGlyphs">3.32</text><text x="312.50" y="719.00" font-size="14.1" textLength="28.50" lengthAdjust="spacingAndGlyphs">8.59</text><text x="449.00" y="719.00" font-size="14.1" textLength="38.00" lengthAdjust="spacingAndGlyphs">14.69</text><text x="595.50" y="719.00" font-size="14.1" textLength="37.00" lengthAdjust="spacingAndGlyphs">14.90</text><text x="741.00" y="719.00" font-size="14.1" textLength="37.50" lengthAdjust="spacingAndGlyphs">15.00</text><text x="71.00" y="737.00" font-size="14.1" textLength="25.00" lengthAdjust="spacingAndGlyphs">SZA</text><text x="151.50" y="737.00" font-size="14.1" textLength="45.00" lengthAdjust="spacingAndGlyphs">130.43</text><text x="297.00" y="737.00" font-size="14.1" textLength="45.50" lengthAdjust="spacingAndGlyphs">112.25</text><text x="450.00" y="737.00" font-size="14.1" textLength="36.50" lengthAdjust="spacingAndGlyphs">84.47</text><text x="594.50" y="737.00" font-size="14.1" textLength="38.00" lengthAdjust="spacingAndGlyphs">58.16</text><text x="742.00" y="737.00" font-size="14.1" textLength="35.00" lengthAdjust="spacingAndGlyphs">44.01</text><text x="868.00" y="693.00" font-size="14.1" textLength="81.00" lengthAdjust="spacingAndGlyphs">Orbit 10622</text><text x="49.00" y="201.00" font-size="12.7" textLength="47.00" lengthAdjust="spacingAndGlyphs">5.0&#215;10</text><text x="97.50" y="195.00" font-size="12.7" textLength="7.00" lengthAdjust="spacingAndGlyphs">6</text><text x="50.00" y="286.00" font-size="12.7" textLength="46.00" lengthAdjust="spacingAndGlyphs">4.0&#215;10</text><text x="97.50" y="280.00" font-size="12.7" textLength="7.00" lengthAdjust="spacingAndGlyphs">6</text><text x="49.00" y="371.00" font-size="12.7" textLength="47.00" lengthAdjust="spacingAndGlyphs">3.0&#215;10</text><text x="97.50" y="365.00" font-size="12.7" textLength="7.00" lengthAdjust="spacingAndGlyphs">6</text><text x="50.00" y="456.00" font-size="12.7" textLength="46.00" lengthAdjust="spacingAndGlyphs">2.0&#215;10</text><text x="97.50" y="450.00" font-size="12.7" textLength="7.00" lengthAdjust="spacingAndGlyphs">6</text><text x="49.00" y="541.00" font-size="12.7" textLength="47.00" lengthAdjust="spacingAndGlyphs">1.0&#215;10</text><text x="97.50" y="535.00" font-size="12.7" textLength="7.00" lengthAdjust="spacingAndGlyphs">6</text><text x="839.00" y="216.00" font-size="12.7" textLength="15.00" lengthAdjust="spacingAndGlyphs">10</text><text x="855.00" y="211.00" font-size="12.7" textLength="27.50" lengthAdjust="spacingAndGlyphs">&#8722;10</text><text x="839.00" y="331.00" font-size="12.7" textLength="15.00" lengthAdjust="spacingAndGlyphs">10</text><text x="855.00" y="326.00" font-size="12.7" textLength="27.50" lengthAdjust="spacingAndGlyphs">&#8722;12</text><text x="839.00" y="446.00" font-size="12.7" textLength="15.00" lengthAdjust="spacingAndGlyphs">10</text><text x="855.00" y="441.00" font-size="12.7" textLength="27.50" lengthAdjust="spacingAndGlyphs">&#8722;14</text><text x="839.00" y="561.00" font-size="12.7" textLength="15.00" lengthAdjust="spacingAndGlyphs">10</text><text x="855.00" y="556.00" font-size="12.7" textLength="27.50" lengthAdjust="spacingAndGlyphs">&#8722;16</text>
<text transform="translate(38,0) rotate(-90)" x="-434" y="0" font-size="14.5" textLength="98" lengthAdjust="spacingAndGlyphs">frequency (Hz)</text>
<g transform="translate(827,0) rotate(-90)">
<text x="-430" y="0" font-size="14.5" textLength="7" lengthAdjust="spacingAndGlyphs">V</text>
<text x="-418" y="-8" font-size="8.5" textLength="5" lengthAdjust="spacingAndGlyphs">2</text>
<text x="-405" y="0" font-size="14.5" textLength="10" lengthAdjust="spacingAndGlyphs">m</text>
<text x="-389" y="-8" font-size="8.5" textLength="11" lengthAdjust="spacingAndGlyphs">&#8722;2</text>
<text x="-370" y="0" font-size="14.5" textLength="15" lengthAdjust="spacingAndGlyphs">Hz</text>
<text x="-350" y="-8" font-size="8.5" textLength="10" lengthAdjust="spacingAndGlyphs">&#8722;1</text>
</g>
<text x="966.5" y="766" font-size="7" font-weight="bold" style="stroke:none" textLength="56" lengthAdjust="spacingAndGlyphs">Ulave 20130125</text>
</g>
</svg>
</body></html>
